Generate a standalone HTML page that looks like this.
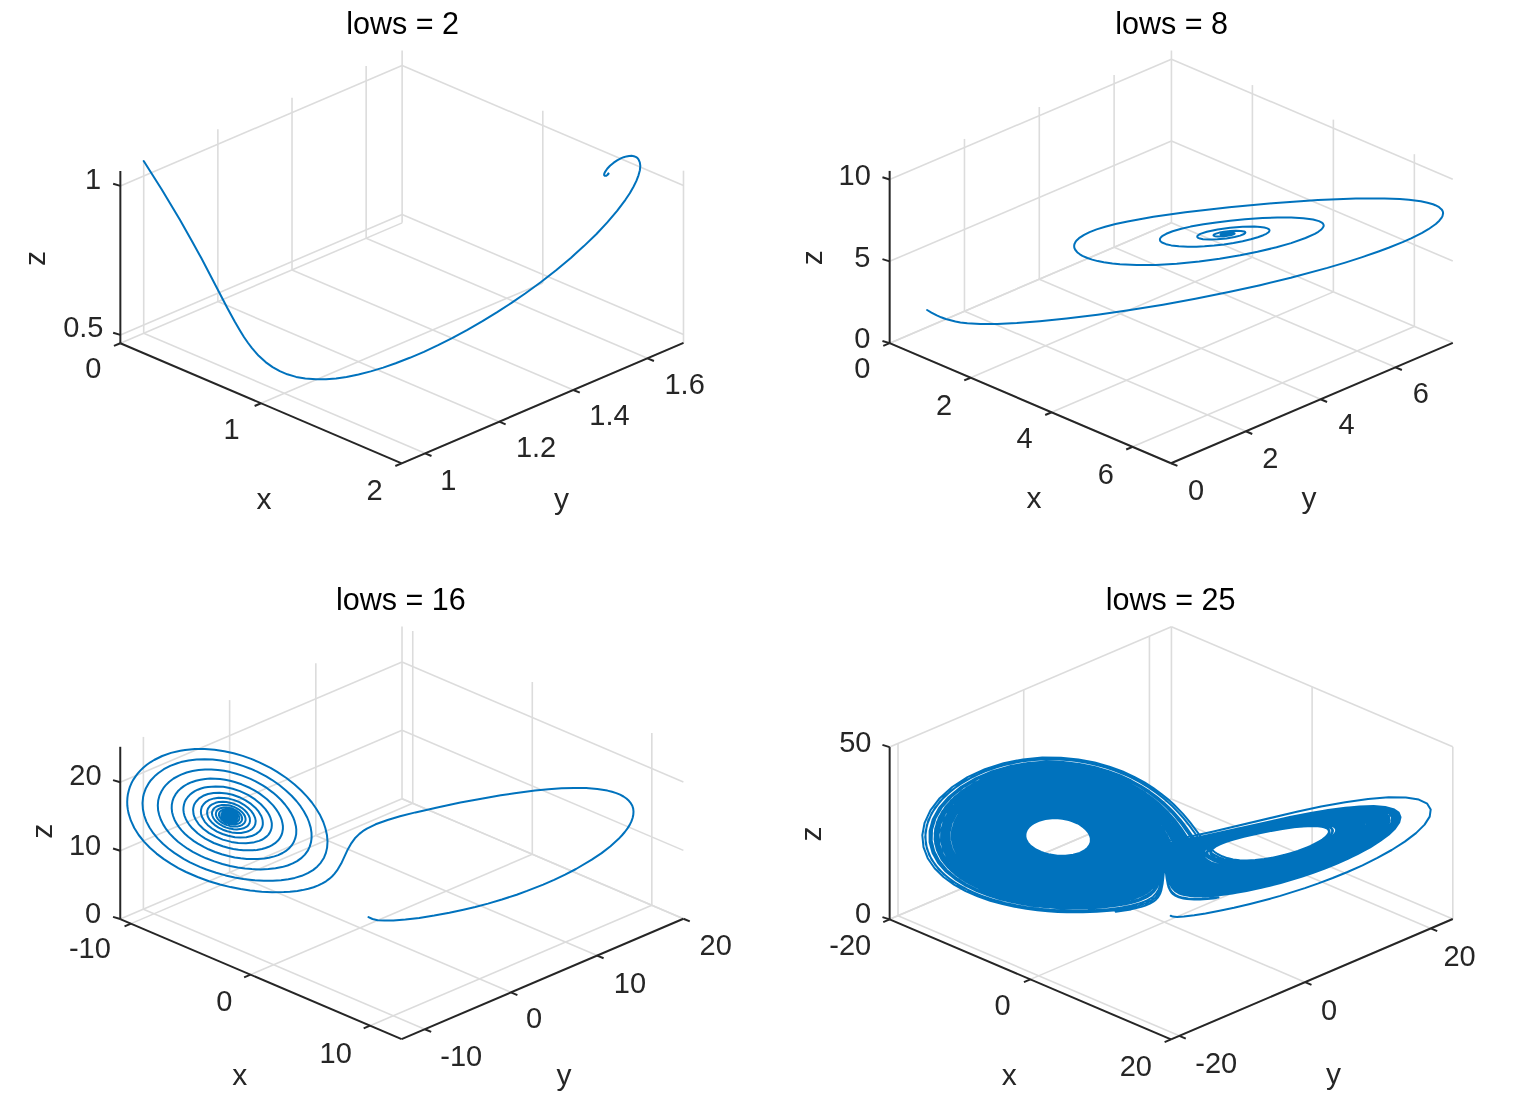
<!DOCTYPE html><html><head><meta charset="utf-8"><title>Lorenz</title><style>html,body{margin:0;padding:0;background:#fff;overflow:hidden}svg{display:block}</style></head><body><svg width="1535" height="1103" viewBox="0 0 1535 1103" font-family="'Liberation Sans', Arial, Helvetica, sans-serif"><rect width="1535" height="1103" fill="#fff"/><g><line x1="120.35" y1="343.25" x2="402.12" y2="222.87" stroke="#dcdcdc" stroke-width="1.60"/><line x1="402.12" y1="222.87" x2="402.12" y2="50.62" stroke="#dcdcdc" stroke-width="1.60"/><line x1="261.03" y1="403.28" x2="542.80" y2="282.90" stroke="#dcdcdc" stroke-width="1.60"/><line x1="542.80" y1="282.90" x2="542.80" y2="110.65" stroke="#dcdcdc" stroke-width="1.60"/><line x1="401.72" y1="463.32" x2="683.49" y2="342.94" stroke="#dcdcdc" stroke-width="1.60"/><line x1="683.49" y1="342.94" x2="683.49" y2="170.69" stroke="#dcdcdc" stroke-width="1.60"/><line x1="143.71" y1="333.27" x2="425.08" y2="453.34" stroke="#dcdcdc" stroke-width="1.60"/><line x1="143.71" y1="333.27" x2="143.71" y2="161.02" stroke="#dcdcdc" stroke-width="1.60"/><line x1="217.86" y1="301.59" x2="499.23" y2="421.66" stroke="#dcdcdc" stroke-width="1.60"/><line x1="217.86" y1="301.59" x2="217.86" y2="129.34" stroke="#dcdcdc" stroke-width="1.60"/><line x1="292.01" y1="269.91" x2="573.38" y2="389.98" stroke="#dcdcdc" stroke-width="1.60"/><line x1="292.01" y1="269.91" x2="292.01" y2="97.66" stroke="#dcdcdc" stroke-width="1.60"/><line x1="366.16" y1="238.23" x2="647.53" y2="358.30" stroke="#dcdcdc" stroke-width="1.60"/><line x1="366.16" y1="238.23" x2="366.16" y2="65.98" stroke="#dcdcdc" stroke-width="1.60"/><line x1="120.35" y1="334.91" x2="402.12" y2="214.53" stroke="#dcdcdc" stroke-width="1.60"/><line x1="402.12" y1="214.53" x2="683.49" y2="334.60" stroke="#dcdcdc" stroke-width="1.60"/><line x1="120.35" y1="185.90" x2="402.12" y2="65.52" stroke="#dcdcdc" stroke-width="1.60"/><line x1="402.12" y1="65.52" x2="683.49" y2="185.59" stroke="#dcdcdc" stroke-width="1.60"/></g><path d="M143.7 161.0l17.9 28.2 18.3 30.6 11.7 20.6 9.7 17.7 26.3 50.4 7.1 13 5.4 9.2 4 6.5 4 5.8 3.9 5.1 6.7 7.7 6.9 6.3 7 5 7.2 4.1 7.5 3.1 8.8 2.6 9.2 1.6 10.8 .8 9.9 -.1 10.1 -.8 10.4 -1.5 12 -2.4 12.2 -3.1 12.5 -3.8 12.5 -4.3 14.1 -5.5 14.1 -6 14.2 -6.6 14 -7.1 15.3 -8.2 15.1 -8.7 14.7 -9 14.3 -9.3 13.7 -9.4 15.5 -11.3 15.7 -12.2 14.4 -12.1 13.1 -11.8 12.6 -12.1 10.8 -11.6 9.8 -11.5 8.3 -11.1 4.4 -6.5 3.7 -6.5 2.9 -5.9 2.1 -5.6 1.4 -5.1 .4 -4.3 -.5 -3.6 -1.3 -2.9 -1.2 -1.5 -1.6 -1 -1.8 -.7 -2.3 -.4 -2.5 .1 -2.6 .5 -2.8 .8 -2.9 1.2 -3.7 2 -3.7 2.5 -3.4 2.9 -2.8 3 -2.4 3.6 -.6 1.5 -.1 1.1 .7 .8 1.3 0 1.9 -1.3 .6 -.9 -.2 -.2 -.3 .3" fill="none" stroke="#0072bd" stroke-width="2.00" stroke-linejoin="round" stroke-linecap="round"/><g stroke-linecap="butt"><line x1="120.35" y1="343.25" x2="401.72" y2="463.32" stroke="#262626" stroke-width="2.00"/><line x1="401.72" y1="463.32" x2="683.49" y2="342.94" stroke="#262626" stroke-width="2.00"/><line x1="120.35" y1="343.25" x2="120.35" y2="171.00" stroke="#262626" stroke-width="2.00"/><line x1="120.35" y1="343.25" x2="113.95" y2="345.95" stroke="#262626" stroke-width="2.00"/><line x1="261.03" y1="403.28" x2="254.63" y2="405.98" stroke="#262626" stroke-width="2.00"/><line x1="401.72" y1="463.32" x2="395.32" y2="466.02" stroke="#262626" stroke-width="2.00"/><line x1="425.08" y1="453.34" x2="431.48" y2="456.04" stroke="#262626" stroke-width="2.00"/><line x1="499.23" y1="421.66" x2="505.63" y2="424.36" stroke="#262626" stroke-width="2.00"/><line x1="573.38" y1="389.98" x2="579.78" y2="392.68" stroke="#262626" stroke-width="2.00"/><line x1="647.53" y1="358.30" x2="653.93" y2="361.00" stroke="#262626" stroke-width="2.00"/><line x1="120.35" y1="334.91" x2="113.15" y2="332.71" stroke="#262626" stroke-width="2.00"/><line x1="120.35" y1="185.90" x2="113.15" y2="183.70" stroke="#262626" stroke-width="2.00"/></g><g><text x="346.18" y="33.85" font-size="30.50" fill="#000">lows = 2</text><text x="84.90" y="189.27" font-size="29.00" fill="#262626">1</text><text x="63.19" y="337.42" font-size="29.00" fill="#262626">0.5</text><text x="85.32" y="378.17" font-size="29.00" fill="#262626">0</text><text x="223.45" y="438.62" font-size="29.00" fill="#262626">1</text><text x="366.55" y="500.31" font-size="29.00" fill="#262626">2</text><text x="440.25" y="489.97" font-size="29.00" fill="#262626">1</text><text x="515.93" y="457.31" font-size="29.00" fill="#262626">1.2</text><text x="589.31" y="425.47" font-size="29.00" fill="#262626">1.4</text><text x="664.47" y="394.07" font-size="29.00" fill="#262626">1.6</text><text x="256.55" y="508.56" font-size="30.00" fill="#262626">x</text><text x="554.05" y="508.55" font-size="30.00" fill="#262626">y</text><text transform="translate(45.06 266.00) rotate(-90)" font-size="30.00" fill="#262626">z</text></g><g><line x1="889.65" y1="343.15" x2="1171.42" y2="222.77" stroke="#dcdcdc" stroke-width="1.60"/><line x1="1171.42" y1="222.77" x2="1171.42" y2="50.52" stroke="#dcdcdc" stroke-width="1.60"/><line x1="970.63" y1="377.71" x2="1252.40" y2="257.33" stroke="#dcdcdc" stroke-width="1.60"/><line x1="1252.40" y1="257.33" x2="1252.40" y2="85.08" stroke="#dcdcdc" stroke-width="1.60"/><line x1="1051.61" y1="412.26" x2="1333.38" y2="291.88" stroke="#dcdcdc" stroke-width="1.60"/><line x1="1333.38" y1="291.88" x2="1333.38" y2="119.63" stroke="#dcdcdc" stroke-width="1.60"/><line x1="1132.59" y1="446.82" x2="1414.36" y2="326.44" stroke="#dcdcdc" stroke-width="1.60"/><line x1="1414.36" y1="326.44" x2="1414.36" y2="154.19" stroke="#dcdcdc" stroke-width="1.60"/><line x1="889.65" y1="343.15" x2="1171.02" y2="463.22" stroke="#dcdcdc" stroke-width="1.60"/><line x1="889.65" y1="343.15" x2="889.65" y2="170.90" stroke="#dcdcdc" stroke-width="1.60"/><line x1="964.47" y1="311.19" x2="1245.84" y2="431.26" stroke="#dcdcdc" stroke-width="1.60"/><line x1="964.47" y1="311.19" x2="964.47" y2="138.94" stroke="#dcdcdc" stroke-width="1.60"/><line x1="1039.29" y1="279.22" x2="1320.66" y2="399.29" stroke="#dcdcdc" stroke-width="1.60"/><line x1="1039.29" y1="279.22" x2="1039.29" y2="106.97" stroke="#dcdcdc" stroke-width="1.60"/><line x1="1114.11" y1="247.26" x2="1395.48" y2="367.33" stroke="#dcdcdc" stroke-width="1.60"/><line x1="1114.11" y1="247.26" x2="1114.11" y2="75.01" stroke="#dcdcdc" stroke-width="1.60"/><line x1="889.65" y1="343.15" x2="1171.42" y2="222.77" stroke="#dcdcdc" stroke-width="1.60"/><line x1="1171.42" y1="222.77" x2="1452.79" y2="342.84" stroke="#dcdcdc" stroke-width="1.60"/><line x1="889.65" y1="261.34" x2="1171.42" y2="140.96" stroke="#dcdcdc" stroke-width="1.60"/><line x1="1171.42" y1="140.96" x2="1452.79" y2="261.03" stroke="#dcdcdc" stroke-width="1.60"/><line x1="889.65" y1="179.52" x2="1171.42" y2="59.14" stroke="#dcdcdc" stroke-width="1.60"/><line x1="1171.42" y1="59.14" x2="1452.79" y2="179.21" stroke="#dcdcdc" stroke-width="1.60"/></g><path d="M927.1 310.0l4.3 2.6 5.4 2.8 4.3 1.9 4.7 1.7 9.6 2.5 5 .9 6.9 .8 13 .8 16.9 -.1 19.6 -.9 22.9 -1.8 26.8 -2.7 31.1 -3.8 30.9 -4.4 34.5 -5.6 32.4 -5.9 34.6 -7 30.1 -6.6 30.7 -7.4 36.6 -9.9 17.8 -5.3 17.1 -5.5 16.2 -5.6 10.1 -3.7 14 -5.7 8.5 -3.8 11 -5.5 6.3 -3.6 7.4 -5.2 3.5 -3.3 2.4 -3.1 .8 -1.5 .6 -2.8 -.2 -1.4 -.5 -1.3 -.8 -1.2 -2.5 -2.2 -3.8 -2 -2.3 -.9 -5.5 -1.6 -6.7 -1.4 -11.9 -1.5 -9.1 -.7 -15.3 -.6 -28.7 .1 -18.7 .6 -19.2 .9 -45.4 3.1 -43.3 4 -43.8 5 -32 4.5 -25.8 4.7 -12.1 2.6 -10.3 2.7 -8.6 2.7 -7 2.7 -5.5 2.7 -5.1 3.4 -2.7 2.6 -.9 1.3 -.9 1.9 -.3 1.3 0 1.8 .3 1.2 .9 1.7 2.4 2.8 2.1 1.5 2.5 1.5 5 2.2 4.8 1.6 5.5 1.5 6.1 1.2 8.6 1.2 7.5 .8 16.8 .8 19 -.2 21 -1.1 22.5 -2.2 20.4 -2.8 20.6 -3.5 17.3 -3.5 19 -4.5 14.6 -4.2 14.4 -5.1 9.3 -4.2 3.5 -2 2.7 -2 1.7 -1.9 .9 -1.7 .1 -1.1 -.7 -1.5 -1.6 -1.3 -2.4 -1.2 -5.9 -1.6 -9.8 -1.3 -12.1 -.6 -13.9 0 -14.8 .5 -17.6 1.2 -14.8 1.4 -13.9 1.7 -12.7 1.9 -12.9 2.3 -9.3 2.2 -8.7 2.5 -6.3 2.5 -4.2 2.4 -1.1 1 -.9 1.3 -.2 .9 .2 1.2 .6 .9 1.3 1 4.1 1.7 5.2 1.2 7.5 .9 9 .5 8.7 -.1 8 -.4 9.7 -.8 9.8 -1.1 9.5 -1.5 9.1 -1.7 8.2 -1.9 7 -2.1 5.5 -2 3 -1.4 2.3 -1.6 .9 -1.5 -.1 -.7 -.3 -.6 -1.8 -1 -3 -.9 -4.1 -.5 -5.8 -.4 -11.8 .2 -12.5 .9 -12.5 1.7 -10.8 2.3 -6.5 2.2 -2 1.2 -1 1 0 1 .9 .8 1.8 .7 3 .6 6.6 .4 7.8 -.3 9 -.9 8.2 -1.4 5.5 -1.4 4 -1.6 .9 -.7 .4 -.7 -.3 -.6 -1 -.5 -3.2 -.6 -5 -.1 -5.7 .3 -6.1 .7 -4.5 .8 -3.6 1 -2.2 1.1 -.3 .5 .1 .4 1.3 .6 2.5 .3 7.3 -.3 6.6 -1.1 2.2 -.7 1.1 -.7 -.1 -.5 -1.1 -.3 -4.5 -.1 -4.6 .5 -3.2 .9 -.5 .4 .3 .4 2.3 .2 3.2 -.2 2.7 -.6 .8 -.5 -1 -.3 -4 .3 -1.1 .4 .2 .3 2.7 -.1 1 -.3 .1 -.2 -1.6 0 -1.1 .3 .9 .1 .9 -.2 -.7 0" fill="none" stroke="#0072bd" stroke-width="2.00" stroke-linejoin="round" stroke-linecap="round"/><g stroke-linecap="butt"><line x1="889.65" y1="343.15" x2="1171.02" y2="463.22" stroke="#262626" stroke-width="2.00"/><line x1="1171.02" y1="463.22" x2="1452.79" y2="342.84" stroke="#262626" stroke-width="2.00"/><line x1="889.65" y1="343.15" x2="889.65" y2="170.90" stroke="#262626" stroke-width="2.00"/><line x1="889.65" y1="343.15" x2="883.25" y2="345.85" stroke="#262626" stroke-width="2.00"/><line x1="970.63" y1="377.71" x2="964.23" y2="380.41" stroke="#262626" stroke-width="2.00"/><line x1="1051.61" y1="412.26" x2="1045.21" y2="414.96" stroke="#262626" stroke-width="2.00"/><line x1="1132.59" y1="446.82" x2="1126.19" y2="449.52" stroke="#262626" stroke-width="2.00"/><line x1="1171.02" y1="463.22" x2="1177.42" y2="465.92" stroke="#262626" stroke-width="2.00"/><line x1="1245.84" y1="431.26" x2="1252.24" y2="433.96" stroke="#262626" stroke-width="2.00"/><line x1="1320.66" y1="399.29" x2="1327.06" y2="401.99" stroke="#262626" stroke-width="2.00"/><line x1="1395.48" y1="367.33" x2="1401.88" y2="370.03" stroke="#262626" stroke-width="2.00"/><line x1="889.65" y1="343.15" x2="882.45" y2="340.95" stroke="#262626" stroke-width="2.00"/><line x1="889.65" y1="261.34" x2="882.45" y2="259.14" stroke="#262626" stroke-width="2.00"/><line x1="889.65" y1="179.52" x2="882.45" y2="177.32" stroke="#262626" stroke-width="2.00"/></g><g><text x="1115.27" y="34.10" font-size="30.50" fill="#000">lows = 8</text><text x="838.56" y="184.97" font-size="29.00" fill="#262626">10</text><text x="854.25" y="266.82" font-size="29.00" fill="#262626">5</text><text x="854.22" y="348.47" font-size="29.00" fill="#262626">0</text><text x="854.22" y="377.97" font-size="29.00" fill="#262626">0</text><text x="935.95" y="414.81" font-size="29.00" fill="#262626">2</text><text x="1016.52" y="447.97" font-size="29.00" fill="#262626">4</text><text x="1097.84" y="483.57" font-size="29.00" fill="#262626">6</text><text x="1188.12" y="499.67" font-size="29.00" fill="#262626">0</text><text x="1262.15" y="468.11" font-size="29.00" fill="#262626">2</text><text x="1338.62" y="434.47" font-size="29.00" fill="#262626">4</text><text x="1412.64" y="402.77" font-size="29.00" fill="#262626">6</text><text x="1026.40" y="508.11" font-size="30.00" fill="#262626">x</text><text x="1301.40" y="508.20" font-size="30.00" fill="#262626">y</text><text transform="translate(821.61 265.15) rotate(-90)" font-size="30.00" fill="#262626">z</text></g><g><line x1="130.98" y1="923.63" x2="412.75" y2="803.25" stroke="#dcdcdc" stroke-width="1.60"/><line x1="412.75" y1="803.25" x2="412.75" y2="631.00" stroke="#dcdcdc" stroke-width="1.60"/><line x1="250.52" y1="974.64" x2="532.29" y2="854.26" stroke="#dcdcdc" stroke-width="1.60"/><line x1="532.29" y1="854.26" x2="532.29" y2="682.01" stroke="#dcdcdc" stroke-width="1.60"/><line x1="370.06" y1="1025.65" x2="651.83" y2="905.27" stroke="#dcdcdc" stroke-width="1.60"/><line x1="651.83" y1="905.27" x2="651.83" y2="733.02" stroke="#dcdcdc" stroke-width="1.60"/><line x1="143.41" y1="909.15" x2="424.78" y2="1029.22" stroke="#dcdcdc" stroke-width="1.60"/><line x1="143.41" y1="909.15" x2="143.41" y2="736.90" stroke="#dcdcdc" stroke-width="1.60"/><line x1="229.62" y1="872.33" x2="510.99" y2="992.40" stroke="#dcdcdc" stroke-width="1.60"/><line x1="229.62" y1="872.33" x2="229.62" y2="700.08" stroke="#dcdcdc" stroke-width="1.60"/><line x1="315.82" y1="835.50" x2="597.19" y2="955.57" stroke="#dcdcdc" stroke-width="1.60"/><line x1="315.82" y1="835.50" x2="315.82" y2="663.25" stroke="#dcdcdc" stroke-width="1.60"/><line x1="402.02" y1="798.67" x2="683.39" y2="918.74" stroke="#dcdcdc" stroke-width="1.60"/><line x1="402.02" y1="798.67" x2="402.02" y2="626.42" stroke="#dcdcdc" stroke-width="1.60"/><line x1="120.25" y1="919.05" x2="402.02" y2="798.67" stroke="#dcdcdc" stroke-width="1.60"/><line x1="402.02" y1="798.67" x2="683.39" y2="918.74" stroke="#dcdcdc" stroke-width="1.60"/><line x1="120.25" y1="850.69" x2="402.02" y2="730.31" stroke="#dcdcdc" stroke-width="1.60"/><line x1="402.02" y1="730.31" x2="683.39" y2="850.38" stroke="#dcdcdc" stroke-width="1.60"/><line x1="120.25" y1="782.32" x2="402.02" y2="661.94" stroke="#dcdcdc" stroke-width="1.60"/><line x1="402.02" y1="661.94" x2="683.39" y2="782.01" stroke="#dcdcdc" stroke-width="1.60"/></g><path d="M368.5 917.1l4 1.9 5.2 1.2 6.8 .4 8.9 -.2 12 -.9 13.8 -1.6 15 -2.3 15.2 -2.8 14 -3 11.8 -2.8 12.8 -3.4 13.9 -4.1 14.8 -4.8 10.4 -3.8 16.1 -6.3 10.9 -4.8 11 -5.2 10.9 -5.6 15.8 -9.3 9.8 -6.6 8.9 -6.9 7.9 -7.1 3.4 -3.6 3 -3.5 2.7 -3.6 2.2 -3.5 1.7 -3.5 1.2 -3.4 .7 -3.3 .2 -3.1 -.3 -3 -.9 -2.8 -1.5 -2.6 -1.9 -2.4 -2.5 -2.3 -2.9 -2 -3.4 -1.8 -3.8 -1.6 -4.3 -1.3 -4.6 -1.2 -10.1 -1.6 -11.2 -.9 -12 -.2 -12.6 .4 -13.1 .9 -13.4 1.3 -20.4 2.7 -13.8 2.1 -20.8 3.6 -19.6 3.7 -23.1 4.8 -21.9 5 -15.4 3.9 -12.4 3.7 -12 4.3 -8.7 4.3 -4.1 2.6 -3.4 2.7 -4.5 4.4 -4 5.6 -3 5.3 -6.7 14.4 -4.1 6.8 -2.7 3.5 -2.4 2.6 -2.8 2.4 -3.2 2.4 -3.6 2.1 -4.1 2 -4.7 1.8 -5.2 1.5 -6 1.4 -5 .8 -7.5 .8 -6.1 .4 -11.6 .1 -10.5 -.5 -11.6 -1.2 -9.4 -1.4 -10.1 -2 -10.6 -2.6 -11 -3.3 -11.4 -4.2 -11.6 -5 -7.7 -3.9 -7.5 -4.4 -7.3 -4.8 -7 -5.3 -6.6 -5.8 -5.9 -6.2 -5.3 -6.6 -4.4 -7 -3.4 -7.3 -2.4 -7.6 -.7 -3.7 -.5 -3.9 -.1 -3.8 .2 -3.8 .5 -3.7 .9 -3.7 1.1 -3.6 1.5 -3.6 1.8 -3.4 2.2 -3.3 2.4 -3.2 2.7 -3 3 -2.9 3.3 -2.7 3.5 -2.5 3.8 -2.3 8.1 -4 8.8 -3.1 9.3 -2.2 4.8 -.7 9.8 -.9 9.9 0 9.8 .7 9.7 1.4 9.4 2.1 9 2.6 8.5 3 8.1 3.4 11.2 5.6 6.7 4 9.2 6.1 7.9 6.3 6.9 6.2 5.8 6.1 4.9 5.9 4 5.7 4.3 7.1 3.1 6.7 2.1 6.2 1.6 7.1 .5 6.4 -.4 5.9 -1.2 5.3 -1.9 4.8 -3.3 5.1 -3.5 3.9 -4.2 3.4 -5.2 3 -6 2.7 -7 2.1 -6.5 1.4 -7.3 .9 -8.1 .6 -9 0 -9.8 -.6 -10.8 -1.3 -8.7 -1.5 -9.1 -2 -9.4 -2.6 -9.7 -3.3 -6.6 -2.6 -9.8 -4.6 -6.4 -3.5 -9.3 -5.9 -5.9 -4.4 -5.5 -4.7 -5.1 -5.2 -4.5 -5.4 -3.8 -5.7 -3.1 -5.9 -2.2 -6.1 -1.3 -6.2 -.4 -6.2 .6 -6.1 .7 -3 2.1 -5.8 3.1 -5.4 1.9 -2.6 4.6 -4.8 2.6 -2.2 5.7 -4 6.4 -3.3 7.1 -2.7 3.6 -1.1 7.7 -1.6 7.9 -1 8.1 -.3 8.1 .4 8 .9 7.8 1.4 7.7 1.9 7.3 2.3 7 2.6 6.6 2.9 9.1 4.8 5.6 3.4 7.5 5.2 6.6 5.4 5.7 5.4 4.8 5.2 4.1 5.2 3.3 5 3.4 6.3 1.8 4.5 1.7 5.6 .8 5.3 .1 4.9 -.6 4.5 -1.2 4.1 -1.8 3.9 -3.1 4.3 -4 3.8 -3.8 2.7 -4.4 2.3 -5.1 2.1 -5.7 1.6 -6.4 1.2 -7.2 .8 -7.8 .3 -8.6 -.3 -6.9 -.6 -7.3 -1 -7.6 -1.5 -7.8 -2 -8 -2.6 -8.2 -3.1 -5.4 -2.4 -7.9 -4.1 -5.2 -3.1 -4.9 -3.4 -4.7 -3.6 -4.3 -4 -4 -4.1 -3.5 -4.4 -2.9 -4.6 -2.4 -4.8 -1.7 -4.8 -1.1 -4.8 -.3 -4.9 .4 -4.8 1.2 -4.6 2 -4.4 2.6 -4.2 1.6 -1.9 3.7 -3.7 4.3 -3.2 4.9 -2.7 2.6 -1.2 5.5 -2.1 5.9 -1.5 6.1 -1 6.4 -.5 6.3 0 6.5 .4 6.3 .9 6.2 1.3 6.1 1.6 5.8 1.9 8.3 3.3 5.1 2.5 7.1 4 4.4 2.8 5.8 4.4 3.5 3 4.7 4.4 3.9 4.5 3.3 4.4 2.7 4.2 2.1 4.1 1.5 4 1.3 5 .4 3.5 -.1 4.4 -.9 4.1 -1.5 3.8 -2.1 3.4 -2.8 3.1 -3.3 2.7 -3 1.8 -4.4 2.1 -3.8 1.3 -5.5 1.4 -4.5 .7 -6.6 .6 -5.4 0 -5.6 -.2 -6 -.6 -6.1 -.9 -6.4 -1.4 -6.6 -1.8 -6.6 -2.2 -6.6 -2.7 -4.3 -2.1 -6.3 -3.5 -4 -2.6 -5.7 -4.3 -3.4 -3.1 -3.2 -3.3 -2.8 -3.5 -2.3 -3.5 -2 -3.7 -1.4 -3.7 -1 -3.8 -.4 -3.8 .1 -3.7 .7 -3.6 1.2 -3.4 1.8 -3.3 2.3 -3.1 2.8 -2.7 3.3 -2.5 3.6 -2.1 4.1 -1.8 4.3 -1.5 4.6 -1 4.8 -.7 4.9 -.4 4.9 .1 5 .3 5 .7 4.9 1 4.7 1.3 6.9 2.3 8.5 3.7 3.8 2.1 5.4 3.3 7.7 5.9 6.1 6.1 2.9 3.7 2.4 3.6 1.8 3.5 1.4 3.4 .8 3.3 .5 3.1 0 3 -.6 3.7 -.9 2.6 -1.7 3.1 -1.7 2.2 -2.9 2.6 -3.4 2.2 -2.9 1.4 -3.3 1.2 -3.5 1 -5.2 .9 -4.2 .4 -9.3 0 -4.9 -.5 -5.1 -.8 -5.3 -1.2 -5.3 -1.5 -8.9 -3.3 -8.5 -4.4 -4.7 -3.1 -3 -2.2 -5.3 -5 -3.3 -4 -1.8 -2.7 -1.5 -2.9 -1.2 -2.9 -.7 -2.8 -.4 -2.9 .1 -2.9 .5 -2.7 .8 -2.7 1.3 -2.5 1.7 -2.3 2 -2.2 2.4 -1.9 2.6 -1.8 3 -1.4 3.2 -1.2 3.4 -1 3.6 -.6 7.6 -.5 7.7 .4 3.8 .7 5.6 1.3 7.2 2.3 8.1 3.8 7.1 4.5 5.8 4.8 4.5 4.9 2.1 3 1.7 2.9 1.3 2.9 .8 2.8 .5 2.6 0 2.6 -.3 2.4 -.7 2.2 -1 2.1 -1.3 2 -1.7 1.8 -2.7 2 -2.3 1.4 -2.7 1.1 -6.1 1.7 -7 .7 -7.8 -.3 -6.9 -1.1 -8.6 -2.3 -7 -2.9 -6.6 -3.6 -5.9 -4.4 -3 -2.9 -1.8 -2 -2.8 -4.3 -1.5 -3.3 -.6 -2.2 -.4 -4.4 .3 -2.1 .5 -2.1 .9 -1.9 1.2 -1.8 3.1 -3.3 4.1 -2.6 4.8 -1.8 5.5 -1.1 5.8 -.2 7.4 .7 5.9 1.3 6.8 2.5 6.2 3.1 5.4 3.6 4.3 3.8 3.4 4 2.4 4 .9 2.3 .6 2.3 .2 2.1 0 2.1 -.4 2 -.8 1.8 -1 1.7 -1.3 1.5 -3.4 2.6 -4.3 2 -5.3 1.1 -6 .3 -5.4 -.3 -6.8 -1.4 -5.6 -1.8 -5.5 -2.4 -5 -3.1 -4.4 -3.6 -2.8 -3.1 -2.5 -4.2 -1.2 -3.4 -.2 -2.5 .1 -1.7 .8 -3.1 1.8 -2.7 2.5 -2.4 3.2 -1.9 4.9 -1.5 4.3 -.6 5.6 .1 4.6 .7 5.6 1.5 5.1 2.1 4.6 2.6 3.9 3 3.2 3.1 2.3 3.2 1.7 3.8 .6 3 -.4 3.3 -1.1 2.4 -2.2 2.5 -3.2 1.9 -3.2 1.1 -4.5 .8 -4.1 .1 -5.3 -.6 -4.5 -1.1 -4.4 -1.6 -4.2 -2.1 -3.8 -2.5 -3.2 -2.9 -2.5 -3.1 -1.3 -2.6 -.7 -3.3 .2 -2.5 .8 -2.3 1.9 -2.5 2.2 -1.6 3.4 -1.5 3.1 -.8 4.3 -.2 3.5 .2 4.4 .9 3.4 1.1 3.9 1.7 3.5 2.1 3 2.4 2.3 2.5 1.9 3.1 .9 2.4 .2 2.9 -.5 2.1 -1.4 2.2 -1.8 1.5 -2.8 1.4 -3.4 .8 -3.2 .3 -3.4 -.2 -3.5 -.6 -3.6 -1 -3.4 -1.4 -3.2 -1.8 -2.3 -1.6 -2.4 -2.3 -1.8 -2.5 -1 -2.5 -.3 -2 .2 -1.9 .9 -2.1 1.3 -1.5 2.2 -1.5 2.2 -.8 3 -.6 2.7 -.2 3.4 .3 2.7 .6 3.3 1.1 3 1.4 2.7 1.7 2.2 1.9 1.7 2 1.3 2 .7 2.4 .1 1.8 -.5 1.7 -.9 1.5 -1.8 1.5 -1.8 .9 -2.7 .7 -2.6 .2 -2.7 -.2 -2.8 -.5 -2.8 -.8 -2.7 -1.1 -2.5 -1.4 -2.1 -1.6 -1.8 -1.9 -1.2 -1.9 -.6 -1.5 -.3 -1.6 .3 -1.8 .6 -1.3 1.3 -1.4 1.4 -.9 2 -.8 2.4 -.4 2.6 0 4.8 .8 2.5 1 2.3 1.1 2 1.4 1.6 1.5 1.3 1.6 .8 1.6 .4 1.5 0 1.5 -.4 1.3 -1.1 1.4 -1.2 .9 -1.6 .7 -2.2 .4 -2 .1 -4.4 -.6 -4.3 -1.6 -3.4 -2.5 -2 -2.7 -.5 -1.5 -.1 -1.1 .2 -1.1 .6 -1.3 .9 -.8 1.3 -.8 1.7 -.6 1.8 -.3 3.7 .3 4 1.2 3.3 2.1 2.2 2.4 .6 1.2 .2 1.3 0 1.1 -.4 1 -.8 .9 -1 .7 -1.2 .6 -1.7 .3 -3.4 -.1 -3.4 -.9 -3.1 -1.7 -2 -1.9 -1 -2.1 -.1 -1.1 .2 -1.1 1.3 -1.5 2.4 -1 2.7 -.1 3.2 .6 2.9 1.4 2.1 1.8 1.1 2 0 1.8 -1 1.5 -1.8 .9 -2.5 .2 -2.7 -.4 -2.6 -1.1 -2.1 -1.5 -1.1 -1.6 -.3 -1.8 .7 -1.3 1.6 -1 2 -.4 2.5 .3 2.3 .9 1.9 1.3 1.2 1.5 .4 1.5 -.5 1.3 -1.3 .9 -1.7 .4 -2.1 -.2 -2.1 -.7 -1.8 -1 -1.1 -1.3 -.5 -1.4 .2 -1.1 1 -.9 1.4 -.5 1.9 0 1.9 .5 1.6 .9 1.2 1.2 .5 1.2 -.1 1.1 -.8 .8 -1.2 .5 -1.6 0 -1.7 -.4 -1.5 -.7 -1 -.9 -.6 -1.1 0 -1 .6 -.9 1 -.4 1.4 -.1 1.5 .3 1.4 .6 1 .9 .6 .9 0 .9 -.5 .7 -.9 .5 -1.2 .1 -1.3 -.2 -1.2 -.5 -.9 -.7 -.6 -.8 -.1 -.9 .4 -.7 .7 -.4 1 -.1 2.3 .5 1.4 1.3 .2 .8 -.3 .6 -.6 .4 -.8 .2 -2 -.4 -1.4 -1.1 -.2 -.7 .1 -.6 1.2 -.6 1.8 .3 1.3 .9 .2 .6 0 .6 -1 .6 -1.6 -.2 -1.2 -.8 -.2 -1 .7 -.6 1.4 .1 1.1 .7 .4 .8 -.6 .6 -1.2 0 -1 -.5 -.4 -.8 .4 -.6 1 0 1 .4 .4 .7 -.3 .5 -.8 .1 -.9 -.3 -.5 -.6 .2 -.5 .7 -.2 .8 .3 .5 .5 -.1 .5 -.6 .2 -.7 -.2 -.5 -.5 0 -.4 .5 -.2 1.1 .5 0 .4 -.4 .2 -1 -.4 0 -.3 .3 -.2 .9 .3 .1 .3 -.2 .2 -.9 -.2 -.1 -.3 .2 -.2 .7 .1 0 .5 -.6 -.1 -.1 -.4 .6 0 .1 .4 -.5 0 -.1 -.4 .4 0 .1 .3 -.3 .1 -.2 -.3 .3 0 .2 .2 -.2 -.1" fill="none" stroke="#0072bd" stroke-width="2.00" stroke-linejoin="round" stroke-linecap="round"/><g stroke-linecap="butt"><line x1="120.25" y1="919.05" x2="401.62" y2="1039.12" stroke="#262626" stroke-width="2.00"/><line x1="401.62" y1="1039.12" x2="683.39" y2="918.74" stroke="#262626" stroke-width="2.00"/><line x1="120.25" y1="919.05" x2="120.25" y2="746.80" stroke="#262626" stroke-width="2.00"/><line x1="130.98" y1="923.63" x2="124.58" y2="926.33" stroke="#262626" stroke-width="2.00"/><line x1="250.52" y1="974.64" x2="244.12" y2="977.34" stroke="#262626" stroke-width="2.00"/><line x1="370.06" y1="1025.65" x2="363.66" y2="1028.35" stroke="#262626" stroke-width="2.00"/><line x1="424.78" y1="1029.22" x2="431.18" y2="1031.92" stroke="#262626" stroke-width="2.00"/><line x1="510.99" y1="992.40" x2="517.39" y2="995.10" stroke="#262626" stroke-width="2.00"/><line x1="597.19" y1="955.57" x2="603.59" y2="958.27" stroke="#262626" stroke-width="2.00"/><line x1="683.39" y1="918.74" x2="689.79" y2="921.44" stroke="#262626" stroke-width="2.00"/><line x1="120.25" y1="919.05" x2="113.05" y2="916.85" stroke="#262626" stroke-width="2.00"/><line x1="120.25" y1="850.69" x2="113.05" y2="848.49" stroke="#262626" stroke-width="2.00"/><line x1="120.25" y1="782.32" x2="113.05" y2="780.12" stroke="#262626" stroke-width="2.00"/></g><g><text x="336.07" y="609.90" font-size="30.50" fill="#000">lows = 16</text><text x="85.12" y="923.37" font-size="29.00" fill="#262626">0</text><text x="68.96" y="855.17" font-size="29.00" fill="#262626">10</text><text x="69.32" y="785.37" font-size="29.00" fill="#262626">20</text><text x="68.94" y="958.47" font-size="29.00" fill="#262626">-10</text><text x="216.32" y="1010.77" font-size="29.00" fill="#262626">0</text><text x="319.56" y="1062.87" font-size="29.00" fill="#262626">10</text><text x="440.24" y="1066.27" font-size="29.00" fill="#262626">-10</text><text x="526.12" y="1027.87" font-size="29.00" fill="#262626">0</text><text x="613.86" y="992.77" font-size="29.00" fill="#262626">10</text><text x="699.52" y="954.57" font-size="29.00" fill="#262626">20</text><text x="232.30" y="1084.81" font-size="30.00" fill="#262626">x</text><text x="556.60" y="1084.80" font-size="30.00" fill="#262626">y</text><text transform="translate(52.21 838.85) rotate(-90)" font-size="30.00" fill="#262626">z</text></g><g><line x1="889.65" y1="919.35" x2="1171.42" y2="798.97" stroke="#dcdcdc" stroke-width="1.60"/><line x1="1171.42" y1="798.97" x2="1171.42" y2="626.72" stroke="#dcdcdc" stroke-width="1.60"/><line x1="1030.34" y1="979.38" x2="1312.11" y2="859.00" stroke="#dcdcdc" stroke-width="1.60"/><line x1="1312.11" y1="859.00" x2="1312.11" y2="686.75" stroke="#dcdcdc" stroke-width="1.60"/><line x1="1171.02" y1="1039.42" x2="1452.79" y2="919.04" stroke="#dcdcdc" stroke-width="1.60"/><line x1="1452.79" y1="919.04" x2="1452.79" y2="746.79" stroke="#dcdcdc" stroke-width="1.60"/><line x1="898.01" y1="915.78" x2="1179.38" y2="1035.85" stroke="#dcdcdc" stroke-width="1.60"/><line x1="898.01" y1="915.78" x2="898.01" y2="743.53" stroke="#dcdcdc" stroke-width="1.60"/><line x1="1023.72" y1="862.07" x2="1305.09" y2="982.14" stroke="#dcdcdc" stroke-width="1.60"/><line x1="1023.72" y1="862.07" x2="1023.72" y2="689.82" stroke="#dcdcdc" stroke-width="1.60"/><line x1="1149.42" y1="808.37" x2="1430.79" y2="928.44" stroke="#dcdcdc" stroke-width="1.60"/><line x1="1149.42" y1="808.37" x2="1149.42" y2="636.12" stroke="#dcdcdc" stroke-width="1.60"/><line x1="889.65" y1="919.35" x2="1171.42" y2="798.97" stroke="#dcdcdc" stroke-width="1.60"/><line x1="1171.42" y1="798.97" x2="1452.79" y2="919.04" stroke="#dcdcdc" stroke-width="1.60"/><line x1="889.65" y1="747.10" x2="1171.42" y2="626.72" stroke="#dcdcdc" stroke-width="1.60"/><line x1="1171.42" y1="626.72" x2="1452.79" y2="746.79" stroke="#dcdcdc" stroke-width="1.60"/></g><path d="M1170.7 915.8l2 .8 4.4 .4 6.8 -.5 10.3 -1.3 11.3 -1.8 15.3 -2.9 13.2 -2.7 16 -3.8 19.3 -5 11 -3.1 24.6 -7.8 13.5 -4.7 14.3 -5.4 14.8 -6 15 -6.7 14.9 -7.4 14.3 -7.9 13.1 -8.4 11.2 -8.5 8.6 -8.5 5.1 -8 1 -7.1 -3.5 -5.8 -8.4 -4.1 -13 -2.2 -17.2 -.2 -20.5 1.7 -22.9 3.3 -24.1 4.4 -24.3 5.2 -84.4 19.9 -30.4 6.5 -12.4 2.3 -19.8 3 -14.6 1.6 -18.8 1.5 -8.8 .9 -6.7 1.4 -13.8 4.1 -6.6 1.6 -7.4 1.1 -5.4 .4 -8.7 -.2 -9 -1.3 -5.9 -1.6 -2.9 -1.1 -5.3 -2.4 -4.5 -3.1 -1.8 -1.7 -1.6 -1.9 -1.2 -1.9 -.9 -2 -.5 -2.1 0 -2.1 .3 -2.1 .8 -2 1.2 -2 1.5 -1.9 2 -1.7 2.3 -1.6 2.6 -1.4 2.9 -1.2 6.3 -1.8 6.8 -.8 3.5 -.1 6.8 .6 6.4 1.3 3 1 5.4 2.2 2.3 1.3 4.1 2.9 1.7 1.5 2.8 3.1 1 1.6 1.3 3.1 .4 1.6 0 3 -.2 1.4 -1.2 2.7 -1.9 2.5 -2.6 2.2 -5.1 2.8 -6.6 1.9 -7.7 1 -8.6 -.1 -9 -1.4 -5.9 -1.7 -2.8 -1.1 -5.1 -2.7 -2.3 -1.5 -3.8 -3.5 -1.4 -2 -1 -2 -.7 -2.1 -.2 -2.1 .1 -2.1 .6 -2.1 1 -2.1 1.5 -1.9 1.8 -1.9 2.2 -1.7 2.5 -1.5 2.9 -1.3 6.3 -2 6.9 -1.1 7 0 6.9 .8 3.2 .7 6.1 1.9 5.2 2.4 2.3 1.4 4 3 1.6 1.5 2.4 3.2 .9 1.6 1.2 3.2 .2 1.6 -.2 3 -.4 1.4 -1.3 2.7 -1 1.2 -2.4 2.4 -3.2 2 -1.8 .9 -6.5 2.1 -7.6 1.2 -8.7 .1 -9.1 -1.2 -6 -1.6 -2.9 -1 -5.5 -2.6 -4.6 -3.1 -1.9 -1.8 -1.7 -1.9 -1.2 -2 -.9 -2.1 -.5 -2.2 -.1 -2.1 .4 -2.2 .9 -2.1 1.2 -2.1 1.7 -2 2 -1.8 2.5 -1.6 2.7 -1.5 6.3 -2.3 6.9 -1.3 7.2 -.3 7.1 .6 6.6 1.5 6 2.1 5.1 2.6 4.2 3 3.3 3.1 1.2 1.7 1.8 3.2 1 3.2 .1 1.6 -.4 3 -.5 1.4 -1.5 2.7 -2.3 2.4 -1.4 1.1 -3.4 2 -1.9 .9 -4.4 1.4 -7.5 1.4 -5.7 .3 -6 -.2 -6.2 -.7 -6.2 -1.4 -5.9 -2.1 -5.5 -2.7 -4.5 -3.3 -1.8 -1.9 -1.6 -2 -1.1 -2.1 -.7 -2.2 -.3 -2.2 .1 -2.2 .6 -2.2 1 -2.2 1.5 -2 1.8 -2 2.3 -1.8 2.6 -1.6 3 -1.4 3.2 -1.2 6.9 -1.6 7.3 -.6 7.3 .4 7 1.3 6.3 1.9 5.4 2.6 4.6 2.9 3.6 3.2 1.4 1.7 2.1 3.3 1.2 3.3 .2 1.6 -.1 3.1 -.4 1.4 -1.3 2.8 -1 1.3 -2.5 2.4 -3.1 2.1 -1.9 1 -4.2 1.5 -7.4 1.7 -5.6 .5 -9.1 -.2 -6.4 -.9 -6.3 -1.6 -6 -2.2 -5.4 -2.8 -4.5 -3.6 -1.7 -1.9 -1.5 -2.1 -1 -2.2 -.6 -2.2 -.2 -2.3 .3 -2.2 .8 -2.3 1.2 -2.2 1.7 -2.1 2 -1.9 2.5 -1.8 2.8 -1.5 3.1 -1.4 3.4 -1.1 7.2 -1.5 7.5 -.4 7.4 .6 7 1.4 6.3 2.2 5.4 2.7 4.4 3 3.5 3.3 1.3 1.7 2 3.4 1 3.3 .2 1.6 -.3 3.1 -.4 1.5 -1.5 2.8 -1.1 1.3 -2.6 2.4 -3.3 2.1 -2 .9 -4.3 1.5 -7.7 1.6 -5.7 .4 -6.2 0 -6.4 -.7 -6.5 -1.3 -6.3 -2 -5.8 -2.7 -4.9 -3.4 -2.1 -1.9 -1.7 -2 -1.4 -2.2 -.9 -2.2 -.5 -2.3 -.1 -2.3 .5 -2.4 .9 -2.2 1.3 -2.3 1.9 -2.1 2.2 -1.9 2.6 -1.8 3 -1.5 3.3 -1.3 7.1 -1.9 7.7 -.8 7.7 .3 7.3 1.1 6.7 2 5.8 2.6 4.9 3 3.8 3.3 1.6 1.7 2.3 3.4 1.4 3.4 .4 1.7 0 3.2 -.3 1.6 -1.2 2.9 -.9 1.4 -2.4 2.5 -3.1 2.2 -1.9 1 -6.4 2.5 -7.9 1.5 -5.9 .4 -6.4 -.1 -6.5 -.8 -6.6 -1.4 -6.4 -2.1 -5.9 -2.8 -5 -3.4 -2 -2 -1.7 -2.1 -1.3 -2.3 -.9 -2.3 -.4 -2.3 0 -2.4 .5 -2.4 1.1 -2.3 1.5 -2.3 1.9 -2.1 2.4 -2 2.8 -1.7 3.1 -1.6 3.4 -1.3 3.6 -1 3.8 -.8 7.9 -.7 7.8 .4 7.4 1.3 6.8 2.1 5.8 2.7 4.9 3.2 3.8 3.3 1.5 1.8 2.3 3.5 1.3 3.4 .3 1.7 0 3.3 -.4 1.5 -1.3 3 -.9 1.4 -2.5 2.5 -3.2 2.2 -1.9 1 -6.7 2.5 -8 1.5 -6.1 .4 -6.4 -.2 -6.7 -.8 -6.8 -1.4 -6.5 -2.2 -6 -2.9 -5.1 -3.6 -2 -2 -1.7 -2.2 -1.3 -2.3 -.9 -2.3 -.4 -2.5 .1 -2.4 .6 -2.5 1.1 -2.4 1.6 -2.3 2.1 -2.1 2.5 -2 2.9 -1.8 3.2 -1.6 3.5 -1.3 3.8 -1 3.9 -.7 8.1 -.7 8 .5 7.5 1.4 6.9 2.2 5.9 2.8 4.8 3.2 3.9 3.5 1.5 1.8 2.2 3.6 1.3 3.5 .3 1.7 -.1 3.3 -.4 1.6 -1.3 2.9 -1 1.4 -2.5 2.6 -3.3 2.3 -1.9 1 -6.8 2.5 -8.2 1.5 -6.2 .4 -6.6 -.2 -6.8 -.8 -6.9 -1.4 -6.7 -2.3 -6.2 -2.9 -2.7 -1.8 -2.5 -1.9 -2.1 -2.1 -1.8 -2.2 -1.3 -2.3 -.9 -2.5 -.4 -2.5 .1 -2.5 .6 -2.5 1.2 -2.5 1.6 -2.3 2.2 -2.3 2.6 -2 2.9 -1.8 3.4 -1.6 3.6 -1.3 3.9 -1.1 4 -.7 8.3 -.7 8.2 .5 7.7 1.5 7 2.3 6 2.9 5 3.3 3.8 3.5 1.6 1.8 2.3 3.7 1.2 3.6 .3 1.7 -.1 3.4 -.3 1.6 -1.4 3 -1 1.4 -2.6 2.6 -3.3 2.3 -1.9 1.1 -4.4 1.8 -2.5 .7 -8.3 1.6 -6.3 .4 -6.7 -.1 -7 -.8 -7.1 -1.4 -6.8 -2.3 -6.4 -2.9 -2.8 -1.8 -2.6 -2 -2.2 -2.1 -1.9 -2.3 -1.4 -2.4 -.9 -2.5 -.5 -2.5 0 -2.6 .6 -2.6 1.2 -2.5 1.6 -2.5 2.2 -2.3 2.6 -2.1 3 -1.9 3.4 -1.7 3.8 -1.3 3.9 -1.1 4.1 -.8 4.3 -.5 4.2 -.2 8.5 .5 7.9 1.5 7.2 2.3 6.2 2.9 5.1 3.4 4 3.6 1.6 1.9 2.3 3.7 1.4 3.7 .3 1.7 -.1 3.5 -.3 1.6 -1.4 3.1 -.9 1.4 -2.6 2.7 -3.3 2.4 -1.9 1.1 -4.4 1.8 -2.5 .8 -8.4 1.7 -6.3 .5 -6.8 -.1 -7.2 -.7 -7.2 -1.4 -7.1 -2.2 -6.6 -2.9 -3 -1.8 -2.7 -2 -2.4 -2.1 -2 -2.3 -1.6 -2.5 -1.1 -2.5 -.6 -2.6 0 -2.7 .5 -2.7 1 -2.6 1.6 -2.5 2.1 -2.4 2.6 -2.3 3.1 -2 3.4 -1.7 3.8 -1.5 4 -1.2 4.3 -.9 4.3 -.5 4.4 -.3 8.7 .4 8.2 1.5 7.5 2.3 6.4 3 2.8 1.7 4.7 3.5 3.6 3.8 1.4 1.9 2 3.8 1 3.7 .1 1.7 -.4 3.5 -.5 1.6 -1.7 3 -2.5 2.8 -1.5 1.3 -3.6 2.2 -2.1 1.1 -4.8 1.7 -2.6 .7 -8.9 1.5 -6.6 .3 -7.1 -.2 -7.4 -1 -7.4 -1.7 -7.2 -2.4 -6.5 -3.3 -2.9 -2 -2.6 -2.1 -2.2 -2.3 -1.8 -2.5 -1.3 -2.6 -.8 -2.7 -.2 -2.7 .3 -2.8 .8 -2.7 1.5 -2.6 2 -2.6 2.5 -2.3 3 -2.2 3.5 -1.9 3.8 -1.6 4.1 -1.3 4.3 -1 4.4 -.7 4.5 -.4 4.6 0 4.4 .3 8.6 1.3 7.7 2.3 6.8 3 2.9 1.7 5.1 3.6 3.8 3.8 1.6 2 2.2 3.9 1.1 3.7 .3 1.9 -.3 3.5 -.5 1.7 -1.5 3.1 -1.1 1.5 -2.7 2.7 -3.6 2.4 -2 1.1 -4.7 1.8 -2.6 .8 -8.8 1.7 -6.7 .5 -7.1 -.2 -7.5 -.7 -7.7 -1.5 -7.4 -2.4 -7 -3.1 -3.1 -1.9 -2.8 -2.1 -2.5 -2.3 -2.1 -2.5 -1.6 -2.6 -1.1 -2.7 -.6 -2.8 .1 -2.9 .6 -2.8 1.2 -2.8 1.8 -2.7 2.4 -2.5 2.9 -2.3 3.3 -2.1 3.8 -1.9 4.1 -1.5 4.3 -1.2 4.6 -.8 4.6 -.5 4.7 -.2 4.6 .1 4.6 .5 8.6 1.7 7.7 2.6 6.6 3.2 2.9 1.8 4.8 3.8 3.6 4 1.4 2 2 3.9 .9 3.8 .1 1.9 -.5 3.5 -.5 1.7 -1.8 3.1 -2.6 2.8 -1.6 1.3 -3.7 2.4 -2.2 1.1 -4.9 1.8 -2.7 .7 -9.2 1.6 -6.9 .4 -7.4 -.2 -7.8 -.9 -7.8 -1.7 -7.7 -2.5 -7 -3.4 -3.1 -2.1 -2.8 -2.2 -2.5 -2.4 -2 -2.6 -1.5 -2.7 -.9 -2.9 -.4 -2.9 .3 -3 .8 -2.9 1.5 -2.8 2.1 -2.8 2.6 -2.5 3.2 -2.4 3.7 -2 4 -1.8 4.3 -1.4 4.6 -1.1 4.8 -.8 4.8 -.4 4.8 0 4.8 .2 4.6 .6 4.5 .9 8.2 2.4 7.2 3.2 3.1 1.8 5.3 3.8 4.1 4 1.6 2.1 2.3 4.1 .8 2 .8 3.8 0 1.9 -.6 3.5 -.7 1.7 -1.9 3.2 -2.7 2.8 -1.7 1.3 -3.9 2.4 -2.2 1 -5.1 1.8 -2.8 .8 -6.2 1.1 -3.3 .4 -7.1 .4 -7.7 -.3 -8 -1 -8 -1.8 -7.9 -2.6 -3.7 -1.7 -3.5 -1.9 -3.2 -2.1 -2.9 -2.3 -2.4 -2.5 -2 -2.8 -1.5 -2.8 -.9 -3 -.3 -3 .4 -3.1 1 -3 1.6 -3 2.3 -2.8 2.9 -2.6 3.4 -2.3 3.8 -2.1 4.3 -1.8 4.6 -1.4 4.8 -1.1 4.9 -.7 5 -.3 5 0 4.9 .4 4.8 .6 4.5 1 8.4 2.6 7.2 3.4 3.2 1.8 5.3 4 4 4.2 1.6 2.1 2.3 4.1 .8 2.1 .7 3.9 0 1.9 -.7 3.6 -.7 1.7 -2 3.2 -2.8 2.9 -1.7 1.3 -4 2.4 -2.3 1.1 -5.2 1.8 -2.8 .8 -6.3 1.2 -3.4 .4 -7.3 .3 -7.9 -.2 -8.2 -1 -8.4 -1.8 -8.1 -2.7 -3.9 -1.7 -3.6 -1.9 -3.3 -2.2 -3 -2.4 -2.6 -2.6 -2.1 -2.8 -1.6 -3 -.9 -3 -.4 -3.2 .4 -3.2 1 -3.1 1.7 -3.1 2.3 -2.9 3 -2.8 3.5 -2.4 4 -2.2 4.5 -1.9 4.7 -1.4 5 -1.1 5.1 -.8 5.2 -.3 5.2 0 5.1 .4 4.9 .7 4.7 1 8.7 2.7 7.4 3.5 3.3 2 5.4 4.1 4.2 4.3 1.6 2.1 2.3 4.3 .8 2.1 .7 4 .1 2 -.7 3.6 -.7 1.8 -2 3.3 -2.8 2.9 -1.6 1.4 -4 2.4 -2.3 1.2 -5.2 1.9 -2.9 .8 -6.3 1.2 -3.5 .5 -7.4 .5 -8 -.2 -8.4 -.9 -8.7 -1.7 -8.5 -2.6 -4 -1.7 -3.9 -1.9 -3.6 -2.2 -3.2 -2.4 -2.8 -2.7 -2.4 -2.8 -1.8 -3 -1.2 -3.2 -.5 -3.3 .1 -3.3 .9 -3.3 1.6 -3.2 2.3 -3.1 2.9 -2.9 3.5 -2.7 4.1 -2.3 4.5 -2.1 4.9 -1.6 5.1 -1.2 5.4 -.9 5.4 -.4 5.4 -.1 5.3 .4 5.1 .6 5 1 4.7 1.3 4.4 1.4 7.8 3.6 3.4 2 5.8 4.2 4.4 4.4 1.7 2.3 2.6 4.4 .8 2.1 1 4.2 0 2 -.5 3.8 -.6 1.8 -1.8 3.3 -2.7 3.1 -1.7 1.4 -3.8 2.6 -2.3 1.2 -5.1 2.1 -2.8 .8 -6.3 1.4 -3.4 .6 -7.5 .6 -3.9 .1 -8.4 -.3 -8.8 -1 -9 -2 -8.7 -2.9 -4.1 -1.9 -4 -2.1 -3.6 -2.3 -3.2 -2.6 -2.7 -2.9 -2.2 -3 -1.7 -3.2 -.9 -3.4 -.3 -3.4 .5 -3.5 1.2 -3.5 2 -3.3 2.7 -3.1 3.4 -3 4 -2.6 4.5 -2.3 4.9 -2 5.2 -1.5 5.5 -1.1 5.7 -.6 5.6 -.3 5.6 .2 5.5 .5 5.2 .9 5 1.2 4.7 1.4 4.4 1.7 7.8 3.8 3.3 2.2 5.6 4.4 4.3 4.6 1.6 2.3 2.3 4.5 .8 2.2 .7 4.2 0 2 -.7 3.8 -.7 1.8 -2 3.4 -2.9 3.1 -1.7 1.4 -4.1 2.6 -2.3 1.2 -5.3 2.1 -2.9 .8 -6.5 1.5 -3.6 .5 -7.7 .6 -4.1 .1 -8.6 -.3 -9.2 -1.2 -9.3 -2 -9.1 -3.1 -4.3 -1.9 -4.1 -2.2 -3.7 -2.5 -3.4 -2.7 -2.8 -3 -2.3 -3.2 -1.6 -3.4 -1 -3.6 -.1 -3.6 .6 -3.6 1.4 -3.6 2.1 -3.5 3 -3.3 3.6 -3 4.3 -2.8 4.8 -2.3 5.2 -2 5.6 -1.5 5.8 -1.1 5.9 -.6 5.9 -.2 5.8 .3 5.7 .6 5.4 1 5.2 1.3 4.8 1.5 4.6 1.8 4.1 2 3.8 2.1 3.3 2.2 5.7 4.7 4.2 4.7 1.7 2.4 2.3 4.6 .7 2.3 .7 4.3 0 2 -.7 3.9 -.7 1.9 -2.1 3.5 -2.8 3.1 -1.8 1.5 -4 2.6 -2.4 1.2 -5.3 2.1 -3 1 -6.5 1.5 -3.6 .5 -7.9 .8 -4.2 .1 -8.9 -.2 -9.4 -1 -9.7 -2 -9.6 -3 -4.6 -1.9 -4.3 -2.2 -4.1 -2.5 -3.7 -2.8 -3.1 -3 -2.6 -3.3 -2 -3.5 -1.2 -3.7 -.4 -3.8 .4 -3.9 1.2 -3.8 2.1 -3.7 2.9 -3.5 3.6 -3.3 4.4 -3 4.9 -2.6 5.4 -2.2 5.8 -1.7 6.1 -1.2 6.2 -.8 6.2 -.3 6.2 .2 6 .6 5.8 1 5.4 1.3 5.2 1.6 4.7 1.8 4.4 2.1 4 2.2 3.6 2.3 6 4.8 4.6 4.9 1.7 2.5 2.6 4.8 .8 2.3 .9 4.5 .1 2.1 -.6 4 -.6 2 -1.9 3.5 -2.7 3.3 -3.5 3 -4.3 2.6 -2.5 1.2 -5.5 2.1 -3.1 .9 -6.9 1.5 -3.8 .6 -8.2 .7 -4.4 .1 -9.3 -.3 -9.9 -1.2 -10.2 -2.1 -5 -1.5 -5 -1.7 -4.8 -2.1 -4.6 -2.3 -4.2 -2.7 -3.7 -3 -3.3 -3.3 -2.6 -3.5 -1.9 -3.8 -1.1 -3.9 -.3 -4 .6 -4.1 1.5 -4 2.4 -3.9 3.3 -3.7 4.1 -3.5 4.8 -3 5.4 -2.7 5.9 -2.1 6.2 -1.7 6.5 -1.2 6.6 -.6 6.6 -.1 6.4 .3 6.3 .8 6 1.1 5.6 1.5 5.3 1.8 4.9 2 4.4 2.2 4 2.4 6.9 5 5.2 5.1 2 2.6 3.2 5 1.1 2.4 1.3 4.7 .3 4.5 -.6 4.1 -.6 1.9 -1.9 3.7 -2.7 3.3 -3.5 3 -4.4 2.7 -5.1 2.4 -6.1 2 -3.3 .9 -7.4 1.3 -4 .5 -8.8 .5 -4.7 0 -9.9 -.5 -10.5 -1.5 -10.8 -2.5 -5.3 -1.7 -5.2 -2 -4.9 -2.3 -4.7 -2.7 -4.2 -3 -3.7 -3.4 -3.1 -3.6 -2.4 -3.9 -1.5 -4.1 -.7 -4.3 .3 -4.3 1.2 -4.3 2.3 -4.3 3.2 -4.1 4 -3.7 4.9 -3.5 5.6 -2.9 6.2 -2.5 6.5 -2 6.9 -1.4 7 -.8 7 -.3 6.9 .2 6.7 .7 6.5 1.2 6 1.5 5.7 1.8 5.3 2.1 4.8 2.3 4.3 2.4 3.9 2.6 6.5 5.3 4.9 5.4 1.9 2.7 2.8 5.1 1 2.5 1 4.8 .1 4.4 -.8 4.2 -.7 1.9 -2 3.7 -2.8 3.3 -3.6 3.1 -4.5 2.7 -5.2 2.4 -6.2 2 -3.4 .9 -7.6 1.4 -4.2 .5 -9 .6 -4.9 .1 -10.3 -.5 -5.5 -.5 -11.2 -1.9 -5.7 -1.4 -5.7 -1.7 -5.6 -2.1 -5.4 -2.4 -5 -2.7 -4.7 -3.1 -4.1 -3.5 -3.5 -3.8 -2.8 -4.1 -1.8 -4.4 -1 -4.6 .1 -4.6 1.2 -4.7 2.2 -4.6 3.3 -4.5 4.3 -4.1 5.2 -3.8 5.9 -3.3 6.6 -2.7 7 -2.2 7.4 -1.6 7.6 -.9 7.5 -.3 7.4 .2 7.2 .7 6.9 1.2 6.5 1.6 6.1 2 5.6 2.2 5.1 2.5 4.6 2.6 4.1 2.7 3.7 2.8 3.2 2.8 2.8 2.9 4.4 5.6 1.7 2.7 2.4 5.3 .7 2.5 .8 4.8 -.2 4.4 -1 4.1 -1.8 3.8 -2.5 3.5 -3.3 3.2 -4.1 2.9 -4.9 2.6 -5.8 2.2 -6.8 1.9 -3.7 .9 -8.3 1.2 -4.5 .5 -9.8 .4 -5.3 -.1 -11.3 -.8 -11.9 -1.8 -6.1 -1.3 -6.1 -1.7 -6.1 -2 -5.9 -2.4 -5.6 -2.8 -5.2 -3.2 -4.8 -3.6 -4 -4 -3.3 -4.4 -2.4 -4.6 -1.3 -5 -.3 -5 1 -5.2 2.1 -5.1 3.3 -4.9 4.4 -4.6 5.5 -4.2 6.3 -3.8 7.1 -3.1 7.6 -2.5 8 -1.8 8.2 -1.2 8.3 -.4 8.1 .1 7.8 .8 7.5 1.3 7.1 1.7 6.5 2.1 6.1 2.4 5.5 2.6 5 2.8 4.4 2.9 4 3 3.5 3 3 3 4.7 6 1.9 2.8 2.7 5.6 1.5 5.2 .6 4.8 -.3 4.4 -1.1 4.1 -1.8 3.8 -2.5 3.5 -3.2 3.2 -3.9 2.9 -4.8 2.7 -5.6 2.4 -6.5 2 -7.6 1.7 -8.7 1.3 -4.8 .4 -10.4 .4 -5.7 0 -12 -.8 -12.9 -1.9 -6.6 -1.4 -6.7 -1.8 -6.7 -2.2 -6.4 -2.6 -6.2 -3 -5.8 -3.5 -5.3 -3.9 -4.5 -4.4 -3.6 -4.8 -2.6 -5.2 -1.5 -5.5 -.2 -5.6 1.2 -5.7 2.5 -5.7 3.8 -5.5 5.2 -5.1 6.2 -4.7 7.3 -4 8 -3.4 8.6 -2.7 9 -1.8 9.2 -1.1 9.1 -.3 8.9 .4 8.5 1 8.1 1.6 7.6 2 7 2.5 6.4 2.7 5.8 2.9 5.2 3.2 4.6 3.2 4.1 3.2 3.5 3.3 5.8 6.4 4.1 6.1 2.8 5.8 1.7 5.3 .7 5 0 4.5 -.3 2.2 -1 4 -1.7 3.8 -2.3 3.4 -1.4 1.6 -3.2 3.1 -3.9 2.8 -4.7 2.6 -5.6 2.3 -6.5 2.1 -7.6 1.8 -8.7 1.4 -10 1 -11.4 .3 -6.2 -.1 -13.3 -.9 -14.3 -2.2 -7.4 -1.6 -7.5 -2 -7.4 -2.4 -7.3 -3 -6.9 -3.4 -6.5 -4 -5.8 -4.6 -5 -5.1 -3.9 -5.6 -2.7 -6 -1.2 -6.3 .2 -6.5 1.9 -6.6 3.5 -6.5 5 -6.2 6.5 -5.8 7.8 -5.1 8.9 -4.4 9.6 -3.5 10.2 -2.5 10.5 -1.7 10.4 -.7 10.3 .2 9.9 .9 9.4 1.6 8.7 2.2 8.1 2.6 7.4 3 6.7 3.3 5.9 3.4 5.4 3.6 4.6 3.5 4.1 3.6 3.6 3.6 5.7 6.8 4.1 6.5 2.9 6 1.8 5.4 1 5.1 .3 6.7 -.8 6 -1.8 5.2 -2.7 4.8 -3.9 4.3 -5 3.9 -4.2 2.4 -7.7 3.3 -6.4 2 -7.5 1.8 -8.7 1.5 -10.2 1.1 -11.8 .6 -13.4 0 -7.4 -.4 -15.8 -1.6 -8.5 -1.3 -8.7 -1.7 -8.8 -2.3 -8.9 -2.8 -8.7 -3.3 -8.5 -4.1 -7.8 -4.7 -7.2 -5.4 -6 -6.2 -4.7 -6.8 -3.2 -7.4 -1.3 -7.8 .6 -8.2 2.8 -8.2 4.9 -8 6.9 -7.6 8.7 -7 10.3 -6 11.5 -5 12.3 -3.9 12.8 -2.5 12.9 -1.4 12.7 -.2 12.3 .8 11.5 1.7 10.8 2.5 9.9 3.1 9 3.5 8 3.9 7.2 4 6.4 4.2 5.6 4.2 4.8 4.1 4.3 4.1 3.7 3.9 3.1 3.8 5.1 7.2 3.8 6.5 2.7 5.8 3.7 10.1 3.7 13.3 1.9 6 2.4 5 2.3 3.2 1.9 1.9 2.2 1.7 2.6 1.6 3.2 1.4 5.9 1.6 7.6 1 10 .3 13 -.7 16.7 -2 13.5 -2.4 15.7 -3.4 17.8 -4.7 19.7 -6.1 10.4 -3.7 10.5 -4 10.6 -4.5 10.4 -4.8 9.8 -5.2 9.1 -5.4 7.8 -5.5 6.3 -5.5 4.4 -5.2 2.1 -4.8 -.6 -4.3 -3.2 -3.4 -6.1 -2.4 -8.7 -1.5 -11.1 -.3 -13.1 .6 -14.5 1.6 -15.6 2.3 -16 2.8 -15.9 3.1 -107.2 23.5 -9.7 2.4 -7.3 2.1 -5.6 2.1 -6.1 3.3 -4.7 3.5 -9.9 9 -3.4 2.6 -3.8 2.5 -4.4 2.4 -5.1 2.2 -9.2 3.1 -11.4 2.5 -9.1 1.2 -10.3 .7 -5.6 .1 -12.2 -.3 -13.3 -1.3 -7 -1.1 -7.1 -1.5 -7.3 -1.8 -7.2 -2.3 -7 -2.7 -6.9 -3.2 -6.4 -3.7 -5.8 -4.2 -5.1 -4.8 -4.1 -5.2 -2.9 -5.6 -1.7 -6 -.3 -6.3 1.2 -6.3 2.8 -6.3 4.2 -6 5.8 -5.7 7 -5.2 8.1 -4.4 8.9 -3.7 9.6 -2.9 9.9 -1.9 10.1 -1.1 10 -.2 9.7 .6 9.2 1.2 8.8 1.9 8.1 2.3 7.4 2.7 6.8 3.1 6.1 3.2 5.5 3.4 4.8 3.5 4.3 3.5 3.7 3.5 3.2 3.4 5.1 6.6 3.6 6.2 2.4 5.7 1.4 5.3 .4 2.5 .3 4.7 -.3 4.2 -1.4 5.8 -2.6 5.2 -3.6 4.6 -5 4.2 -4.1 2.5 -7.7 3.5 -6.2 2.1 -7.4 1.8 -8.6 1.5 -9.9 1.2 -11.4 .6 -13 0 -7.1 -.4 -15.2 -1.5 -8.1 -1.3 -8.2 -1.7 -8.4 -2.2 -8.4 -2.7 -8.2 -3.2 -7.9 -3.9 -7.4 -4.5 -6.7 -5.1 -5.7 -5.8 -4.4 -6.4 -3 -6.9 -1.3 -7.3 .5 -7.6 2.5 -7.6 4.4 -7.5 6.2 -7.2 8 -6.5 9.4 -5.8 10.5 -4.7 11.5 -3.8 11.9 -2.6 12 -1.4 12 -.4 11.6 .5 11 1.5 10.3 2.2 9.5 2.7 8.7 3.3 7.9 3.5 7 3.8 6.3 4 5.5 3.9 4.8 4 4.2 3.9 3.6 3.8 5.9 7.3 2.3 3.5 3.6 6.4 3.6 8.6 2.1 7.3 1.3 8.4 .5 8.5 -.5 8.4 -1.2 6.9 -1.7 5 -1.5 2.7 -1.2 1.7 -3.3 3.3 -4.8 3 -7 2.9 -10.2 2.8 -10.5 2 -14 1.7 -18.3 1.1 -15.1 .2 -17.7 -.6 -9.8 -.7 -10.5 -1.2 -11 -1.6 -11.6 -2.1 -11.9 -2.8 -12.1 -3.6 -12.1 -4.5 -11.7 -5.5 -11.1 -6.5 -9.8 -7.8 -8.2 -8.9 -6.1 -10 -3.4 -11 -.4 -11.8 3 -12.1 6.4 -12 9.7 -11.6 12.8 -10.6 15.3 -9.1 17.2 -7.4 18.3 -5.4 18.9 -3.4 18.6 -1.4 18 .4 16.9 1.9 15.6 3.2 14.1 4.1 12.7 4.9 11.2 5.2 9.8 5.5 8.6 5.5 7.4 5.5 6.5 5.3 5.5 5.1 9.1 9.4 6.8 8.3 15.4 21 5.4 5.9 3.8 3.2 2.1 1.4 4.5 2.4 5 1.9 5.7 1.3 6.5 .9 7.3 .3 8.2 -.2 9.1 -.9 9.9 -1.5 10.5 -2.3 10.9 -2.9 5.5 -1.7 10.7 -3.9 5 -2.2 8.9 -4.6 3.6 -2.3 3 -2.3 2.3 -2.3 1.3 -2.1 .5 -1.9 -.6 -1.7 -1.5 -1.5 -2.6 -1.1 -3.5 -.8 -4.5 -.5 -5.2 -.2 -5.9 .2 -13.3 1.2 -14.3 2.1 -21 3.9 -18.2 4.1 -9.9 2.6 -8.1 2.5 -6.4 2.3 -6.6 3.3 -2.6 2.1 -.9 1 -1 2 -.1 1 .5 2 1.2 1.8 2.1 1.8 4.6 2.3 6.4 1.9 8.3 1.1 6.6 .4 7.7 -.2 8.6 -.6 9.6 -1.3 10.6 -1.9 11.2 -2.6 11.6 -3.4 11.6 -4.1 10.8 -4.6 9.1 -5.1 3.7 -2.5 2.9 -2.5 2 -2.4 1.1 -2.2 0 -2 -1.1 -1.8 -2.2 -1.4 -3.4 -1 -4.3 -.7 -5.3 -.3 -6.1 0 -6.7 .4 -14.9 1.7 -15.5 2.4 -22.1 4.4 -18.6 4.3 -10 2.7 -8 2.5 -6.1 2.3 -2.5 1.2 -3.8 2.2 -1.4 1.1 -1.9 2.1 -.5 1.1 -.4 2 .2 1.1 .9 2 1.7 1.9 2.4 1.8 5 2.3 6.9 1.9 8.7 1.1 7.1 .3 12.5 -.6 9.7 -1 10.7 -1.8 11.7 -2.5 12.4 -3.3 12.5 -4.1 12.2 -4.9 5.7 -2.6 5.2 -2.8 4.6 -2.8 3.9 -2.8 3.1 -2.7 2 -2.7 1 -2.4 -.3 -2.1 -1.5 -1.9 -2.7 -1.4 -3.9 -1.1 -5.1 -.6 -6.1 -.2 -7 .2 -7.6 .6 -16.5 2.1 -17 2.8 -23.7 4.9 -19.5 4.6 -10.2 2.8 -8.1 2.5 -8.7 3.6 -2 1.1 -3.1 2.2 -1.1 1.1 -1.4 2.2 -.3 1.1 0 2.2 .7 2.1 1.5 2.1 3.4 2.9 3.2 1.7 3.9 1.5 7.3 1.8 9.3 1 7.6 .2 13.3 -.7 10.5 -1.3 11.6 -2 12.7 -2.9 13.5 -3.7 6.9 -2.2 13.7 -5.1 6.6 -2.9 6.2 -3 5.8 -3.1 5 -3.2 4.2 -3.1 3.2 -3.1 2 -2.9 .7 -2.7 -.7 -2.3 -2.1 -2 -3.5 -1.5 -4.9 -.9 -6.2 -.5 -7.3 0 -8.2 .4 -18.1 2.1 -9.5 1.5 -18.9 3.4 -25.6 5.4 -26 6.4 -13.1 4 -8.6 3.6 -2 1.1 -3.1 2.3 -1.1 1.2 -1.5 2.3 -.6 2.3 .1 2.3 .8 2.3 2.2 3.2 2.1 2.1 2.8 1.9 3.3 1.7 4.1 1.5 7.5 1.8 9.6 1 7.8 .1 14 -.8 11 -1.4 12.5 -2.2 13.8 -3.1 15 -4.1 15.7 -5.2 15.5 -6.3 7.3 -3.4 6.8 -3.6 6.2 -3.8 5.2 -3.7 4.1 -3.7 2.7 -3.5 1.2 -3.2 -.4 -2.9 -2.2 -2.3 -3.9 -1.8 -5.6 -1.2 -7.2 -.6 -8.5 0 -9.6 .7 -10.5 1.1 -10.9 1.5 -11.1 1.8 -21.9 4.2 -37.5 8.2 -25.8 6.4 -8.9 2.7 -6.6 2.4 -2.7 1.2 -4.1 2.3 -2.9 2.4 -2 2.4 -1.2 2.5 -.7 3.7 0 2.5 .8 3.6 1.4 3.5 2.1 3.3 3 3 2.4 1.8 3 1.6 3.5 1.4 4.1 1.2 5 .9 9.2 .8 11.9 -.1 15.1 -1.3 12.3 -1.8 14.1 -2.7 16.1 -3.8 17.8 -5.1 19.2 -6.5 9.7 -3.8 9.8 -4.1 9.4 -4.5 8.9 -4.7 8.1 -4.9 7 -5 5.5 -4.9 3.7 -4.7 1.6 -4.3 -.7 -3.8 -3.1 -3 -5.6 -2.2 -7.9 -1.3 -10.1 -.4 -11.8 .5 -13.1 1.3 -14.1 2 -14.5 2.4 -14.5 2.8 -27.6 5.7 -73 16.5 -13.2 3.6 -6.2 2.3 -4.6 2.2 -5 3.5 -3.7 3.8 -8.6 10.5 -4 4 -3.2 2.5 -3.7 2.4 -4.3 2.3 -5.1 2.2 -5.9 2.1 -7 1.8 -8.1 1.6 -14.7 1.8 -11.6 .6 -6.4 0 -14 -.6 -15.4 -1.7 -8.1 -1.4 -8.3 -1.8 -8.5 -2.3 -8.4 -2.8 -8.2 -3.4 -7.8 -4 -7.3 -4.7 -6.5 -5.3 -5.4 -5.9 -4.1 -6.6 -2.7 -7 -.8 -7.5 .9 -7.6 3 -7.7 4.8 -7.5 6.7 -7 8.4 -6.4 9.7 -5.5 10.9 -4.6 11.6 -3.5 12 -2.3 12.2 -1.2 11.9 -.2 11.5 .8 10.9 1.7 10.2 2.3 9.3 2.9 8.5 3.4 7.7 3.6 6.9 3.9 6 3.9 5.4 4 4.6 4 4.1 3.9 6.6 7.5 4.8 7 1.9 3.2 3 6.1 2.9 8 2 9.1 .8 7.5 .2 9.2 -.3 5.2 -.6 4.5 -1.4 6 -2 4.3 -1.7 2.4 -1.4 1.5 -3.9 2.9 -5.5 2.8 -8.2 2.7 -11.9 2.6 -12.5 1.7 -16.5 1.4 -13.7 .5 -16.2 0 -9.1 -.4 -9.8 -.7 -10.5 -1 -11.1 -1.5 -11.7 -2 -12.1 -2.6 -12.3 -3.4 -12.5 -4.3 -12.1 -5.3 -11.6 -6.5 -10.5 -7.6 -8.9 -8.8 -6.9 -10 -4.2 -11.1 -1.2 -11.9 2.3 -12.4 5.8 -12.5 9.3 -12.1 12.5 -11.2 15.3 -9.8 17.4 -8 18.7 -6 19.4 -3.8 19.2 -1.8 18.7 .1 17.5 1.7 16.3 3.1 14.7 4.2 13.2 4.8 11.6 5.3 10.3 5.6 8.9 5.7 7.7 5.6 6.7 5.4 5.8 5.2 9.4 9.6 7.1 8.4 15.9 21.3 5.6 5.9 3.9 3.2 2.1 1.3 4.6 2.3 5.1 1.8 5.8 1.3 6.5 .8 7.4 .2 8.2 -.4 8.9 -1 9.7 -1.6 10.2 -2.3 10.4 -3 5.1 -1.7 9.9 -3.8 4.5 -2.1 7.8 -4.3 3 -2.2 2.4 -2.1 1.6 -2 .8 -1.9 -.2 -1.7 -1 -1.4 -2 -1.2 -2.9 -.9 -3.7 -.6 -4.6 -.3 -5.2 0 -12 .8 -13.2 1.7 -13.5 2.3 -18.7 3.8 -15.4 3.9 -11.7 3.5 -5.7 2.3 -2.3 1 -3.5 2.1 -1.3 1.1 -1.6 2 -.5 .9 -.1 2 .3 .9 1.2 1.8 3.4 2.4 5.2 2.1 7 1.5 8.9 .8 7.1 0 8.1 -.5 9 -1 9.8 -1.7 10.5 -2.3 10.9 -3 10.9 -3.6 10.3 -4.2 4.7 -2.3 7.9 -4.7 3.1 -2.3 2.3 -2.2 1.4 -2.2 .6 -2 -.5 -1.7 -1.5 -1.5 -2.5 -1.1 -3.4 -.9 -4.4 -.5 -5.2 -.2 -12.3 .6 -13.9 1.7 -14.4 2.3 -20.4 4.1 -17 4 -9.1 2.6 -7.3 2.4 -5.6 2.2 -2.2 1.1 -3.4 2.2 -1.2 1 -1.6 2.1 -.3 1 -.1 2 .9 1.9 1.6 1.8 4 2.5 5.7 2 7.6 1.4 9.6 .7 7.6 -.1 8.6 -.6 9.5 -1.3 10.5 -1.8 11.2 -2.6 11.7 -3.4 5.8 -1.9 11.3 -4.4 5.3 -2.4 9.3 -5 3.8 -2.6 2.9 -2.5 2.2 -2.4 1.1 -2.2 .1 -2.1 -1 -1.7 -2.1 -1.5 -3.2 -1.1 -4.3 -.7 -5.2 -.3 -6 0 -13.9 1 -15.4 2.1 -22.9 4.1 -20.1 4.5 -15.8 4.1 -11.4 3.7 -7.5 3.4 -1.8 1.1 -2.5 2.1 -.9 1.1 -.9 2.1 0 1.1 .4 2 1.3 2 2 1.8 4.4 2.5 6.1 2.1 8.1 1.4 10.1 .6 8 -.2 9.1 -.7 10.2 -1.4 11.1 -2.1 12.1 -2.8 12.5 -3.7 6.3 -2.1 12.2 -4.9 5.8 -2.6 5.3 -2.7 4.7 -2.8 4 -2.9 3.2 -2.7 2.1 -2.7 1.1 -2.4 -.1 -2.2 -1.3 -1.9 -2.6 -1.5 -3.8 -1.1 -5 -.7 -6 -.2 -6.8 .2 -7.6 .5 -16.5 2 -25.3 4.4 -22.7 4.9 -18 4.4 -9.3 2.7 -7.3 2.5 -2.9 1.2 -4.6 2.3 -1.7 1.1 -2.6 2.2 -.9 1.1 -.9 2.2 -.1 1.1 .3 2.2 1 2.1 1.8 2 3.9 2.8 3.4 1.6 4.3 1.4 7.8 1.6 10 .8 8 0 14.1 -1.1 11 -1.6 12.1 -2.3 13.1 -3.3 13.7 -4.1 6.9 -2.4 13.5 -5.5 6.3 -3 5.9 -3.1 5.1 -3.2 4.4 -3.1 3.3 -3.1 2.3 -3 .9 -2.7 -.4 -2.4 -1.9 -2 -3.3 -1.6 -4.7 -1.1 -6 -.5 -7.1 -.1 -8.1 .4 -8.8 .8 -18.8 2.6 -28.1 5.2 -24.3 5.4 -13.2 3.2 -10.7 2.9 -11.7 3.8 -2.9 1.2 -4.7 2.3 -1.7 1.2 -2.6 2.3 -1.5 2.3 -.7 2.3 0 2.3 .7 2.3 2.1 3.3 2.1 2.1 2.7 1.9 3.3 1.7 3.9 1.6 4.7 1.2 8.7 1.4 11.1 .4 8.8 -.3 15.8 -1.7 12.3 -2.1 13.8 -2.9 14.8 -4.1 15.7 -5 7.8 -3 7.8 -3.2 7.4 -3.4 7.1 -3.6 6.3 -3.7 5.5 -3.8 4.4 -3.7 3.1 -3.6 1.6 -3.3 0 -3 -1.8 -2.5 -3.5 -1.9 -5.2 -1.4 -6.8 -.7 -8.3 -.1 -9.4 .5 -10.3 1 -22 3.2 -11.1 2 -21.5 4.3 -35.5 7.9 -23.7 6.2 -7.9 2.5 -6 2.4 -4.3 2.4 -3.1 2.3 -2 2.4 -1.3 2.5 -.7 2.5 -.2 3.7 .6 3.7 1.4 3.5 2 3.3 1.7 2.1 3.4 2.8 2.7 1.6 3.4 1.5 3.9 1.2 4.7 1 5.6 .7 6.6 .4 7.9 -.1 14.4 -1.1 18.3 -2.6 14.6 -2.9 16.5 -4.1 18.3 -5.4 19.4 -6.8 9.8 -4 9.7 -4.3 9.3 -4.6 8.7 -4.8 7.7 -5 6.5 -5 4.9 -4.9 2.9 -4.6 .7 -4.1 -1.7 -3.5 -4.1 -2.8 -6.6 -1.8 -8.9 -1 -10.9 .1 -12.6 .8 -13.6 1.6 -14.4 2.2 -29.2 5.5 -27.2 5.8 -58.4 13.1 -11.7 2.8 -8.9 2.4 -6.7 2.2 -2.7 1.1 -4.4 2.3 -3.4 2.3 -2.7 2.4 -10.1 11.8 -5.5 5.2 -3.4 2.5 -3.9 2.4 -4.6 2.3 -5.5 2.2 -6.3 2 -7.4 1.7 -13.5 2.1 -10.7 .9 -6 .2 -13 -.1 -7.1 -.4 -15.2 -1.6 -8 -1.4 -8.2 -1.7 -8.3 -2.2 -8.3 -2.8 -8.2 -3.3 -7.8 -3.9 -7.2 -4.5 -6.5 -5.2 -5.5 -5.8 -4.2 -6.4 -2.8 -6.9 -1.1 -7.3 .7 -7.5 2.7 -7.6 4.5 -7.4 6.4 -7 8 -6.4 9.4 -5.6 10.6 -4.6 11.4 -3.6 11.8 -2.4 11.9 -1.4 11.9 -.3 11.4 .7 10.9 1.5 10.1 2.2 9.4 2.8 8.6 3.2 7.7 3.6 6.9 3.7 6.1 3.9 5.4 4 4.8 3.9 4.1 3.9 6.7 7.5 4.9 6.9 1.9 3.3 3 6.1 2.9 8.1 1.5 7 .9 7.9 0 8.2 -.9 6.9 -1.7 5.9 -1.5 3.2 -1.2 2 -3.3 3.7 -2.1 1.8 -2.6 1.7 -4.8 2.5 -4 1.6 -4.9 1.5 -9.2 2.3 -12.1 1.9 -15.9 1.6 -13.1 .6 -15.4 0 -17.9 -.9 -9.8 -.9 -10.4 -1.3 -10.9 -1.9 -11.4 -2.4 -11.5 -3.1 -11.6 -4 -11.4 -4.8 -10.9 -5.8 -10 -6.9 -8.6 -7.9 -6.8 -9.1 -4.6 -10 -1.9 -10.8 1.1 -11.4 4.3 -11.5 7.5 -11.2 10.5 -10.6 13.1 -9.5 15.3 -8 16.8 -6.2 17.7 -4.4 17.9 -2.5 17.5 -.7 16.8 .9 15.7 2.3 14.4 3.3 13.1 4.2 11.7 4.7 10.3 5.1 9.1 5.3 7.9 5.3 6.9 5.3 6 5 5.2 4.9 8.4 9.1 3.4 4.1 5.6 7.5 11.7 16.9 3.4 4.2 3.4 3.5 3.8 3 2.1 1.3 4.4 2.3 5.1 1.8 2.9 .7 6.2 1 7.1 .6 8.1 0 9 -.6 10.1 -1.3 10.9 -2 11.7 -2.8 12 -3.6 6 -2.1 11.5 -4.6 5.3 -2.5 4.8 -2.6 4.3 -2.6 3.5 -2.7 2.7 -2.5 1.8 -2.5 .7 -2.2 -.4 -2 -1.6 -1.7 -2.8 -1.3 -3.8 -.9 -4.9 -.6 -5.9 -.1 -6.6 .2 -7.3 .6 -15.6 1.9 -23.9 4.2 -21.3 4.6 -17 4.3 -8.8 2.6 -6.8 2.4 -2.7 1.1 -4.3 2.3 -1.6 1.1 -2.3 2.2 -.8 1 -.7 2.2 0 1 .6 2.1 1.3 2 2.1 1.9 4.5 2.6 6.1 2.1 8 1.4 10.2 .7 8.1 -.2 9.1 -.7 10.3 -1.3 11.4 -2.1 12.3 -2.8 12.9 -3.8 6.5 -2.2 12.8 -4.9 6.1 -2.7 5.6 -2.9 5.1 -2.9 4.3 -2.9 3.5 -2.9 2.5 -2.8 1.4 -2.7 .1 -2.3 -1.1 -2 -2.5 -1.7 -3.7 -1.2 -5 -.8 -6.1 -.3 -7.1 .1 -7.8 .6 -17.1 2 -26.5 4.6 -23.7 5.1 -23.9 6 -12.1 3.8 -7.9 3.6 -1.9 1.1 -2.7 2.3 -.9 1.1 -1.2 2.2 -.2 2.3 .5 2.2 1.1 2.1 1.9 2.1 2.4 1.9 3.1 1.8 3.9 1.5 4.5 1.3 8.5 1.5 10.7 .5 8.5 -.2 15.2 -1.5 11.7 -2 12.9 -2.7 13.9 -3.7 14.4 -4.7 7.2 -2.7 13.9 -6 6.3 -3.2 5.7 -3.4 5 -3.4 3.9 -3.3 2.8 -3.2 1.4 -3 0 -2.6 -1.5 -2.3 -3.1 -1.8 -4.5 -1.3 -6 -.7 -7.3 -.2 -8.3 .3 -9.2 .8 -19.7 2.7 -10.1 1.7 -19.7 3.8 -33.2 7.4 -12.7 3.1 -10 2.8 -7.8 2.6 -5.8 2.4 -4.2 2.3 -2.9 2.4 -1.8 2.3 -.6 1.2 -.6 2.4 .3 3.5 1.5 3.5 2.5 3.2 3.7 3 4.9 2.6 4.2 1.5 4.8 1.1 5.8 .9 6.8 .5 7.9 .1 14.3 -1 M1075.8 868.3l-8.3 .3 -9 -.3 -9.5 -1.1 -4.9 -.8 -9.8 -2.5 -4.7 -1.6 -4.7 -1.9 -4.4 -2.2 -4.1 -2.5 -3.7 -2.8 -3.3 -3 -2.7 -3.3 -2 -3.5 -1.3 -3.7 -.5 -3.8 .3 -3.9 1.1 -3.8 2 -3.8 2.9 -3.6 3.6 -3.3 4.3 -3 4.9 -2.7 5.4 -2.2 5.8 -1.8 6.1 -1.3 6.2 -.8 6.3 -.3 6.2 .1 6 .6 5.8 .9 5.6 1.3 5.2 1.6 4.8 1.8 4.4 2.1 4.1 2.2 6.9 4.7 2.8 2.4 4.6 5 3.3 4.9 2 4.7 1 4.5 -.1 4.2 -1 3.9 -1.8 3.6 -2.6 3.3 -3.5 3 -4.3 2.7 -5.1 2.3 -5.9 2 -6.9 1.5 -7.7 1 -8.5 .4 -9.3 -.2 -4.9 -.5 -10.1 -1.5 -5.1 -1.2 -5.2 -1.4 -5 -1.7 -4.8 -2 -4.7 -2.3 -4.2 -2.7 -3.9 -2.9 -3.4 -3.3 -2.7 -3.5 -2.1 -3.7 -1.2 -4 -.4 -4 .5 -4.1 1.4 -4.1 2.3 -3.9 3.1 -3.8 4 -3.5 4.8 -3.1 5.3 -2.8 5.9 -2.2 6.2 -1.8 6.5 -1.2 6.6 -.7 6.7 -.2 6.5 .3 6.3 .7 6 1.1 5.8 1.5 5.3 1.7 5 2 4.5 2.2 4.1 2.3 3.7 2.5 3.3 2.5 2.8 2.6 4.6 5.2 3.3 5 2 4.9 .9 4.6 -.1 4.3 -1 4 -1.8 3.7 -2.7 3.3 -1.6 1.6 -3.8 2.9 -4.7 2.6 -5.5 2.2 -6.4 1.9 -7.3 1.4 -8.3 .9 -9.1 .2 -9.9 -.4 -5.2 -.6 -10.7 -1.8 -5.4 -1.4 -5.4 -1.6 -5.2 -1.9 -5 -2.3 -4.8 -2.6 -4.4 -3 -3.8 -3.3 -3.3 -3.6 -2.5 -3.8 -1.8 -4.1 -.9 -4.3 .1 -4.4 1 -4.3 2.1 -4.4 3 -4.1 3.9 -3.9 4.8 -3.5 5.5 -3.1 6 -2.6 6.6 -2.1 6.8 -1.5 7.1 -1 7 -.4 7 .1 6.8 .7 6.6 1 6.1 1.5 5.8 1.7 5.4 2.1 4.9 2.3 4.5 2.4 4 2.6 3.6 2.6 3.1 2.7 5.1 5.4 3.6 5.3 2.3 5.1 1.2 4.8 .2 4.5 -.7 4.2 -1.5 3.8 -1.1 1.9 -2.7 3.3 -3.5 3.1 -4.3 2.8 -5.1 2.5 -6.1 2.1 -7 1.7 -7.9 1.2 -8.9 .7 -9.9 .1 -10.7 -.8 -11.2 -1.7 -5.8 -1.3 -5.7 -1.6 -5.6 -2 -5.5 -2.3 -5.2 -2.6 -4.9 -3.1 -4.3 -3.3 -3.8 -3.8 -3 -4 -2.2 -4.4 -1.2 -4.5 -.2 -4.7 .8 -4.7 1.9 -4.7 3 -4.5 4 -4.3 5 -3.9 5.8 -3.5 6.4 -3 7 -2.3 7.4 -1.8 7.5 -1.1 7.6 -.6 7.6 .1 7.3 .6 7 1.1 6.7 1.5 6.2 1.9 5.8 2.2 5.3 2.4 4.8 2.5 4.3 2.8 3.8 2.8 3.3 2.8 3 2.9 4.6 5.6 3.3 5.5 2 5.2 .9 4.8 0 4.5 -.9 4.2 -1.7 3.8 -1.1 1.9 -2.7 3.3 -3.6 3.1 -2.1 1.5 -4.7 2.6 -5.6 2.4 -6.6 1.9 -7.5 1.6 -4.2 .7 -9.1 .8 -10.2 .2 -11.1 -.5 -11.9 -1.6 -6.1 -1.2 -6.2 -1.5 -6.1 -1.9 -6 -2.2 -5.9 -2.7 -5.4 -3 -5 -3.5 -4.4 -3.8 -3.7 -4.3 -2.9 -4.6 -1.8 -4.8 -.7 -5.1 .4 -5.1 1.6 -5.2 2.8 -5.1 4 -4.8 5.1 -4.5 6 -4 6.9 -3.4 7.5 -2.8 7.9 -2.1 8.2 -1.5 8.3 -.7 8.3 -.1 8 .5 7.7 1.1 7.3 1.5 6.9 2 6.3 2.3 5.8 2.5 5.2 2.8 4.7 2.9 4.2 3 3.7 3 3.2 3.1 5.2 6 3.6 5.7 2.4 5.5 1.2 5.1 .4 4.7 -.2 2.2 -.9 4.2 -1.6 3.9 -1 1.8 -2.7 3.4 -3.3 3.2 -2 1.4 -4.5 2.8 -5.3 2.4 -3.1 1.1 -6.7 2 -7.8 1.7 -4.4 .6 -9.5 .9 -10.7 .3 -11.8 -.5 -12.7 -1.5 -6.7 -1.2 -6.7 -1.5 -6.7 -2 -6.7 -2.3 -6.5 -2.7 -6.1 -3.3 -5.7 -3.7 -5 -4.1 -4.3 -4.6 -3.3 -5 -2.3 -5.3 -1 -5.6 .3 -5.8 1.6 -5.8 3.1 -5.7 4.3 -5.4 5.7 -5 6.7 -4.6 7.7 -3.8 8.4 -3.2 8.8 -2.3 9.2 -1.6 9.3 -.8 9.1 0 8.9 .6 8.5 1.3 7.9 1.8 7.5 2.2 6.8 2.6 6.2 2.8 5.6 3.1 5.1 3.1 4.4 3.3 3.9 3.3 3.4 3.3 5.5 6.4 3.9 6.1 2.6 5.7 1.5 5.3 .4 2.5 .2 4.7 -.1 2.2 -.8 4.2 -.7 1.9 -1.7 3.7 -2.3 3.4 -1.4 1.6 -3.2 3 -1.9 1.5 -6.8 3.9 -5.6 2.3 -10.1 3.1 -8.2 1.6 -9.5 1.2 -5.2 .4 -11.4 .3 -12.8 -.4 -13.9 -1.5 -7.4 -1.2 -7.5 -1.6 -7.6 -2 -7.5 -2.5 -7.4 -3 -7 -3.5 -6.6 -4 -6 -4.6 -5 -5.2 -4 -5.6 -2.8 -6.1 -1.3 -6.4 .2 -6.7 1.9 -6.7 3.5 -6.6 5.2 -6.3 6.6 -5.9 7.9 -5.2 9 -4.4 9.8 -3.5 10.4 -2.7 10.6 -1.6 10.6 -.7 10.4 .1 10.1 1 9.5 1.6 8.8 2.3 8.2 2.7 7.5 3 6.7 3.3 6 3.5 5.4 3.6 4.7 3.6 4.2 3.7 3.5 3.5 5.8 7 4.2 6.5 1.5 3 2.4 5.8 .8 2.7 1.1 5 .4 4.6 -.1 4.2 -.5 3.9 -1 3.6 -1.3 3.3 -1.8 3.1 -2.2 2.9 -2.6 2.8 -5 3.8 -4.2 2.3 -4.9 2.2 -9.1 3 -11.7 2.6 -14.7 1.8 -11.8 .7 -13.5 0 -15.3 -.9 -8.2 -.9 -8.6 -1.3 -8.8 -1.7 -9 -2.2 -9.1 -2.8 -9 -3.3 -8.7 -4.1 -8.2 -4.7 -7.4 -5.5 -6.4 -6.2 -5.1 -6.9 -3.4 -7.5 -1.6 -8.1 .5 -8.3 2.6 -8.4 4.8 -8.4 7 -7.9 8.8 -7.2 10.5 -6.3 11.7 -5.3 12.7 -4 13.2 -2.7 13.3 -1.5 13 -.3 12.6 .9 11.9 1.7 11.1 2.5 10.1 3.2 9.3 3.6 8.2 4 7.4 4.1 6.5 4.2 5.7 4.3 5 4.2 4.3 4.2 3.8 4 6 7.6 4.5 6.9 3.4 6.2 3.5 8.2 7 19.5 2.1 4.3 2.6 3.7 2.1 2.2 2.4 1.9 4.5 2.6 5.7 2 7.5 1.4 9.6 .6 12.4 -.3 15.9 -1.6 12.8 -2.1 14.7 -3 16.7 -4.1 18.4 -5.5 19.6 -7 9.9 -4 9.8 -4.4 9.4 -4.6 8.7 -5 7.7 -5 6.3 -5.1 4.8 -4.9 2.7 -4.6 .5 -4.1 -2 -3.5 -4.4 -2.6 -7 -1.8 -9.2 -.8 -11.2 .1 -12.8 1 -14 1.7 -14.6 2.3 -14.8 2.6 -28.6 5.9 -25.6 5.6 -57.3 13.1 -8.8 2.3 -9.3 3.4 -4.3 2.2 -4.8 3.5 -3.7 3.8 -8 9.3 -2.8 2.6 -3.1 2.5 -3.6 2.5 -4.2 2.4 -4.9 2.3 -5.7 2.1 -6.7 1.9 -7.9 1.6 -14.1 1.9 -11.2 .7 -6.2 .1 -13.5 -.5 -14.8 -1.5 -7.9 -1.2 -8 -1.7 -8.2 -2 -8.2 -2.6 -8 -3.1 -7.8 -3.8 -7.3 -4.3 -6.5 -4.9 -5.6 -5.6 -4.5 -6.1 -3.1 -6.7 -1.5 -7.1 .3 -7.3 2.1 -7.4 4 -7.3 5.8 -7 7.5 -6.4 8.9 -5.7 10.1 -4.8 10.9 -3.8 11.5 -2.7 11.7 -1.7 11.7 -.6 11.3 .4 10.9 1.3 10.2 2 9.4 2.5 8.7 3.1 7.8 3.4 7.1 3.7 6.2 3.8 5.6 3.9 4.8 3.9 4.3 3.8 3.7 3.8 3.1 3.7 2.8 3.5 4.3 6.7 1.7 3.2 2.5 5.8 2.4 7.8 .9 4.6 .5 4.2 .1 7.4 -.8 6.3 -1 4.2 -1 2.6 -2.5 4.8 -1.7 2.2 -2 2.1 -2.4 2 -2.9 2 -5.4 2.8 -4.5 1.7 -5.3 1.7 -10.1 2.4 -13.2 2 -10.8 1.1 -12.8 .6 -15 0 -17.1 -.9 -9.5 -.9 -9.9 -1.4 -10.3 -1.8 -10.7 -2.3 -10.9 -3.1 -10.9 -3.8 -10.7 -4.6 -10.1 -5.5 -9.2 -6.5 -8 -7.5 -6.3 -8.4 -4.3 -9.3 -1.8 -10.1 .9 -10.5 3.8 -10.6 6.6 -10.4 9.5 -9.8 11.9 -8.9 13.9 -7.6 15.3 -6 16.3 -4.3 16.5 -2.6 16.4 -1 15.8 .6 15 1.8 13.8 2.9 12.5 3.7 11.4 4.3 10 4.7 9 4.9 7.8 5 6.8 5 5.9 4.9 5.2 4.8 4.4 4.5 3.9 4.3 6.3 8 4.9 7 11.7 18.3 3 3.8 3.2 3.3 3.5 2.8 1.9 1.3 4.3 2.1 5 1.8 5.7 1.3 10.2 1.1 8.1 .1 9.2 -.5 10.4 -1.2 11.5 -1.9 12.6 -2.8 13.4 -3.7 6.8 -2.2 13.5 -5 6.5 -2.8 6.1 -2.9 5.6 -3.1 4.9 -3.1 4.1 -3.1 3.1 -3 2 -2.9 .6 -2.6 -.7 -2.3 -2.1 -1.9 -3.5 -1.4 -4.8 -1 -6.1 -.5 -7.1 .1 -8.1 .4 -17.8 2 -9.4 1.5 -18.6 3.3 -25.2 5.4 -25.6 6.3 -9.2 2.7 -7.1 2.4 -2.8 1.2 -4.5 2.4 -1.7 1.1 -2.4 2.3 -.8 1.1 -1 2.3 -.2 2.3 .5 2.3 1.2 2.2 1.7 2.1 2.3 2 2.9 1.9 3.5 1.7 4.3 1.4 7.9 1.6 10 .9 8.1 0 14.5 -1.1 11.4 -1.6 12.7 -2.4 14.1 -3.4 15 -4.4 15.4 -5.4 7.5 -3.1 7.4 -3.3 6.8 -3.5 6.3 -3.6 5.4 -3.7 4.4 -3.6 3.2 -3.5 1.7 -3.2 .2 -2.9 -1.5 -2.5 -3.2 -2 -4.9 -1.4 -6.4 -.8 -7.8 -.2 -9 .4 -9.9 .9 -21.3 3 -10.9 1.9 -21 4.1 -27.5 6 -26.6 6.6 -9.2 2.7 -7 2.5 -2.7 1.1 -4.4 2.4 -3.1 2.3 -2 2.4 -1.3 2.5 -.7 3.7 .2 2.4 .9 3.6 1.8 3.5 1.6 2.1 3.2 3 2.6 1.8 3.2 1.7 3.8 1.4 4.6 1.1 5.3 .9 10 .6 12.7 -.3 16.1 -1.7 12.8 -2.1 14.7 -3.1 16.5 -4.2 17.9 -5.5 9.4 -3.3 9.4 -3.6 9.3 -4 9 -4.2 8.6 -4.5 7.7 -4.7 6.7 -4.7 5.3 -4.6 3.6 -4.5 1.6 -4.1 -.5 -3.6 -2.8 -3 -5.1 -2.1 -7.3 -1.4 -9.3 -.5 -11.1 .4 -12.3 1.1 -13.3 1.8 -13.8 2.2 -13.8 2.5 -26.6 5.5 -65.9 14.8 -15.2 4 -9.8 3.4 -2.5 1.2 -4 2.3 -4.2 3.6 -3.1 3.8 -7.8 12 -3.3 3.8 -4.2 3.7 -5.2 3.5 -4.3 2.2 -5.1 2.1 -6 1.9 -7 1.8 -8.3 1.6 -9.7 1.3 -11.3 .8 -12.9 .3 -7.2 -.2 -15.5 -1.1 -8.4 -1 -8.7 -1.4 -9 -1.8 -9.2 -2.4 -9.1 -2.9 -9 -3.6 -8.7 -4.2 -8.1 -5 -7.2 -5.8 -6.1 -6.4 -4.7 -7.2 -3 -7.7 -1 -8.3 1.1 -8.5 3.3 -8.5 5.5 -8.3 7.6 -7.8 9.4 -7.1 11.1 -6.1 12.2 -4.9 13 -3.7 13.3 -2.4 13.4 -1.1 13.1 .1 12.5 1.1 11.8 2.1 10.9 2.7 9.9 3.4 9 3.8 8.1 4 7.1 4.2 6.3 4.3 5.5 4.3 4.8 4.2 4.2 4.2 6.7 7.8 5 7.2 3.8 6.4 3.9 8.5 7.7 20.2 3.2 5.7 2.9 3.6 3.7 3.1 4.8 2.5 6.1 2 7.9 1.3 10.2 .6 13 -.6 16.5 -1.8 13.3 -2.3 15.2 -3.3 17.1 -4.5 18.5 -5.8 9.7 -3.5 9.7 -3.8 9.6 -4.2 9.3 -4.4 8.7 -4.7 7.9 -4.9 6.7 -4.9 5.2 -4.9 3.3 -4.6 1.3 -4.2 -1 -3.6 -3.5 -2.9 -5.9 -2.1 -8.2 -1.1 -10.2 -.3 -11.9 .7 -13.2 1.4 -14 2 -14.4 2.4 -28.3 5.6 -47.6 10.5 -37.2 8.6 -9.2 2.4 -6.9 2.3 -5.2 2.2 -3.9 2.3 -3.1 2.4 -2.5 2.5 -8.3 10.5 -3.6 4 -2.8 2.5 -3.3 2.5 -6 3.6 -7.6 3.2 -9.7 3 -12.2 2.3 -9.9 1.2 M1076.3 869.4l-8.5 .4 -9.3 -.3 -9.8 -1.1 -5.1 -.9 -10.1 -2.5 -5 -1.7 -4.9 -2 -4.6 -2.3 -4.3 -2.5 -3.9 -2.9 -3.3 -3.2 -2.8 -3.5 -2.1 -3.6 -1.4 -3.9 -.5 -4 .4 -4 1.2 -4.1 2.2 -3.9 3 -3.7 3.8 -3.5 4.6 -3.2 5.2 -2.7 5.7 -2.3 6.2 -1.8 6.3 -1.3 6.6 -.8 6.5 -.3 6.5 .2 6.3 .7 6 1 5.7 1.4 5.4 1.7 4.9 1.9 4.6 2.2 4.1 2.3 3.7 2.4 3.3 2.5 2.9 2.5 4.7 5.2 3.3 5 2 4.8 1 4.6 0 4.3 -1 4 -1.8 3.7 -1.2 1.7 -3 3.3 -3.8 2.9 -4.6 2.5 -5.5 2.3 -6.3 1.8 -7.3 1.4 -8.2 .9 -9.1 .3 -9.8 -.5 -5.1 -.6 -10.6 -1.8 -5.4 -1.3 -5.3 -1.7 -5.1 -1.9 -5 -2.3 -4.7 -2.6 -4.3 -2.9 -3.8 -3.3 -3.2 -3.5 -2.5 -3.8 -1.7 -4.1 -.9 -4.2 .1 -4.3 1 -4.3 2 -4.2 3 -4.1 3.9 -3.8 4.7 -3.5 5.4 -3.1 6 -2.6 6.4 -2 6.8 -1.5 6.9 -1 7 -.4 6.9 .1 6.7 .6 6.5 1.1 6.1 1.4 5.7 1.7 5.3 2.1 4.9 2.2 4.4 2.4 4 2.5 3.5 2.6 3.2 2.7 5 5.4 3.6 5.2 2.3 5.1 1.2 4.8 .2 4.4 -.8 4.2 -1.5 3.8 -1.1 1.8 -2.7 3.4 -3.6 3 -4.3 2.8 -5.2 2.4 -6.1 2.1 -7 1.6 -8 1.2 -9 .7 -9.8 0 -10.6 -.9 -11.2 -1.8 -5.7 -1.4 -5.6 -1.6 -5.6 -2 -5.3 -2.4 -5.1 -2.7 -4.7 -3 -4.1 -3.4 -3.6 -3.8 -2.8 -4 -2 -4.3 -1 -4.6 0 -4.6 1 -4.6 2.1 -4.6 3.1 -4.4 4.2 -4.2 5 -3.8 5.8 -3.3 6.5 -2.8 6.9 -2.2 7.3 -1.7 7.5 -1 7.4 -.4 7.4 .2 7.2 .6 6.9 1.2 6.5 1.5 6.1 1.9 5.6 2.2 5.1 2.4 4.7 2.6 4.2 2.7 3.7 2.7 3.2 2.9 5.3 5.6 3.8 5.5 2.4 5.3 1.3 4.9 .3 4.6 -.5 4.3 -1.4 4 -2.1 3.6 -3 3.4 -1.7 1.5 -4.1 2.9 -2.3 1.3 -5.3 2.5 -6.3 2.1 -7.2 1.7 -8.2 1.2 -9.3 .7 -10.3 .1 -11.2 -.8 -11.8 -1.8 -6.1 -1.3 -6.1 -1.7 -6 -2 -5.8 -2.4 -5.6 -2.8 -5.1 -3.2 -4.7 -3.6 -4 -4 -3.3 -4.3 -2.3 -4.6 -1.3 -4.9 -.2 -5 .9 -5.1 2.1 -5 3.3 -4.9 4.4 -4.6 5.4 -4.2 6.3 -3.6 7 -3.2 7.6 -2.4 7.9 -1.8 8.1 -1.2 8.2 -.4 8 .2 7.8 .7 7.4 1.3 7 1.7 6.5 2 6 2.4 5.5 2.6 5 2.8 4.4 2.9 3.9 2.9 3.5 3 3 3 4.7 5.9 3.3 5.7 2.1 5.3 1 5 .1 4.6 -.3 2.2 -1.1 4.1 -1.8 3.7 -2.5 3.5 -1.6 1.6 -3.6 3.1 -2.1 1.4 -4.8 2.7 -5.7 2.3 -6.6 2 -7.7 1.7 -4.2 .6 -9.4 1 -10.5 .3 -11.5 -.4 -12.5 -1.4 -6.5 -1.2 -6.6 -1.5 -6.6 -1.8 -6.6 -2.3 -6.3 -2.6 -6.1 -3.1 -5.6 -3.6 -5 -4 -4.3 -4.4 -3.4 -4.9 -2.3 -5.2 -1.2 -5.4 .1 -5.6 1.4 -5.7 2.8 -5.5 4 -5.4 5.4 -5 6.4 -4.5 7.3 -3.9 8.1 -3.1 8.6 -2.5 8.9 -1.7 9 -.9 9 -.2 8.7 .6 8.4 1.1 7.9 1.6 7.4 2.1 6.8 2.5 6.3 2.7 5.6 3 5 3.1 4.5 3.2 4 3.2 3.4 3.2 3 3.2 4.7 6.3 3.3 5.8 2.1 5.5 1 5.1 .2 2.4 -.1 4.5 -.9 4.2 -.6 2 -1.8 3.6 -2.5 3.4 -1.4 1.6 -3.4 3.1 -2 1.4 -4.5 2.6 -2.6 1.3 -5.8 2.3 -10.5 2.9 -8.5 1.5 -9.7 1 -11 .5 -12.3 -.3 -13.4 -1.2 -7.1 -1.1 -7.3 -1.4 -7.4 -1.9 -7.3 -2.2 -7.3 -2.7 -7 -3.2 -6.6 -3.8 -6 -4.3 -5.2 -4.8 -4.3 -5.3 -3.2 -5.7 -1.8 -6.1 -.4 -6.4 1.2 -6.5 2.7 -6.4 4.4 -6.3 5.8 -5.8 7.1 -5.3 8.3 -4.7 9.2 -3.8 9.8 -2.9 10.2 -2 10.3 -1.1 10.2 -.3 9.9 .6 9.5 1.3 8.9 1.9 8.3 2.4 7.6 2.8 6.9 3.1 6.3 3.3 5.5 3.5 4.9 3.5 4.3 3.6 3.8 3.5 6 6.9 4.4 6.5 1.7 3.1 2.5 5.8 .9 2.7 1.1 5.1 .4 6.8 -.8 6.1 -1.2 3.6 -1.5 3.4 -2.1 3.2 -2.5 2.9 -4.8 4.1 -6.3 3.7 -8.1 3.3 -10.4 2.8 -13.1 2.3 -10.6 1 -12.1 .4 -13.7 -.3 -15.3 -1.3 -8.2 -1.1 -8.4 -1.6 -8.6 -2 -8.7 -2.5 -8.6 -3.1 -8.4 -3.7 -7.9 -4.3 -7.3 -5.1 -6.3 -5.7 -5.2 -6.4 -3.7 -7 -2.1 -7.4 -.2 -7.8 1.8 -8 3.9 -7.9 5.8 -7.6 7.7 -7.1 9.3 -6.3 10.7 -5.3 11.6 -4.3 12.3 -3.1 12.6 -1.9 12.5 -.7 12.1 .3 11.7 1.3 10.9 2.1 10.1 2.7 9.2 3.2 8.3 3.6 7.5 3.9 6.6 4 5.9 4.1 5.1 4.1 4.5 4.1 3.9 3.9 3.3 3.8 2.9 3.7 4.6 6.9 3.4 6.3 3.4 8.3 2.7 9.3 4.2 20.8 2 5.5 2.3 3.8 1.4 1.7 1.8 1.5 2.1 1.4 2.5 1.2 3 1 3.6 .9 6.8 .9 5.7 .2 6.8 -.1 12.9 -.9 16.8 -2.3 21.6 -4.2 17.4 -4.2 19.8 -5.6 21.7 -7.3 11.4 -4.4 11.6 -4.8 11.3 -5.2 11 -5.7 10.2 -5.9 9 -6.1 7.3 -6.1 5.3 -5.9 2.7 -5.5 -.1 -4.8 -3.2 -3.9 -6.4 -2.8 -9.5 -1.7 -12.2 -.4 -14.4 .8 -16.2 1.9 -17.2 2.6 -17.7 3.3 -17.5 3.5 -73.1 16.2 -56 11.8 -6.6 1.9 -7.3 2.9 -5.6 3.2 -10.2 7.2 -5.9 3.6 -7.1 3.3 -5.6 2.1 -9.9 2.7 -7.8 1.3 -8.8 .9 -4.8 .3 -10.3 0 -11.3 -.7 -11.9 -1.8 -6.1 -1.3 -6.2 -1.6 -6.1 -2 -5.9 -2.4 -5.7 -2.8 -5.3 -3.1 -4.8 -3.6 -4.2 -3.9 -3.4 -4.4 -2.5 -4.6 -1.5 -4.9 -.4 -5.1 .8 -5.1 2 -5.1 3.2 -5 4.3 -4.7 5.3 -4.3 6.3 -3.8 7 -3.2 7.6 -2.6 8 -1.9 8.2 -1.3 8.3 -.5 8.1 .1 7.9 .7 7.6 1.2 7.1 1.7 6.6 2 6.2 2.4 5.6 2.6 5 2.8 4.5 2.9 4.1 3 3.5 3 3.1 3 4.9 6 3.4 5.7 2.1 5.4 1.1 5 .2 4.7 -.6 4.3 -1.4 3.9 -2.1 3.7 -2.8 3.4 -3.5 3.1 -4.3 2.8 -5 2.5 -6 2.3 -7 1.9 -8.1 1.5 -9.1 1.1 -5.1 .3 -10.9 .1 -5.8 -.2 -12.5 -1.2 -13.1 -2.4 -6.7 -1.7 -6.7 -2.1 -6.5 -2.5 -6.3 -3 -5.9 -3.4 -5.4 -3.9 -4.7 -4.3 -3.8 -4.8 -2.8 -5.1 -1.7 -5.4 -.4 -5.6 .9 -5.8 2.2 -5.7 3.6 -5.5 5 -5.3 6 -4.7 7.2 -4.2 7.9 -3.6 8.6 -2.8 8.9 -2 9.2 -1.2 9.1 -.4 9 .2 8.6 1 8.3 1.5 7.7 1.9 7.1 2.4 6.5 2.7 5.9 2.9 5.3 3.1 4.8 3.2 4.2 3.3 3.6 3.2 3.2 3.3 2.7 3.2 4.3 6.2 2.9 5.8 1.8 5.4 .8 5 .1 4.6 -.7 4.2 -1.3 3.9 -.8 1.9 -2.3 3.4 -2.8 3.2 -3.5 3 -4.2 2.7 -4.9 2.5 -5.9 2.3 -6.9 2 -8 1.6 -9.2 1.3 -10.5 .7 -11.9 .1 -6.4 -.2 -13.7 -1.4 -7.3 -1.1 -7.4 -1.5 -7.4 -1.9 -7.5 -2.3 -7.4 -2.8 -7.1 -3.3 -6.7 -3.9 -6 -4.4 -5.3 -4.9 -4.2 -5.5 -3.1 -5.9 -1.7 -6.3 -.2 -6.5 1.4 -6.6 3 -6.6 4.6 -6.4 6.2 -5.9 7.4 -5.3 8.7 -4.6 9.4 -3.8 10.2 -2.9 10.4 -1.9 10.5 -.9 10.4 -.1 10.1 .7 9.5 1.4 9 2 8.3 2.6 7.7 2.9 6.8 3.2 6.2 3.4 5.6 3.5 4.8 3.6 4.3 3.6 3.7 3.6 6 6.9 4.3 6.6 3.1 6 1.9 5.6 1.2 5.1 .5 6.8 -.7 6 -1.7 5.4 -2.6 4.8 -3.5 4.3 -4.8 3.9 -4 2.5 -7.4 3.3 -6 2.1 -11.2 2.6 -9 1.5 -10.5 1 -12.2 .5 -13.8 -.2 -7.6 -.4 -16.2 -1.9 -8.6 -1.5 -8.8 -1.9 -9 -2.5 -8.9 -3 -8.7 -3.7 -8.3 -4.3 -7.6 -5 -6.8 -5.8 -5.6 -6.5 -4.2 -7.1 -2.5 -7.6 -.5 -8.1 1.5 -8.2 3.6 -8.2 5.8 -8 7.7 -7.5 9.5 -6.6 10.9 -5.7 12 -4.6 12.7 -3.3 13 -2.1 12.9 -.9 12.7 .2 12 1.3 11.4 2 10.4 2.8 9.6 3.3 8.7 3.8 7.7 3.9 6.9 4.2 6 4.2 5.3 4.2 4.6 4.1 4.1 4 3.4 3.9 5.6 7.4 4.1 6.7 3.1 6.1 2.3 5.4 1.7 4.9 4.1 13.7 2.1 6 2.7 5.1 2.5 3.3 2.1 1.9 2.4 1.7 4.5 2.3 5.9 1.7 7.7 1.1 9.9 .4 12.9 -.6 16.5 -2 13.4 -2.3 15.5 -3.3 17.5 -4.5 19.4 -6 10.2 -3.6 10.3 -4 10.4 -4.3 10.2 -4.7 9.6 -5.1 8.9 -5.2 7.7 -5.4 6.2 -5.3 4.3 -5.1 2.1 -4.8 -.4 -4.1 -3.1 -3.4 -5.7 -2.4 -8.3 -1.5 -10.7 -.4 -12.7 .5 -14.1 1.5 -15.1 2.1 -15.6 2.7 -15.5 3 -29.6 6.3 -70.6 15.7 -15.7 3.7 -7.4 2.2 -7.8 3.2 -5.4 3.4 -2.9 2.4 -10.8 10.4 -3.3 2.6 -3.7 2.5 -4.4 2.4 -5 2.3 -9.2 3 -11.4 2.6 -9 1.2 -5 .5 -11.1 .5 -6 0 -13 -.7 -14.1 -1.8 -7.4 -1.3 -7.4 -1.8 -7.6 -2.2 -7.4 -2.7 -7.2 -3.2 -6.8 -3.7 -6.3 -4.2 -5.5 -4.8 -4.5 -5.4 -3.5 -5.8 -2.1 -6.2 -.6 -6.4 .9 -6.7 2.6 -6.6 4.2 -6.4 5.7 -6.1 7.1 -5.5 8.4 -4.9 9.3 -4 9.9 -3.1 10.4 -2.2 10.6 -1.2 10.4 -.4 10.2 .5 9.8 1.3 9.1 1.9 8.5 2.4 7.9 2.8 7.1 3.1 6.4 3.4 5.7 3.5 5 3.6 4.5 3.6 3.8 3.6 6.3 7 4.5 6.6 3.2 6.1 1.2 2.9 1.7 5.4 1 7.2 -.2 6.4 -1.2 5.6 -2.1 5 -3.2 4.5 -4.2 4.1 -5.5 3.8 -4.5 2.3 -8.5 3.1 -6.9 1.9 -8.1 1.6 -9.5 1.3 -11 .9 -12.7 .4 -14.4 -.5 -7.8 -.6 -8.1 -1 -8.5 -1.3 -8.8 -1.8 -8.9 -2.2 -9 -2.8 -8.8 -3.4 -8.5 -4.1 -8 -4.8 -7.2 -5.5 -6.1 -6.2 -4.8 -6.9 -3.2 -7.4 -1.3 -8 .7 -8.2 2.8 -8.3 5 -8.1 7 -7.7 8.9 -7 10.4 -6.1 11.6 -5.1 12.5 -3.8 13 -2.6 13 -1.3 12.9 -.2 12.3 .8 11.7 1.8 10.8 2.6 10 3.1 9 3.6 8.1 3.9 7.2 4.1 6.4 4.2 5.5 4.2 4.9 4.2 4.3 4 3.7 4 5.9 7.5 4.4 6.8 4.5 9.1 3 7.7 4.8 15.6 1.7 4.5 2.6 5.1 2.6 3.3 2.1 2 2.4 1.7 4.6 2.3 6 1.7 7.7 1.1 10.1 .4 13 -.6 16.6 -2 13.4 -2.3 15.6 -3.4 17.5 -4.6 19.4 -6 10.1 -3.6 10.3 -4 10.3 -4.4 10 -4.7 9.6 -5 8.6 -5.2 7.5 -5.4 6 -5.2 4 -5.1 1.9 -4.6 -.7 -4 -3.3 -3.3 -6 -2.3 -8.5 -1.4 -10.8 -.3 -12.7 .6 -14.1 1.5 -15.1 2.2 -15.4 2.7 -15.5 3 -29.1 6.2 -69.6 15.5 -15.5 3.7 -7.2 2.2 -7.6 3.2 -5.4 3.5 -2.8 2.4 -10.6 10.4 -3.2 2.6 -3.7 2.5 -4.2 2.4 -4.9 2.3 -9 3.1 -11.2 2.6 -13.8 1.8 -10.9 .6 -6 .1 -12.9 -.5 -14.1 -1.6 -7.4 -1.3 -7.6 -1.6 -7.6 -2.1 -7.5 -2.6 -7.4 -3 -7.1 -3.6 -6.5 -4.1 -5.9 -4.7 -5 -5.2 -3.8 -5.8 -2.6 -6.2 -1.2 -6.5 .5 -6.7 2.1 -6.7 3.8 -6.7 5.3 -6.3 6.9 -5.8 8.1 -5.1 9.2 -4.3 10 -3.5 10.4 -2.5 10.7 -1.5 10.7 -.6 10.5 .3 10 1.1 9.4 1.7 8.8 2.3 8.2 2.8 7.4 3.1 6.6 3.4 6 3.5 5.3 3.6 4.6 3.7 4.1 3.6 3.5 3.6 5.6 6.9 4.1 6.5 2.8 5.9 1.1 2.8 1.4 5.3 .8 7 -.3 6.2 -1.2 5.4 -2.1 4.9 -3.1 4.4 -4 4.1 -5.4 3.7 -4.4 2.2 -8.1 3.2 -6.7 1.9 -7.9 1.6 -9.2 1.4 -10.8 1 -12.5 .5 -14.2 -.3 -7.7 -.5 -8.2 -.8 -8.5 -1.2 -8.8 -1.6 -9.1 -2 -9.2 -2.6 -9.1 -3.2 -8.9 -3.8 -8.5 -4.5 -7.7 -5.3 -6.9 -6.1 -5.5 -6.7 -4.1 -7.4 -2.2 -8 -.2 -8.4 2 -8.5 4.2 -8.5 6.4 -8.1 8.4 -7.6 10.1 -6.7 11.6 -5.6 12.5 -4.5 13.2 -3.1 13.5 -1.9 13.3 -.6 12.9 .5 12.2 1.5 11.4 2.4 10.6 3 9.5 3.5 8.6 3.9 7.7 4.2 6.8 4.2 5.9 4.3 5.3 4.3 4.5 4.2 7.4 8 5.4 7.4 2.2 3.4 3.6 6.4 3.7 8.3 5.5 14.8 2.1 5 2.3 4.2 2.9 3.7 2.2 2.2 2.7 1.9 5 2.5 6.3 1.9 8.2 1.2 10.6 .4 13.6 -.7 17.1 -2.1 13.7 -2.5 15.7 -3.6 17.4 -4.8 18.8 -6.1 9.7 -3.6 9.7 -4 9.4 -4.3 9.1 -4.6 8.4 -4.8 7.3 -4.9 6 -4.9 4.4 -4.8 2.4 -4.4 .2 -3.9 -2.2 -3.3 -4.6 -2.5 -6.9 -1.7 -9.2 -.7 -11 .2 -12.6 1 -13.6 1.6 -14.2 2.3 -14.4 2.6 -27.9 5.7 -54.6 12.1 -26.2 6.2 -8.6 2.4 -6.4 2.2 -4.9 2.2 -3.7 2.4 -2.9 2.4 -2.4 2.5 -7.1 9.2 -4.8 5.3 -2.9 2.5 -3.4 2.5 -6.1 3.5 -7.9 3.2 -10 2.9 -12.6 2.3 -10.1 1.1 M1074.9 870.9l-9 .2 -9.8 -.5 -10.3 -1.3 -5.2 -1 -10.6 -2.9 -5.1 -1.9 -5 -2.2 -4.7 -2.5 -4.3 -2.9 -3.8 -3.1 -3.3 -3.5 -2.6 -3.7 -1.8 -4 -1 -4.1 0 -4.2 .8 -4.3 1.8 -4.2 2.8 -4 3.7 -3.9 4.5 -3.5 5.2 -3 5.8 -2.7 6.2 -2.1 6.7 -1.6 6.8 -1 6.9 -.5 6.8 0 6.6 .5 6.5 .9 6.1 1.4 5.7 1.6 5.3 2 4.9 2.1 4.5 2.4 4 2.5 3.6 2.5 3.2 2.7 2.7 2.6 4.4 5.3 3.1 5.1 1.8 5 .7 4.6 -.2 4.3 -1.1 4 -2 3.7 -2.7 3.3 -1.6 1.6 -3.9 2.9 -4.8 2.6 -5.6 2.2 -6.5 1.9 -7.4 1.4 -8.4 1 -9.4 .3 -10.1 -.5 -5.4 -.5 -11 -1.8 -5.6 -1.4 -5.6 -1.6 -5.4 -2 -5.3 -2.3 -5 -2.7 -4.5 -3 -4.1 -3.4 -3.5 -3.7 -2.7 -4 -1.9 -4.3 -1 -4.4 0 -4.6 1 -4.5 2.1 -4.5 3.1 -4.4 4 -4.1 5 -3.7 5.7 -3.2 6.4 -2.8 6.8 -2.2 7.1 -1.6 7.4 -1 7.4 -.4 7.2 .2 7.1 .6 6.8 1.1 6.4 1.6 6 1.8 5.5 2.2 5.1 2.3 4.6 2.6 4.1 2.6 3.7 2.8 6 5.5 4.5 5.6 3 5.3 1.9 5.1 .7 4.7 -.1 4.4 -1.1 4.1 -1.8 3.8 -2.5 3.5 -1.6 1.6 -3.8 3 -4.5 2.7 -5.4 2.4 -6.4 2 -7.3 1.7 -8.3 1.2 -9.3 .6 -10.3 -.1 -11.1 -.9 -11.8 -1.9 -6 -1.5 -5.9 -1.7 -5.9 -2.1 -5.6 -2.5 -5.4 -2.9 -5 -3.2 -4.3 -3.7 -3.8 -4 -2.9 -4.3 -2 -4.6 -1 -4.9 .1 -4.9 1.3 -5 2.4 -4.9 3.5 -4.7 4.6 -4.4 5.5 -4 6.4 -3.4 7 -2.9 7.5 -2.3 7.9 -1.6 8 -.9 7.9 -.3 7.9 .3 7.5 .9 7.2 1.3 6.8 1.8 6.3 2.1 5.8 2.4 5.2 2.6 4.8 2.7 4.2 2.9 3.8 2.9 3.3 3 2.8 3 4.5 5.8 3.1 5.5 1.9 5.3 .5 2.4 .4 4.8 -.5 4.3 -.5 2.1 -1.6 3.8 -1.1 1.9 -2.8 3.4 -3.4 3.1 -4.2 2.8 -2.5 1.3 -5.5 2.4 -6.4 2.1 -7.4 1.7 -8.5 1.3 -9.6 .8 -10.8 0 -11.7 -.7 -12.5 -1.8 -6.5 -1.4 -6.5 -1.7 -6.4 -2.1 -6.3 -2.5 -6 -2.9 -5.6 -3.4 -5.1 -3.7 -4.4 -4.3 -3.6 -4.6 -2.6 -5 -1.5 -5.2 -.3 -5.4 1 -5.6 2.2 -5.4 3.6 -5.3 4.8 -5 5.9 -4.6 6.9 -3.9 7.6 -3.4 8.2 -2.6 8.7 -1.9 8.8 -1.2 8.8 -.4 8.6 .3 8.3 .8 7.9 1.5 7.5 1.9 6.9 2.3 6.3 2.5 5.7 2.9 5.2 3 4.6 3.1 4.1 3.1 3.5 3.2 5.8 6.3 4.2 6 2.8 5.7 1.6 5.3 .7 4.9 .1 2.4 -.5 4.3 -.5 2.1 -1.5 3.8 -1 1.9 -2.5 3.4 -3.1 3.1 -1.9 1.5 -4.2 2.8 -5 2.5 -2.8 1.2 -6.5 2.1 -7.4 1.8 -4.1 .8 -9.2 1.2 -10.5 .6 -11.7 0 -12.9 -.9 -13.8 -2.1 -7.1 -1.6 -7.2 -1.9 -7.1 -2.4 -7 -2.9 -6.6 -3.3 -6.2 -3.9 -5.6 -4.3 -4.7 -4.9 -3.7 -5.3 -2.5 -5.8 -1.3 -6 .2 -6.2 1.7 -6.3 3.3 -6.2 4.7 -5.9 6.1 -5.5 7.3 -4.9 8.3 -4.2 9.2 -3.4 9.6 -2.5 9.9 -1.6 10 -.8 9.8 0 9.5 .8 9.1 1.4 8.5 2 7.8 2.5 7.2 2.8 6.5 3.1 5.9 3.3 5.2 3.4 4.7 3.4 4 3.5 3.5 3.4 3.1 3.4 4.8 6.5 3.4 6.2 1.2 2.8 1.7 5.5 .6 2.5 .5 4.8 0 2.2 -.5 4.3 -1.6 5.7 -1.7 3.4 -2.2 3.2 -4.4 4.4 -5.8 4 -7.5 3.6 -9.5 3 -12.1 2.5 -9.7 1.2 -5.4 .5 -11.9 .4 -13.5 -.4 -14.9 -1.3 -7.9 -1.2 -8.2 -1.6 -8.2 -2 -8.3 -2.6 -8.2 -3 -8 -3.7 -7.5 -4.3 -6.7 -4.9 -5.9 -5.5 -4.8 -6.2 -3.3 -6.7 -1.8 -7.1 0 -7.5 1.9 -7.5 3.8 -7.5 5.7 -7.1 7.3 -6.7 8.9 -5.9 10.2 -5 11 -4 11.7 -2.9 11.9 -1.8 11.8 -.7 11.6 .3 11.1 1.2 10.4 1.9 9.7 2.6 8.9 3.1 8 3.4 7.2 3.7 6.4 3.9 5.7 3.9 5 3.9 4.4 3.9 3.7 3.9 3.3 3.7 5.2 7 3.8 6.5 2.7 5.9 1.8 5.4 1.3 4.9 .8 4.4 .6 5.9 .1 5.2 -.3 4.7 -.8 5.4 -1 3.7 -1.3 3.4 -1.8 3.2 -2.3 2.9 -3 2.8 -2.5 1.7 -4.7 2.6 -4 1.6 -7.5 2.4 -6.3 1.5 -7.5 1.4 -9.1 1.2 -16.9 1.4 -13.9 .5 -7.8 -.1 -17.5 -.8 -9.6 -.8 -10.2 -1.2 -10.7 -1.7 -11.1 -2.3 -11.4 -2.9 -11.5 -3.7 -11.4 -4.6 -10.9 -5.5 -10.1 -6.6 -8.9 -7.6 -7.2 -8.7 -5.1 -9.7 -2.5 -10.5 .3 -11.1 3.5 -11.4 6.6 -11.2 9.6 -10.6 12.4 -9.7 14.6 -8.3 16.2 -6.6 17.3 -4.9 17.6 -2.9 17.5 -1.2 16.8 .5 15.9 1.9 14.6 3 13.3 4 12 4.5 10.6 5 9.3 5.2 8.2 5.2 7.1 5.3 6.2 5 5.4 5 4.6 4.7 4 4.4 6.6 8.1 5.1 7.1 9.4 13.9 3.3 4.3 3.4 3.6 3.6 3.1 2 1.4 4.3 2.4 4.9 1.9 5.6 1.4 6.4 1 3.6 .2 7.8 .2 8.8 -.4 9.9 -1.1 10.8 -1.8 11.7 -2.6 12.2 -3.4 6.1 -2 12 -4.5 5.7 -2.5 5.3 -2.6 4.8 -2.7 4.2 -2.7 3.4 -2.7 2.5 -2.6 1.4 -2.4 .4 -2.3 -.9 -1.9 -2 -1.6 -3.2 -1.2 -4.4 -.9 -5.4 -.4 -6.3 0 -7 .4 -15.7 1.7 -16.5 2.6 -23.6 4.6 -19.9 4.6 -10.6 2.8 -8.5 2.6 -6.6 2.4 -2.6 1.1 -4.1 2.3 -1.5 1.1 -2.2 2.2 -.7 1.1 -.6 2.1 .1 1.1 .6 2.1 1.4 2 2.1 2 2.8 1.7 3.5 1.6 6.7 2 8.6 1.3 7 .3 12.5 -.3 9.7 -1 11 -1.6 12 -2.5 12.8 -3.2 13.4 -4.2 13.2 -5 6.3 -2.8 6 -2.9 5.3 -3 4.7 -3.1 3.9 -3 2.9 -2.9 1.7 -2.8 .4 -2.5 -.9 -2.2 -2.2 -1.8 -3.6 -1.3 -4.9 -.9 -6.1 -.4 -7.2 0 -7.9 .5 -17.6 2.1 -9.2 1.4 -18.1 3.3 -24.7 5.2 -24.9 6.2 -12.6 3.9 -8.3 3.6 -2 1.1 -2.9 2.3 -1 1.1 -1.3 2.3 -.3 1.1 -.1 2.3 .7 2.2 1.2 2.2 1.9 2.1 2.5 1.9 3.1 1.8 3.8 1.6 7.2 1.9 9.1 1.2 7.3 .3 13.3 -.6 10.5 -1.1 11.8 -1.9 13.1 -2.7 14.2 -3.7 14.9 -4.8 15 -5.7 7.1 -3.2 6.8 -3.4 6.1 -3.5 5.4 -3.5 4.4 -3.5 3.2 -3.4 1.9 -3.2 .3 -2.9 -1.2 -2.5 -2.9 -1.9 -4.5 -1.5 -6 -.8 -7.4 -.3 -8.5 .2 -9.5 .8 -10.1 1.2 -10.4 1.6 -21 3.7 -28.9 6 -29.4 7 -10.5 2.8 -8.1 2.6 -3.3 1.3 -5.2 2.3 -2 1.2 -3.1 2.3 -2 2.4 -1.2 2.4 -.5 2.4 0 2.5 .5 2.4 1.6 3.5 2.5 3.2 2.2 2.1 2.7 1.8 3.2 1.7 3.8 1.5 4.6 1.2 8.5 1.3 6.9 .3 12.7 -.2 10.3 -1 11.9 -1.6 13.6 -2.5 15.2 -3.6 16.8 -4.7 17.7 -6.1 9 -3.5 8.8 -3.8 8.6 -4 7.9 -4.3 7.2 -4.4 6.1 -4.5 4.8 -4.3 3.1 -4.2 1.3 -3.8 -.8 -3.3 -2.9 -2.7 -5 -2 -7.1 -1.2 -9 -.4 -10.5 .4 -11.8 1 -12.5 1.6 -26.1 4.5 -25.3 5.1 -41.4 9.2 -27.2 6.5 -12.8 3.8 -3.2 1.2 -5 2.3 -2 1.1 -3.3 2.4 -3.4 3.7 -3 5.2 -3.9 9.2 -2 3.8 -2.3 3.7 -3 3.4 -3.7 3.4 -4.9 3.1 -6.3 2.9 -8.3 2.8 -10.6 2.5 -13.7 2 -11.2 1 -13.1 .4 -15.1 -.2 -8.3 -.5 -8.8 -.8 -9.3 -1.2 -9.7 -1.6 -10 -2.1 -10.2 -2.7 -10.2 -3.4 -10 -4.1 -9.6 -5 -8.9 -5.8 -7.9 -6.7 -6.4 -7.6 -4.7 -8.3 -2.5 -9.1 -.2 -9.6 2.4 -9.7 5.1 -9.8 7.6 -9.3 9.9 -8.6 12 -7.5 13.5 -6.3 14.7 -4.8 15.2 -3.2 15.3 -1.7 15 -.3 14.3 1 13.5 2.1 12.5 3 11.3 3.7 10.2 4.2 9.1 4.5 8 4.7 7.1 4.7 6.1 4.7 5.4 4.6 4.6 4.5 4.1 4.3 3.5 4.1 5.6 7.6 6.2 9.8 9.5 16.9 3.8 5.3 2.9 3 4.9 3.8 4 2 7.2 2.4 5.8 1.2 10.5 .9 8.5 -.1 15 -1.2 11.8 -1.8 13.1 -2.6 14.3 -3.6 15.3 -4.6 7.7 -2.8 15.2 -6.1 7.2 -3.5 6.6 -3.5 5.9 -3.7 5 -3.6 3.8 -3.6 2.5 -3.4 1 -3.2 -.6 -2.7 -2.4 -2.2 -4 -1.8 -5.7 -1.1 -7.1 -.5 -8.5 .1 -9.5 .7 -10.3 1.1 -10.7 1.5 -11 1.8 -21.4 4.1 -28.6 6.1 -28.1 6.8 -9.9 2.8 -7.5 2.5 -3 1.3 -4.8 2.3 -3.3 2.4 -2.3 2.3 -1.5 2.5 -.7 2.4 -.3 2.5 .5 3.7 1.3 3.5 1.2 2.3 2.7 3.2 2.2 1.9 4.2 2.6 3.5 1.5 4.2 1.3 5 .9 9.2 .9 11.8 0 15.1 -1.3 12.1 -1.7 13.9 -2.6 15.7 -3.7 17.4 -5 9.2 -2.9 18.9 -7 9.4 -4 9.1 -4.4 8.5 -4.5 7.8 -4.7 6.6 -4.8 5.2 -4.7 3.5 -4.5 1.5 -4.1 -.7 -3.6 -3 -2.9 -5.4 -2.1 -7.6 -1.3 -9.5 -.4 -11.3 .5 -12.6 1.2 -13.5 1.8 -13.9 2.3 -27.6 5.3 -36.7 8 -42 9.6 -15 3.9 -9.8 3.5 -2.5 1.1 -3.9 2.3 -4.3 3.6 -3.1 3.9 -5.3 7.9 -2.9 4 -3.6 3.8 -2.9 2.5 -5.2 3.5 -4.3 2.3 -5 2.1 -5.9 2 -7 1.8 -8.2 1.6 -9.6 1.3 -11.1 .8 -12.8 .3 -7 -.1 -15.3 -1 -8.3 -1 -8.5 -1.4 -8.9 -1.8 -9 -2.3 -9 -2.8 -8.9 -3.5 -8.5 -4.1 -8 -4.9 -7.2 -5.6 -6.1 -6.3 -4.7 -6.9 -3.1 -7.6 -1.2 -8 .9 -8.3 3 -8.4 5.2 -8.2 7.2 -7.7 9.1 -7 10.6 -6.1 11.9 -5 12.6 -3.7 13.1 -2.5 13.2 -1.3 12.9 -.1 12.3 1 11.7 1.9 10.9 2.6 9.9 3.2 9 3.7 8 3.9 7.2 4.1 6.3 4.3 5.6 4.2 4.8 4.2 4.2 4.1 3.7 4 5.9 7.5 4.3 6.8 3.2 6.1 3.4 8.1 6.6 19.5 2.7 5.5 2.5 3.6 2 2.1 2.4 1.9 4.4 2.4 5.7 2 7.3 1.3 9.6 .6 12.3 -.3 15.8 -1.7 12.8 -2 14.8 -3 16.8 -4.2 18.6 -5.5 9.8 -3.3 10.1 -3.7 10.1 -4 10 -4.5 9.6 -4.7 9 -5 8.1 -5.2 6.7 -5.2 5 -5 3.1 -4.8 .7 -4.3 -1.7 -3.6 -4.3 -2.9 -6.9 -1.9 -9.3 -.9 -11.3 .1 -13.1 .9 -14.2 1.8 -14.9 2.3 -30.1 5.7 -27.9 6 -65.7 14.7 -14.5 3.7 -6.8 2.2 -5.1 2.2 -5.6 3.4 -4.1 3.7 -9.9 10.5 -3 2.6 -3.5 2.5 -4 2.4 -4.6 2.4 -5.4 2.2 -6.3 2 -11.5 2.5 -14.2 1.8 -11.3 .5 -6.1 .1 -13.4 -.6 -14.6 -1.7 -7.6 -1.4 -7.9 -1.7 -7.9 -2.2 -7.8 -2.7 -7.7 -3.2 -7.2 -3.8 -6.8 -4.3 -6 -5 -5 -5.5 -3.9 -6.1 -2.5 -6.5 -.9 -6.8 .8 -7.1 2.5 -7 4.3 -6.9 5.9 -6.6 7.5 -5.9 8.8 -5.2 9.9 -4.4 10.6 -3.4 11 -2.3 11.2 -1.4 11.1 -.3 10.8 .5 10.3 1.3 9.6 2 9 2.6 8.2 3 7.4 3.3 6.7 3.6 6 3.7 5.2 3.7 4.6 3.8 4 3.7 6.5 7.3 4.8 6.7 3.4 6.3 1.2 2.9 1.9 5.5 1.5 7.3 .4 6.4 -.2 3.8 -.6 3.6 -.9 3.2 -1.1 3.1 -2.3 4.2 -3.2 3.9 -4 3.6 -5.4 3.3 -6.9 3.1 -9 2.8 -7.3 1.7 -13.7 2 -11.1 1 -12.9 .5 -14.8 -.3 -16.8 -1.3 -9.1 -1.2 -9.4 -1.6 -9.7 -2.1 -9.8 -2.7 -9.9 -3.4 -9.6 -4 -9.3 -4.8 -8.5 -5.7 -7.4 -6.5 -6.1 -7.3 -4.4 -8.1 -2.4 -8.8 -.1 -9.1 2.4 -9.4 4.8 -9.3 7.2 -8.9 9.5 -8.2 11.4 -7.3 13 -6 13.9 -4.6 14.6 -3.2 14.7 -1.7 14.4 -.4 13.9 .9 13 2 12.1 2.8 11.1 3.4 9.9 4 8.9 4.3 7.9 4.5 7 4.6 6 4.6 5.3 4.5 4.6 4.4 4 4.2 6.5 7.9 4.8 7.2 5.3 9.2 8.3 16.1 3.3 5.1 3.9 4.3 4.7 3.5 3.8 2 7 2.3 5.6 1.1 10.3 .9 8.3 0 15 -1.2 11.8 -1.7 13.4 -2.5 14.8 -3.6 15.9 -4.7 8.3 -2.8 16.4 -6.4 8 -3.6 7.5 -3.8 6.9 -3.9 5.9 -4 4.9 -4 3.5 -3.8 2 -3.6 .2 -3.2 -1.7 -2.7 -3.5 -2.2 -5.4 -1.5 -7.2 -.8 -8.7 -.1 -9.9 .5 -10.9 1.1 -11.6 1.6 -11.8 1.9 -23.4 4.4 -40.3 8.8 -21.9 5.2 -10.8 2.9 -8.3 2.5 -6.2 2.4 -4.5 2.4 -3.2 2.3 -2.3 2.5 -1.6 2.5 -1.4 3.8 -.5 3.8 -.1 3.8 .6 4.8 1.1 4.5 1.2 3.1 2.3 3.7 2.4 2.4 3.1 2.2 2.6 1.2 5 1.5 4.1 .8 4.9 .5 5.9 .2 11.2 -.3 14.6 -1.5 12 -1.8 14.2 -2.7 16.5 -3.7 18.9 -5.1 10.2 -3.2 10.8 -3.5 11.1 -4.1 11.3 -4.4 11.3 -4.9 11.1 -5.3 10.5 -5.7 9.6 -5.9 8.2 -6 6.4 -5.9 4.3 -5.7 1.6 -5.1 -1.4 -4.4 -4.3 -3.5 -7.5 -2.3 -10.3 -1.2 -12.9 .1 -14.9 1.1 -16.4 2.1 -17.1 2.9 -34.4 6.8 -69.9 15.5 -39.4 8.3 -13.4 3.1 -6.2 1.9 -7 3 -5.4 3.3 -11.7 8.5 -6.2 3.6 -7.5 3.3 -9.3 2.9 -11.3 2.3 -8.8 1 -9.9 .5 -5.3 -.1 -11.4 -.6 -12.2 -1.6 -6.3 -1.3 -6.3 -1.6 -6.3 -1.9 -6.2 -2.3 -5.9 -2.8 -5.7 -3.1 -5.1 -3.6 -4.5 -4 -3.7 -4.4 -2.9 -4.7 -1.8 -5 -.7 -5.2 .5 -5.4 1.8 -5.3 3 -5.2 4.3 -5 5.3 -4.5 6.4 -4.1 7.1 -3.5 7.8 -2.8 8.3 -2.1 8.4 -1.4 8.6 -.7 8.5 0 8.2 .6 7.9 1.2 7.4 1.7 6.9 2.1 6.4 2.4 5.9 2.6 5.3 2.9 4.7 3 4.2 3 3.7 3.1 6 6.2 2.3 3.1 3.7 5.8 2.3 5.5 1.3 5.1 .4 4.8 -.5 4.4 -1.2 4 -1.8 3.8 -2.5 3.4 -3.3 3.2 -3.9 2.9 -4.7 2.6 -5.6 2.4 -6.5 2.1 -7.6 1.7 -8.7 1.3 -10 .9 -5.4 .1 -11.7 -.2 -6.3 -.4 -13.2 -1.8 -6.9 -1.3 -6.9 -1.7 -7 -2.1 -6.8 -2.6 -6.6 -3 -6.2 -3.4 -5.7 -4 -5 -4.5 -4.1 -4.9 -3.1 -5.3 -1.9 -5.6 -.6 -5.9 .8 -6.1 2.3 -6 3.7 -5.8 5.1 -5.5 6.4 -5.1 7.4 -4.4 8.3 -3.7 9 -3 9.4 -2.1 9.6 -1.3 9.6 -.4 9.3 .3 9.1 .9 8.5 1.6 8 2.1 7.4 2.5 6.8 2.8 6.1 3.1 5.5 3.2 4.9 3.3 4.3 3.4 3.7 3.4 3.3 3.3 5.2 6.5 3.7 6.1 2.4 5.7 1.5 5.3 .6 4.9 -.2 4.5 -.7 4.1 -.6 1.9 -1.6 3.7 -2.1 3.3 -1.3 1.6 -3 3.1 -5.8 4.1 -4.7 2.5 -5.7 2.3 -6.6 2 -7.7 1.8 -8.9 1.4 -10.3 .9 -11.7 .4 -13.2 -.4 -7 -.6 -7.4 -.9 -7.6 -1.2 -7.9 -1.6 -7.9 -2.1 -7.9 -2.5 -7.7 -3 -7.5 -3.6 -7 -4.2 -6.3 -4.8 -5.4 -5.4 -4.3 -5.9 -2.9 -6.4 -1.5 -6.8 .2 -7 2 -7.1 3.7 -7 5.5 -6.7 7 -6.2 8.5 -5.5 9.5 -4.6 10.5 -3.8 11 -2.6 11.2 -1.7 11.2 -.7 10.9 .3 10.5 1.1 10 1.8 9.2 2.4 8.5 2.9 7.7 3.2 6.9 3.5 6.2 3.7 5.5 3.7 4.8 3.8 4.2 3.8 3.6 3.7 5.9 7.1 4.3 6.6 1.6 3.1 2.5 5.9 2.2 7.7 .8 6.8 0 5.9 -.5 3.6 -.8 3.3 -1 3.1 -1.4 2.9 -2.6 4 -3.5 3.7 -4.5 3.5 -5.9 3.2 -7.6 2.9 -9.9 2.7 -12.8 2.2 -10.4 1.1 -12.2 .7 -14.1 .1 -7.8 -.3 -17 -1.4 -9.1 -1.3 -9.6 -1.7 -9.8 -2.2 -9.9 -2.8 -10 -3.4 -9.6 -4.3 -9.2 -5 -8.5 -5.8 -7.3 -6.7 -5.9 -7.5 -4.1 -8.3 -2.1 -8.9 .3 -9.3 2.8 -9.5 5.3 -9.3 7.7 -8.9 10 -8.2 11.8 -7.1 13.3 -5.8 14.3 -4.5 14.7 -2.9 14.8 -1.5 14.5 -.1 13.9 1.1 13 2.2 12 2.9 10.9 3.7 9.8 4.1 8.8 4.4 7.7 4.5 6.8 4.7 6 4.6 5.2 4.5 4.5 4.4 3.9 4.2 6.3 7.8 4.8 7.1 3.7 6.3 9.9 18.7 3.5 5.1 2.7 2.8 4.6 3.7 5.9 2.9 7.4 2.2 6 1 10.9 .6 8.8 -.2 15.7 -1.5 12.3 -2 13.8 -2.9 15.1 -3.9 16 -5.1 8.2 -2.9 8.1 -3.3 7.8 -3.5 7.5 -3.6 6.9 -3.9 6 -3.9 5 -3.9 3.8 -3.8 2.2 -3.6 .6 -3.2 -1.3 -2.8 -3 -2.2 -5 -1.6 -6.6 -1 -8.2 -.2 -9.5 .3 -10.5 1 -11.2 1.4 -11.6 1.8 -11.6 2 -22.5 4.5 -37.4 8.3 -25.1 6.3 -8.4 2.6 -6.4 2.4 -4.6 2.4 -3.3 2.3 -2.3 2.4 -1.6 2.5 -1 2.5 -.6 3.8 0 3.8 .8 4.9 1.2 3.4 1.6 3.1 2.2 2.9 2.9 2.6 3.8 2.2 3.1 1.3 3.7 1.1 4.5 .8 5.4 .6 6.4 .2 11.9 -.4 15.5 -1.6 12.6 -2 14.7 -2.9 17 -4.1 19 -5.5 10.2 -3.3 10.5 -3.7 10.7 -4.2 10.7 -4.5 10.5 -4.9 10 -5.3 9.1 -5.5 8 -5.6 6.3 -5.5 4.3 -5.3 2 -4.9 -.7 -4.3 -3.5 -3.4 -6.3 -2.5 -9 -1.3 -11.4 -.3 -13.4 .7 -15 1.7 -15.8 2.4 -16.2 2.9 -31.8 6.5 -92 20.3 -9.7 2.3 -7.2 2.1 -5.6 2 -6.1 3.3 -4.8 3.5 -10.3 8.9 -3.6 2.6 -4 2.4 -4.6 2.4 -5.4 2.2 -9.7 2.9 -11.9 2.3 -9.4 1 -10.6 .5 -5.8 0 -12.4 -.7 -13.4 -1.7 -7 -1.4 -7 -1.7 -7.1 -2.1 -6.9 -2.6 -6.7 -3 -6.3 -3.5 -5.8 -4 -5.1 -4.6 -4.2 -4.9 -3.2 -5.4 -1.9 -5.8 -.6 -6 .8 -6.1 2.3 -6.1 3.8 -5.9 5.2 -5.7 6.4 -5.1 7.6 -4.5 8.5 -3.8 9.1 -3 9.6 -2.1 9.7 -1.3 9.8 -.5 9.5 .4 9.1 1 8.7 1.6 8.1 2.1 7.5 2.6 6.8 2.8 6.2 3.2 5.5 3.2 4.9 3.4 4.3 3.4 3.8 3.4 6.2 6.7 4.4 6.4 3.1 6 1.9 5.5 1.1 5.1 .2 4.6 -.3 4.3 -.4 2.1 -1.3 3.8 -2.8 5.2 -2.5 3.1 -5 4.3 -4.1 2.6 -7.7 3.6 -6.3 2.1 -7.4 1.9 -8.6 1.5 -9.9 1.1 -11.3 .6 -12.8 -.1 -7 -.4 -14.8 -1.7 -7.9 -1.3 -8 -1.8 -8 -2.2 -8.1 -2.7 -7.8 -3.3 -7.5 -3.8 -7 -4.5 -6.2 -5 -5.2 -5.7 -4 -6.2 -2.6 -6.7 -.9 -7 .8 -7.3 2.6 -7.3 4.4 -7.1 6.2 -6.7 7.7 -6.1 9.1 -5.4 10.2 -4.4 10.9 -3.5 11.4 -2.4 11.5 -1.3 11.4 -.3 11.1 .6 10.5 1.4 9.9 2.1 9.1 2.7 8.3 3.1 7.6 3.4 6.7 3.7 6 3.8 5.4 3.8 4.6 3.8 4.1 3.8 6.5 7.4 4.8 6.8 1.9 3.3 2.9 6 2.6 8 1.3 7 .3 4.2 0 3.8 -.8 6.8 -1.7 5.8 -1.2 2.7 -1.5 2.5 -1.8 2.4 -2.2 2.3 -4.1 3.2 -5.3 3 -6.9 2.9 -9 2.6 -7.4 1.6 -13.9 1.9 -11.3 1 -13.3 .4 -15.4 -.2 -17.5 -1.4 -9.4 -1.2 -9.9 -1.6 -10.3 -2.2 -10.4 -2.8 -10.4 -3.4 -10.3 -4.3 -9.8 -5.1 -9.1 -6 -8 -6.9 -6.5 -7.8 -4.7 -8.6 -2.4 -9.4 0 -9.8 2.7 -10.1 5.4 -10 8.1 -9.6 10.5 -8.7 12.5 -7.7 14.1 -6.2 15.1 -4.8 15.7 -3.1 15.7 -1.6 15.4 -.1 14.6 1.3 13.7 2.3 12.5 3.2 11.5 3.9 10.2 4.3 9.1 4.7 8 4.7 7.1 4.9 6.1 4.8 5.3 4.6 4.6 4.6 4 4.3 6.6 8 4.9 7.2 11.2 18.9 2.7 4 2.7 3.5 3 3.1 5.2 3.9 4.1 2.1 4.8 1.7 2.7 .7 6 1.1 10.8 .8 8.6 -.1 15.2 -1.4 11.8 -1.9 13 -2.7 14.1 -3.7 14.7 -4.7 7.4 -2.8 14.3 -6.1 6.5 -3.3 6 -3.4 5.1 -3.5 4.2 -3.4 2.9 -3.3 1.7 -3.1 .1 -2.8 -1.4 -2.3 -3 -1.9 -4.6 -1.4 -6 -.7 -7.4 -.3 -8.5 .3 -9.3 .8 -20.2 2.8 -10.4 1.7 -20.1 3.9 -26.5 5.8 -26 6.4 -9 2.7 -6.9 2.5 -2.8 1.2 -4.3 2.3 -2.9 2.4 -1.9 2.3 -1.1 2.4 -.4 2.4 .2 2.4 .6 2.4 1.9 3.4 1.8 2.2 2.2 2 2.8 1.9 3.3 1.7 4 1.4 7.4 1.7 9.4 1 7.7 .1 9.1 -.4 10.4 -1 12.1 -1.7 13.6 -2.7 15.3 -3.7 8.2 -2.2 17.1 -5.5 8.7 -3.2 8.7 -3.5 8.5 -3.8 8 -4 7.5 -4.2 6.5 -4.3 5.4 -4.3 4 -4.1 2.3 -3.9 .5 -3.5 -1.5 -3 -3.6 -2.4 -5.6 -1.6 -7.6 -.9 -9.2 -.1 -10.6 .5 -11.6 1.2 -12.4 1.7 -12.6 2.1 -24.9 4.8 -22.9 4.9 -28.2 6.4 -20.3 4.9 -9.8 2.7 -7.4 2.4 -5.5 2.3 -4.1 2.4 -1.6 1.2 -2.5 2.4 -1.9 2.5 -1.9 3.9 -1.4 3.9 -3.2 11.4 -2.4 5.7 -1.9 3.2 -1.6 2.1 -4.2 3.8 -2.7 1.9 -3.3 1.8 -3.9 1.7 -4.7 1.7 -5.6 1.6 -6.7 1.5 -12.5 2 -10.5 1.1 -12.3 .8 -14.6 .2 -8.1 -.2 -18 -1.2 -9.8 -1.1 -10.4 -1.5 -10.7 -2.1 -11.1 -2.7 -11.2 -3.4 -11.1 -4.2 -10.7 -5.2 -10.1 -6.1 -8.9 -7.1 -7.5 -8.2 -5.6 -9.1 -3.3 -10 -.5 -10.5 2.3 -11 5.4 -10.9 8.4 -10.5 11.1 -9.7 13.4 -8.5 15.2 -7 16.4 -5.3 17 -3.5 17 -1.8 16.6 -.1 15.8 1.3 14.7 2.5 13.5 3.5 12.1 4.2 10.9 4.7 9.6 5 8.5 5.1 7.3 5.1 6.5 5.1 5.5 4.9 4.9 4.7 4.1 4.4 3.7 4.3 5.9 7.7 13.4 20.2 3.1 4.1 3.3 3.6 3.5 3.1 1.9 1.3 4.2 2.4 4.8 1.9 5.5 1.5 6.3 1 3.5 .3 7.8 .2 8.8 -.3 9.9 -1 11 -1.7 12 -2.5 12.7 -3.4 6.5 -2 12.9 -4.6 6.2 -2.6 11.3 -5.6 4.8 -2.9 4.1 -2.9 3.2 -2.9 2.2 -2.7 1 -2.5 -.3 -2.3 -1.5 -1.9 -2.8 -1.5 -4.2 -1.1 -5.3 -.6 -6.3 -.2 -7.3 .3 -16.4 1.5 -8.7 1.3 -17.6 3 -24.5 5 -20 4.7 -10.4 2.9 -8.2 2.6 -8.8 3.5 -2.1 1.2 -3.2 2.2 -1.1 1.2 -1.4 2.2 -.4 1.1 -.1 2.2 .2 1.1 1 2.2 1.6 2.1 2.3 1.9 2.9 1.8 3.6 1.7 6.8 2 8.8 1.2 7.1 .4 12.8 -.3 10 -1 11.3 -1.7 12.6 -2.5 13.6 -3.5 14.2 -4.4 14.4 -5.3 6.8 -3 6.6 -3.1 6 -3.3 5.3 -3.4 4.4 -3.3 3.4 -3.2 2.1 -3.1 .7 -2.8 -.7 -2.5 -2.2 -2 -3.8 -1.5 -5.2 -1.1 -6.6 -.4 -7.7 0 -8.7 .6 -19.2 2.3 -10 1.6 -19.7 3.6 -26.6 5.7 -26.6 6.5 -9.5 2.7 -7.2 2.5 -2.9 1.2 -4.6 2.4 -1.7 1.1 -2.6 2.4 -.9 1.1 -1.1 2.4 -.4 2.4 .2 2.3 .8 2.3 2.1 3.4 2 2.1 2.5 2 3.1 1.8 3.8 1.5 6.9 2 9 1.2 11.3 .3 14.2 -.9 11.3 -1.4 12.9 -2.3 14.3 -3.2 15.7 -4.3 16.6 -5.5 16.5 -6.6 7.9 -3.7 7.5 -3.9 6.7 -4 5.8 -4 4.6 -4 3.1 -3.9 1.6 -3.5 -.3 -3.2 -2.2 -2.6 -4.1 -2 -5.9 -1.3 -7.7 -.6 -9.2 .1 -10.3 .7 -11.3 1.3 -11.8 1.6 -12 2.1 -23.5 4.5 -39.8 8.7 -21.3 5.2 -10.5 2.8 -8 2.5 -6 2.4 -4.3 2.3 -3.1 2.4 -2.3 2.4 -2 3.8 -1.1 3.9 -.5 3.8 0 5 .7 5.8 1 4.2 1.6 3.8 1.6 2.5 2.1 2.3 2.8 2 3.7 1.7 4.8 1.2 4.1 .7 4.9 .4 5.9 .1 7.1 -.3 8.5 -.6 16 -2.1 20.8 -3.8 16.8 -3.9 9.4 -2.5 20.5 -6.1 11.1 -3.7 11.5 -4.1 11.7 -4.7 11.8 -5.1 11.6 -5.5 11 -5.9 10 -6.2 8.7 -6.3 6.8 -6.3 4.4 -5.9 1.7 -5.4 -1.4 -4.7 -4.7 -3.6 -7.9 -2.4 -11 -1.1 -13.7 .2 -15.7 1.3 -17.3 2.3 -18 3.1 -18.2 3.6 -17.7 3.7 -72 16.1 -45 9.1 -8.3 1.8 -6.3 1.8 -7.2 2.9 -3.8 2.1 -10.5 6.8 -6 3.5 -7.2 3.3 -5.7 2 -10 2.6 -7.8 1.2 -8.7 .8 -9.7 .2 -10.5 -.5 -5.6 -.6 -11.5 -1.9 -5.8 -1.4 -5.9 -1.7 -5.7 -2.1 -5.5 -2.4 -5.3 -2.8 -4.8 -3.1 -4.3 -3.6 -3.6 -3.9 -2.9 -4.2 -2 -4.4 -1 -4.7 0 -4.8 1.1 -4.9 2.3 -4.7 3.3 -4.6 4.4 -4.3 5.3 -3.9 6.1 -3.4 6.8 -2.8 7.2 -2.3 7.6 -1.6 7.7 -1 7.8 -.3 7.6 .2 7.4 .8 7.1 1.2 6.6 1.7 6.2 2 5.7 2.3 5.3 2.5 4.7 2.7 4.2 2.7 3.7 2.9 3.3 2.9 2.9 2.9 4.5 5.7 1.7 2.8 2.4 5.3 .8 2.6 .8 4.8 -.1 4.5 -.9 4.2 -1.7 3.8 -2.4 3.6 -3.2 3.2 -3.9 2.9 -4.8 2.7 -5.6 2.3 -6.6 2 -7.6 1.6 -8.6 1.2 -4.7 .4 -10.3 .2 -5.5 -.1 -11.7 -1 -12.3 -2.1 -6.3 -1.5 -6.3 -1.9 -6.2 -2.2 -5.9 -2.6 -5.7 -3.1 -5.2 -3.5 -4.6 -3.9 -3.8 -4.3 -3 -4.6 -2 -5 -.9 -5.1 .3 -5.3 1.5 -5.3 2.8 -5.2 4 -5 5.1 -4.6 6.2 -4.2 6.9 -3.5 7.7 -3 8.1 -2.2 8.4 -1.5 8.5 -.8 8.5 -.1 8.2 .5 7.9 1 7.5 1.6 7 2 6.5 2.3 5.9 2.6 5.4 2.9 4.8 2.9 4.2 3 3.8 3.1 3.3 3.1 5.3 6.1 3.7 5.9 2.5 5.5 1.3 5.2 .5 4.8 -.4 4.4 -1.2 4 -1.8 3.8 -2.5 3.4 -1.5 1.7 -3.5 3 -4.3 2.8 -5.1 2.5 -6.1 2.3 -7 1.9 -8.1 1.5 -9.2 1.1 -5.1 .4 -11.1 .2 -5.9 -.2 -12.8 -1.2 -13.5 -2.3 -6.9 -1.7 -6.9 -2.1 -6.8 -2.5 -6.5 -3 -6.2 -3.4 -5.7 -4 -4.9 -4.4 -4.2 -4.8 -3.1 -5.3 -1.9 -5.6 -.6 -5.8 .8 -6 2.2 -6 3.6 -5.8 5 -5.5 6.3 -5 7.3 -4.4 8.2 -3.8 8.9 -2.9 9.3 -2.1 9.5 -1.4 9.5 -.4 9.4 .2 8.9 .9 8.6 1.6 7.9 2 7.4 2.5 6.8 2.8 6.1 3 5.5 3.2 4.8 3.3 4.4 3.3 3.7 3.4 6.1 6.6 4.5 6.3 3 5.9 1.9 5.5 1 5.1 .2 4.7 -.1 2.1 -.8 4.2 -1.4 3.8 -.9 1.7 -2.1 3.4 -2.8 3.2 -1.6 1.4 -3.8 2.8 -7 3.9 -5.7 2.2 -6.7 2 -7.9 1.7 -9 1.4 -10.5 .9 -11.8 .3 -6.5 -.2 -13.9 -1 -7.4 -1 -7.6 -1.3 -7.8 -1.7 -7.8 -2.2 -7.8 -2.6 -7.6 -3.2 -7.3 -3.7 -6.8 -4.3 -6 -4.9 -5 -5.5 -4 -6 -2.5 -6.4 -1 -6.8 .6 -7 2.4 -7 4.2 -6.9 5.8 -6.5 7.3 -5.9 8.7 -5.3 9.7 -4.4 10.5 -3.4 10.9 -2.4 11.1 -1.4 11.1 -.4 10.7 .4 10.3 1.3 9.6 1.9 9 2.5 8.2 3 7.5 3.3 6.7 3.5 5.9 3.6 5.3 3.8 4.7 3.7 4 3.7 6.5 7.3 4.8 6.7 3.4 6.3 2.4 5.8 2 7.6 .6 6.7 -.2 5.9 -.6 3.5 -1 3.3 -1.2 3.1 -1.6 2.9 -3 4 -4 3.7 -5.2 3.4 -6.7 3.1 -8.7 2.9 -11.3 2.5 -9.2 1.4 -10.7 1 -12.6 .6 -14.5 -.2 -7.9 -.4 -8.4 -.7 -8.9 -1.1 -9.2 -1.4 -9.5 -2 -9.7 -2.5 -9.7 -3.1 -9.7 -3.8 -9.2 -4.5 -8.6 -5.4 -7.7 -6.2 -6.5 -6.9 -4.8 -7.8 -3 -8.4 -.9 -8.9 1.6 -9.2 3.9 -9.3 6.4 -8.9 8.7 -8.3 10.6 -7.5 12.3 -6.3 13.5 -5.1 14.2 -3.6 14.5 -2.1 14.3 -.8 13.9 .4 13.2 1.6 12.3 2.5 11.2 3.2 10.3 3.8 9.1 4.1 8.2 4.4 7.2 4.5 6.3 4.6 5.5 4.5 4.8 4.4 4.2 4.2 6.7 8 2.7 3.7 4.4 6.8 4.8 8.9 6.6 13.7 3.2 5.3 3.5 4.4 4.3 3.7 3.4 2.1 4 1.8 4.7 1.4 5.5 1.2 6.4 .7 7.6 .2 13.7 -.5 M1069.6 862.0l-11 -.2 -7.7 -1 -3.9 -.7 -7.7 -2 -3.7 -1.3 -7.1 -3.3 -3.1 -2 -2.9 -2.1 -2.5 -2.4 -2.1 -2.5 -1.6 -2.6 -1 -2.8 -.5 -2.9 0 -2.9 .7 -2.8 1.3 -2.9 1.9 -2.7 2.5 -2.5 2.9 -2.4 3.5 -2.1 3.8 -1.8 4.2 -1.5 4.4 -1.2 4.7 -.8 4.7 -.5 4.7 -.1 4.7 .2 9 1.2 8.3 2.3 3.7 1.4 6.6 3.3 2.9 1.8 4.8 3.9 1.9 2 3 4 1.1 2 1.4 4 .4 3.7 -.5 3.5 -.6 1.7 -1.8 3.2 -2.6 2.8 -3.4 2.6 -4.2 2.2 -4.9 1.8 -5.7 1.4 -3.1 .5 -6.7 .7 -3.6 .1 -7.5 -.2 -3.8 -.4 -8 -1.3 -3.9 -.9 -7.8 -2.6 -3.6 -1.6 -3.5 -1.8 -3.2 -2.1 -2.8 -2.2 -2.5 -2.5 -2 -2.6 -1.5 -2.8 -1 -2.9 -.3 -3 .2 -3 .9 -2.9 1.5 -2.9 2.2 -2.8 2.7 -2.6 3.2 -2.4 3.7 -2 4.1 -1.8 4.4 -1.5 4.7 -1.1 4.8 -.7 4.9 -.4 4.9 0 4.8 .2 4.7 .7 4.6 .8 8.3 2.5 3.7 1.6 6.6 3.5 2.9 1.9 4.7 4 3.5 4.1 2.3 4.1 .8 2 .8 3.9 -.2 3.7 -1.1 3.5 -1.9 3.2 -2.8 2.8 -3.5 2.6 -2.1 1.1 -4.7 2.1 -5.4 1.6 -6.2 1.2 -3.4 .4 -7.2 .3 -3.8 0 -7.9 -.6 -4.1 -.6 -8.1 -1.8 -4.1 -1.2 -7.7 -3.1 -3.6 -1.9 -3.2 -2.1 -3 -2.4 -2.5 -2.5 -2.1 -2.7 -1.5 -2.9 -.9 -3 -.4 -3.1 .3 -3.1 1 -3.1 1.7 -3 2.2 -2.9 2.9 -2.7 3.4 -2.4 3.9 -2.1 4.3 -1.8 4.7 -1.5 4.8 -1.1 5.1 -.7 5 -.4 5.1 0 5 .4 4.8 .7 4.7 .9 4.4 1.2 4.1 1.5 7.3 3.4 3.2 1.8 5.4 4.1 2.2 2.1 3.5 4.2 1.4 2.1 1.7 4.2 .8 4 -.2 3.7 -1.1 3.5 -2 3.3 -2.8 2.9 -3.6 2.6 -4.3 2.3 -5.2 1.8 -5.9 1.5 -3.3 .6 -7 .7 -7.6 .1 -8.1 -.6 -4.2 -.5 -8.5 -1.8 -4.2 -1.2 -8 -3.1 -3.7 -1.9 -3.5 -2.2 -3.1 -2.4 -2.7 -2.6 -2.2 -2.8 -1.7 -3 -1.1 -3.1 -.4 -3.2 .2 -3.2 .9 -3.2 1.7 -3.2 2.2 -3 3 -2.8 3.5 -2.6 4 -2.2 4.4 -2 4.8 -1.5 5.1 -1.2 5.2 -.8 5.3 -.4 5.2 0 5.2 .4 5 .6 4.9 1 4.5 1.3 4.3 1.4 7.6 3.5 3.3 2 5.7 4.1 2.3 2.2 3.6 4.4 1.4 2.1 1.9 4.3 .8 4.1 -.1 3.9 -1 3.6 -2 3.3 -2.7 3 -3.5 2.7 -4.4 2.4 -5.1 1.9 -5.9 1.6 -3.2 .6 -7.1 .8 -7.7 .3 -8.3 -.4 -4.3 -.5 -8.8 -1.6 -4.3 -1.1 -8.5 -3.1 -4 -1.8 -3.7 -2.2 -3.4 -2.4 -3 -2.6 -2.6 -2.8 -2 -3.1 -1.3 -3.2 -.8 -3.3 0 -3.3 .7 -3.4 1.4 -3.3 2.1 -3.2 2.8 -3 3.5 -2.8 4 -2.5 4.5 -2.1 4.9 -1.8 5.2 -1.4 5.4 -.9 5.5 -.6 5.5 -.1 5.4 .2 5.3 .6 5.1 .9 4.8 1.3 4.5 1.4 8.1 3.5 3.6 2 6 4.3 2.5 2.2 3.9 4.5 2.8 4.5 1.6 4.3 .5 4.1 -.4 3.9 -1.3 3.6 -2.1 3.3 -3 3 -3.8 2.7 -4.5 2.3 -5.4 1.9 -6.2 1.6 -3.4 .5 -7.4 .8 -8.1 .2 -8.6 -.5 -4.5 -.6 -9.1 -1.8 -4.5 -1.2 -8.7 -3.3 -4.1 -2 -3.8 -2.3 -3.5 -2.6 -3 -2.8 -2.5 -3 -1.9 -3.2 -1.2 -3.4 -.6 -3.5 .2 -3.5 1 -3.5 1.7 -3.5 2.5 -3.3 3.1 -3.1 3.9 -2.8 4.4 -2.5 4.8 -2.1 5.3 -1.7 5.5 -1.3 5.7 -.8 5.7 -.4 5.8 0 5.6 .4 5.4 .8 5.2 1.1 4.9 1.3 4.6 1.7 4.3 1.8 3.9 2 3.5 2.1 5.9 4.5 2.4 2.3 3.9 4.6 2.6 4.6 1.5 4.4 .4 4.2 -.5 4 -1.4 3.6 -2.3 3.3 -3.1 3 -3.8 2.7 -4.7 2.4 -5.6 2 -6.3 1.5 -3.5 .6 -7.6 .8 -8.3 .2 -8.9 -.5 -4.7 -.5 -9.4 -1.8 -4.7 -1.3 -4.7 -1.5 -4.5 -1.8 -4.3 -2.1 -4 -2.4 -3.7 -2.6 -3.2 -2.9 -2.6 -3.2 -2.1 -3.4 -1.3 -3.5 -.7 -3.6 .2 -3.8 1 -3.7 1.8 -3.6 2.5 -3.5 3.4 -3.2 4 -3 4.6 -2.6 5.2 -2.3 5.5 -1.8 5.8 -1.3 6 -.9 6 -.4 6 0 5.9 .5 5.7 .8 5.4 1.2 5.1 1.4 4.8 1.7 4.4 2 4 2.1 3.6 2.2 6.2 4.6 2.5 2.4 3.9 4.9 2.7 4.7 1.6 4.5 .4 4.3 -.4 4.1 -1.4 3.7 -2.2 3.4 -3 3.1 -3.8 2.8 -4.7 2.5 -5.5 2.1 -6.3 1.7 -7.2 1.2 -8 .6 -8.8 .1 -9.4 -.7 -4.9 -.7 -9.9 -2.1 -4.9 -1.5 -4.9 -1.7 -4.6 -2 -4.4 -2.3 -4 -2.7 -3.7 -2.9 -3.1 -3.2 -2.5 -3.4 -1.8 -3.6 -1 -3.8 -.3 -3.9 .6 -4 1.5 -3.8 2.4 -3.8 3.2 -3.6 3.9 -3.3 4.6 -2.9 5.3 -2.6 5.6 -2.1 6.1 -1.6 6.2 -1.1 6.4 -.6 6.3 -.2 6.3 .3 6.1 .8 5.8 1.1 5.5 1.4 5.1 1.7 4.7 2 4.4 2.1 3.9 2.3 6.7 4.8 5.1 5 3.7 5 2.5 4.8 1.3 4.6 .2 4.4 -.6 4 -1.6 3.8 -2.3 3.4 -3.2 3.1 -4 2.9 -4.8 2.4 -5.7 2.1 -6.5 1.7 -7.4 1.3 -8.3 .7 -9.2 0 -9.8 -.7 -5.1 -.7 -10.4 -2.2 -5.1 -1.4 -5.1 -1.8 -4.9 -2.1 -4.7 -2.4 -4.3 -2.8 -3.9 -3 -3.3 -3.4 -2.7 -3.6 -2 -3.8 -1.1 -4.1 -.3 -4.1 .7 -4.2 1.6 -4.1 2.5 -4.1 3.4 -3.8 4.2 -3.5 5 -3.1 5.5 -2.7 6.1 -2.2 6.4 -1.7 6.7 -1.1 6.8 -.7 6.7 -.1 6.6 .4 6.4 .8 6.1 1.3 5.7 1.5 5.4 1.9 4.9 2 4.6 2.3 4 2.4 3.7 2.5 3.2 2.6 5.3 5.3 3.8 5.1 2.5 5.1 1.3 4.7 .4 4.5 -.6 4.1 -1.5 3.9 -1 1.8 -2.7 3.4 -3.4 3 -4.3 2.8 -5.1 2.4 -6 2.1 -6.9 1.6 -7.9 1.2 -8.7 .6 -9.7 0 -10.4 -.9 -5.4 -.8 -10.9 -2.3 -5.5 -1.7 -5.4 -1.9 -5.1 -2.3 -4.9 -2.7 -4.5 -2.9 -4 -3.4 -3.4 -3.6 -2.7 -3.9 -1.8 -4.2 -1 -4.4 0 -4.4 1 -4.5 2 -4.4 3.1 -4.3 3.9 -4 4.9 -3.6 5.6 -3.2 6.2 -2.7 6.6 -2.2 7.1 -1.5 7.1 -1 7.3 -.5 7.1 .2 7 .6 6.6 1.1 6.4 1.4 5.9 1.8 5.5 2.1 5 2.3 4.5 2.5 4.1 2.6 3.6 2.7 6 5.5 4.4 5.5 3.1 5.3 1.8 5 .7 4.7 -.2 4.4 -1 4 -1.9 3.8 -2.6 3.4 -1.6 1.6 -3.9 3 -4.6 2.7 -5.5 2.3 -6.4 2 -7.3 1.6 -8.4 1.1 -9.3 .5 -10.3 -.2 -11.1 -1 -11.6 -2.1 -5.9 -1.5 -5.8 -1.9 -5.7 -2.1 -5.5 -2.6 -5.1 -2.9 -4.7 -3.4 -4.1 -3.6 -3.4 -4.1 -2.6 -4.3 -1.6 -4.6 -.7 -4.7 .4 -4.9 1.6 -4.8 2.6 -4.8 3.8 -4.5 4.7 -4.2 5.7 -3.7 6.4 -3.3 7 -2.6 7.4 -2 7.8 -1.4 7.8 -.8 7.7 -.1 7.6 .4 7.4 1 6.9 1.4 6.5 1.8 6.1 2.2 5.5 2.3 5.1 2.6 4.5 2.8 4.1 2.8 3.6 2.9 3.1 2.9 5 5.8 3.5 5.6 2.3 5.3 1.2 4.9 .1 4.7 -.2 2.1 -1 4.2 -1.8 3.7 -2.6 3.5 -1.5 1.7 -3.7 3 -2.2 1.4 -4.8 2.6 -5.8 2.3 -6.7 2 -7.7 1.5 -4.3 .7 -9.3 .8 -10.5 .2 -11.4 -.7 -12.2 -1.6 -6.3 -1.3 -6.3 -1.6 -6.3 -2 -6.2 -2.3 -5.9 -2.8 -5.6 -3.1 -5.1 -3.6 -4.5 -4.1 -3.7 -4.4 -2.7 -4.7 -1.8 -5.1 -.6 -5.2 .6 -5.4 1.9 -5.3 3.1 -5.2 4.3 -4.9 5.5 -4.6 6.4 -4 7.2 -3.5 7.8 -2.7 8.3 -2.1 8.5 -1.3 8.6 -.7 8.5 .1 8.2 .6 7.9 1.3 7.4 1.7 6.9 2.1 6.3 2.4 5.8 2.7 5.3 2.9 4.7 3 4.1 3 3.7 3.1 5.9 6.2 4.3 6 3 5.7 1.7 5.3 .5 2.5 .3 4.8 -.4 4.3 -.5 2.1 -1.6 3.9 -1 1.8 -2.5 3.4 -3.3 3.2 -1.8 1.5 -4.4 2.7 -2.4 1.3 -5.7 2.4 -6.5 2.1 -3.7 .9 -8.1 1.5 -9.4 1.1 -5.1 .3 -11.2 .2 -12.3 -.7 -13.3 -1.7 -6.8 -1.4 -7 -1.7 -7 -2.1 -6.8 -2.6 -6.6 -3 -6.2 -3.5 -5.7 -4 -5 -4.5 -4 -4.9 -3.1 -5.3 -1.9 -5.7 -.5 -5.9 .9 -6.1 2.3 -6 3.8 -5.8 5.1 -5.5 6.4 -5.1 7.5 -4.4 8.4 -3.7 9 -2.9 9.4 -2.1 9.7 -1.3 9.5 -.4 9.4 .3 9 1 8.6 1.6 8 2.1 7.4 2.5 6.7 2.9 6.1 3 5.5 3.3 4.8 3.3 4.3 3.4 3.8 3.4 3.2 3.3 5.2 6.5 3.7 6.1 1.3 3 1.9 5.4 .6 2.6 .6 4.9 0 2.3 -.4 4.2 -.5 2.1 -1.3 3.7 -.8 1.8 -2.2 3.4 -4.3 4.6 -5.7 4.2 -7.5 3.6 -9.5 3.2 -12 2.5 -9.5 1.2 -5.3 .4 -11.7 .4 -13.2 -.4 -14.4 -1.4 -7.7 -1.3 -7.8 -1.6 -7.9 -2 -7.9 -2.5 -7.8 -3 -7.5 -3.6 -7.1 -4.2 -6.3 -4.7 -5.5 -5.4 -4.3 -5.9 -3 -6.4 -1.5 -6.8 .1 -7 1.9 -7.1 3.7 -7.1 5.4 -6.7 7 -6.2 8.4 -5.6 9.6 -4.7 10.4 -3.7 11 -2.8 11.3 -1.7 11.2 -.7 11 .2 10.6 1.1 9.9 1.8 9.3 2.4 8.5 2.9 7.7 3.2 7 3.5 6.2 3.7 5.5 3.8 4.9 3.8 4.2 3.7 3.7 3.7 3.2 3.7 2.7 3.5 4.3 6.6 1.7 3.1 2.5 5.9 1.6 5.3 1 4.8 .5 4.4 0 4.1 -.2 3.7 -1 5.1 -1.6 4.5 -1.5 2.8 -2.8 3.9 -2.3 2.5 -2.8 2.3 -3.3 2.2 -4 2.1 -4.7 2 -5.6 1.9 -6.7 1.7 -12.4 2.3 -15.8 1.7 -12.8 .5 -7.1 0 -15.8 -.6 -8.6 -.8 -9 -1.1 -9.5 -1.5 -9.7 -2 -10 -2.6 -10 -3.2 -9.9 -3.9 -9.4 -4.8 -8.8 -5.5 -7.9 -6.4 -6.5 -7.3 -4.8 -8 -2.9 -8.8 -.6 -9.2 1.9 -9.5 4.4 -9.5 6.9 -9.2 9.2 -8.5 11.3 -7.6 12.9 -6.3 14 -5 14.7 -3.5 15 -2 14.7 -.6 14.2 .7 13.4 1.8 12.4 2.7 11.4 3.5 10.3 3.9 9.1 4.4 8.2 4.5 7.1 4.6 6.3 4.7 5.5 4.6 4.7 4.4 4.2 4.3 6.6 8 5.1 7.2 3.8 6.5 10.3 19.1 3.6 5.1 2.6 2.9 4.7 3.8 5.9 2.9 7.4 2.2 6 1 10.9 .7 8.7 -.2 15.7 -1.5 12.3 -2 13.7 -2.9 15 -3.9 15.9 -5 8 -2.9 8 -3.2 7.8 -3.5 7.4 -3.6 6.8 -3.8 5.9 -3.9 4.9 -3.8 3.7 -3.8 2.2 -3.5 .5 -3.2 -1.3 -2.7 -3 -2.2 -4.9 -1.6 -6.6 -.9 -8.1 -.3 -9.3 .4 -10.4 .9 -11.1 1.4 -11.4 1.8 -11.5 2 -22.2 4.4 -37.1 8.2 -24.9 6.3 -8.4 2.6 -6.3 2.4 -4.6 2.3 -3.3 2.4 -2.3 2.4 -1.5 2.5 -.9 2.5 -.5 3.7 .2 3.8 1.1 4.8 1.5 3.4 2 3.1 2.8 2.8 2.2 1.7 4.3 2.2 3.5 1.2 4.3 1 5 .7 9.4 .6 12.2 -.4 15.7 -1.7 12.8 -2 14.8 -3 17 -4.2 18.9 -5.5 10 -3.3 10.3 -3.8 10.4 -4.1 10.4 -4.5 10 -4.9 9.5 -5.1 8.5 -5.4 7.2 -5.4 5.6 -5.3 3.6 -5 1.2 -4.6 -1.4 -3.9 -4.1 -3 -6.8 -2.1 -9.3 -1.1 -11.5 0 -13.3 .9 -14.6 1.7 -15.5 2.4 -15.7 2.9 -30.4 6.2 -82.1 18.2 -15 3.7 -6.9 2.1 -5.3 2.1 -5.9 3.4 -4.4 3.6 -9.5 9 -3.2 2.6 -3.7 2.6 -4.2 2.4 -4.9 2.3 -8.8 3.1 -11.1 2.7 -13.7 1.8 -10.7 .6 -5.8 .1 -12.7 -.5 -13.9 -1.6 -7.2 -1.2 -7.4 -1.6 -7.5 -2 -7.4 -2.5 -7.2 -3 -6.9 -3.5 -6.5 -4 -5.8 -4.5 -4.9 -5.1 -3.8 -5.6 -2.6 -6 -1.2 -6.3 .3 -6.6 1.9 -6.6 3.5 -6.4 5.1 -6.2 6.6 -5.7 7.8 -5.1 8.8 -4.3 9.7 -3.4 10.1 -2.6 10.4 -1.6 10.5 -.7 10.2 .2 9.8 .9 9.4 1.7 8.7 2.1 8 2.7 7.4 3 6.6 3.2 6 3.5 5.2 3.5 4.7 3.6 4.1 3.6 3.5 3.5 5.7 6.9 4.1 6.4 2.8 6 1 2.8 1.4 5.2 .6 4.8 -.1 6.4 -1.2 5.7 -2.2 5.1 -3.1 4.6 -4.3 4.2 -5.6 3.7 -4.7 2.4 -8.6 3.1 -7 1.9 -8.2 1.6 -9.6 1.3 -11.2 .8 -12.7 .3 -14.5 -.6 -7.8 -.7 -8.1 -1.1 -8.5 -1.4 -8.7 -1.8 -8.8 -2.4 -8.9 -2.9 -8.6 -3.5 -8.3 -4.2 -7.7 -4.9 -6.8 -5.6 -5.8 -6.2 -4.3 -6.9 -2.8 -7.5 -.8 -7.9 1.1 -8.1 3.2 -8.2 5.3 -7.9 7.3 -7.4 9.1 -6.8 10.5 -5.8 11.7 -4.7 12.4 -3.5 12.8 -2.3 12.8 -1.1 12.5 0 12.1 1 11.3 1.9 10.6 2.7 9.6 3.1 8.7 3.6 7.9 3.9 7 4.1 6.1 4.1 5.4 4.2 4.8 4.1 4.1 4 3.5 3.9 3.1 3.8 4.9 7.1 3.6 6.4 3.7 8.5 2.4 7.2 3.9 14.8 1.4 4.3 2.2 5 2.1 3.2 1.7 2 2.1 1.7 2.4 1.6 2.9 1.4 5.4 1.7 7.1 1.2 5.9 .4 7 0 13.1 -.8 16.8 -2.1 13.8 -2.5 15.9 -3.5 18.1 -4.8 20 -6.2 10.5 -3.8 10.7 -4.2 10.7 -4.5 10.5 -5 10 -5.3 9.1 -5.5 7.8 -5.6 6.2 -5.5 4.3 -5.3 1.8 -4.9 -.8 -4.2 -3.6 -3.4 -6.5 -2.4 -9.2 -1.3 -11.5 -.2 -13.6 .8 -15 1.7 -15.9 2.4 -16.2 3 -31.7 6.5 -91.6 20.2 -9.6 2.3 -7.2 2 -5.5 2.1 -6.1 3.2 -4.8 3.6 -10.3 8.9 -3.6 2.5 -4 2.5 -7.3 3.5 -9.1 3 -11.2 2.5 -8.8 1.3 -10.1 .7 -5.5 .1 -11.9 -.2 -12.9 -1.3 -6.9 -1 -6.9 -1.4 -7.1 -1.8 -7 -2.1 -6.9 -2.6 -6.6 -3.1 -6.3 -3.5 -5.7 -4.1 -5 -4.5 -4.1 -5.1 -3.1 -5.4 -1.8 -5.7 -.5 -6 1 -6.2 2.4 -6 3.9 -6 5.3 -5.5 6.6 -5.1 7.6 -4.4 8.6 -3.7 9.1 -3 9.6 -2 9.7 -1.2 9.7 -.4 9.5 .4 9.1 1.1 8.6 1.6 8 2.2 7.4 2.6 6.8 2.9 6.1 3.1 5.5 3.3 4.8 3.3 4.3 3.4 3.8 3.4 3.2 3.4 5.2 6.5 3.6 6.2 2.4 5.7 1.5 5.3 .6 4.9 -.1 4.4 -.7 4.1 -.6 2 -1.5 3.6 -3.3 5 -2.9 3 -5.5 4.2 -4.6 2.5 -5.4 2.3 -6.4 2.1 -7.5 1.8 -8.6 1.5 -10 1.1 -11.5 .5 -12.9 -.2 -7 -.4 -15 -1.8 -7.8 -1.4 -8 -1.9 -8.1 -2.2 -8 -2.8 -7.8 -3.4 -7.4 -3.9 -6.8 -4.6 -6 -5.1 -5 -5.8 -3.8 -6.3 -2.3 -6.7 -.6 -7.1 1.1 -7.2 2.9 -7.3 4.7 -7 6.4 -6.6 8 -6 9.3 -5.2 10.3 -4.3 11 -3.2 11.4 -2.2 11.5 -1.2 11.3 -.2 10.9 .8 10.4 1.5 9.8 2.2 8.9 2.8 8.2 3.1 7.4 3.5 6.6 3.7 5.9 3.7 5.2 3.9 4.6 3.8 3.9 3.8 6.4 7.3 4.6 6.8 1.9 3.2 2.7 6 2.6 8 1.2 6.9 .3 4.1 -.1 3.8 -.9 6.7 -1.9 5.9 -1.3 2.6 -1.5 2.5 -3.1 3.6 -2.5 2.2 -3 2.1 -5.6 3 -7.3 2.9 -9.5 2.5 -12.3 2.2 -10.2 1.2 -11.9 .8 -13.9 .3 -15.9 -.6 -8.8 -.7 -9.3 -1 -9.7 -1.5 -10 -2 -10.3 -2.5 -10.4 -3.2 -10.3 -3.9 -10 -4.8 -9.3 -5.6 -8.4 -6.5 -7 -7.5 -5.4 -8.3 -3.2 -9 -1 -9.7 1.7 -9.9 4.4 -10 7 -9.7 9.6 -9 11.7 -8 13.4 -6.8 14.7 -5.3 15.4 -3.7 15.7 -2.2 15.4 -.6 14.8 .7 14 1.9 12.9 2.9 11.8 3.6 10.7 4.2 9.5 4.5 8.3 4.7 7.4 4.8 6.5 4.8 5.6 4.7 4.8 4.6 7.9 8.5 6 7.8 4.5 6.9 11.9 20.2 4.1 5.3 3 2.9 5.3 3.8 4.2 2 7.6 2.3 6.1 1 11 .7 8.8 -.2 10.1 -.9 11.4 -1.6 12.7 -2.4 13.9 -3.4 14.7 -4.4 7.5 -2.6 14.7 -5.8 7 -3.3 6.5 -3.4 5.8 -3.5 5 -3.5 3.9 -3.4 2.7 -3.3 1.3 -3.1 -.2 -2.7 -1.9 -2.3 -3.5 -1.8 -5 -1.2 -6.5 -.6 -7.9 -.1 -8.8 .5 -9.7 .9 -10.2 1.3 -10.5 1.7 -20.8 3.8 -28.1 5.9 -28.2 6.8 -10 2.8 -7.7 2.6 -3.1 1.2 -4.9 2.4 -3.4 2.3 -2.3 2.3 -1.4 2.4 -.7 2.5 -.1 2.4 .4 2.4 1.5 3.5 1.4 2.2 3.1 3.2 2.6 1.9 3.1 1.7 3.8 1.5 4.5 1.2 5.3 1 9.7 .8 12.5 -.1 15.6 -1.5 12.5 -2 14.1 -2.8 15.8 -4 17.1 -5.2 8.8 -3.1 9 -3.3 8.8 -3.7 8.5 -4 8.1 -4.2 7.4 -4.3 6.3 -4.4 5.1 -4.4 3.5 -4.2 1.7 -3.9 -.2 -3.4 -2.3 -2.8 -4.5 -2.2 -6.5 -1.4 -8.4 -.6 -10.1 .2 -11.3 .9 -12.3 1.4 -12.8 2 -25.8 4.7 -35.2 7.5 -35 8 -17.3 4.4 -8.2 2.5 -6.1 2.3 -2.4 1.1 -3.9 2.4 -1.5 1.2 -2.5 2.4 -2.6 3.8 -1.9 4 -4.7 11.6 -2 3.7 -2.5 3.4 -3.2 3.4 -4.1 3.1 -5.4 3 -4.4 1.9 -8.2 2.6 -6.9 1.7 -12.8 2.1 -10.4 1.1 -12.4 .7 -14.3 .2 -16.5 -.8 -9 -.9 -9.4 -1.2 -9.9 -1.6 -10.3 -2.2 -10.4 -2.8 -10.4 -3.5 -10.3 -4.3 -9.8 -5.1 -9 -6 -7.9 -6.9 -6.5 -7.9 -4.6 -8.6 -2.4 -9.4 .1 -9.8 2.8 -10.1 5.5 -10 8.1 -9.5 10.6 -8.7 12.5 -7.6 14.2 -6.2 15.1 -4.7 15.7 -3.1 15.7 -1.5 15.3 -.1 14.6 1.3 13.6 2.3 12.5 3.2 11.4 3.9 10.2 4.4 9.1 4.6 8 4.8 7 4.8 6.1 4.8 5.3 4.7 4.6 4.5 7.4 8.4 5.7 7.6 4.3 6.7 10.5 17.8 4 5.4 3 3.1 5.2 3.8 4.1 2.1 4.8 1.7 2.7 .7 5.9 1.2 10.8 .8 8.6 -.2 15.2 -1.4 11.8 -1.8 13.1 -2.7 14.1 -3.7 14.7 -4.7 7.4 -2.8 14.3 -6.1 6.6 -3.3 5.9 -3.4 5.2 -3.5 4.2 -3.4 3 -3.3 1.7 -3.1 .2 -2.8 -1.4 -2.4 -3 -1.9 -4.5 -1.4 -6.1 -.8 -7.3 -.2 -8.5 .3 -9.4 .8 -20.2 2.7 -10.4 1.8 -20.2 3.9 -26.6 5.8 -26 6.4 -9.1 2.7 -6.9 2.5 -2.8 1.2 -4.3 2.3 -3 2.4 -1.9 2.3 -1.1 2.4 -.4 2.4 .2 2.4 .6 2.4 1.9 3.4 1.7 2.2 2.2 2 2.8 1.9 3.3 1.7 3.9 1.5 4.6 1.2 5.5 .9 10.2 .7 8.2 0 15 -1.3 12 -1.7 13.5 -2.5 15.2 -3.6 16.6 -4.8 8.6 -2.9 17.5 -6.6 8.6 -3.8 8.1 -4 7.6 -4.2 6.7 -4.3 5.6 -4.3 4.3 -4.2 2.6 -3.9 .7 -3.6 -1.2 -3.1 -3.3 -2.4 -5.4 -1.8 -7.3 -1 -9 -.2 -10.5 .4 -11.5 1.2 -12.3 1.6 -25.4 4.4 -35.5 7.3 -36.4 8.3 -18.3 4.6 -8.7 2.5 -9.2 3.6 -2.2 1.1 -3.6 2.4 -3.6 3.7 -2.3 3.8 -1.6 3.9 -4.3 13.9 -2.2 4.6 -2.1 3.2 -2.7 3.1 -3.6 2.9 -4.6 2.8 -6.1 2.6 -8 2.5 -10.4 2.3 -13.6 1.9 -11.3 1 -13.2 .5 -15.5 -.1 -17.7 -1.1 -9.7 -1.1 -10.2 -1.5 -10.6 -2 -11 -2.6 -11 -3.4 -11 -4.1 -10.7 -5 -10 -5.9 -9 -7 -7.6 -7.9 -5.7 -8.9 -3.4 -9.8 -.9 -10.4 2 -10.8 5 -10.8 7.9 -10.4 10.6 -9.7 13 -8.5 14.8 -7.1 16.1 -5.5 16.7 -3.7 16.8 -1.9 16.5 -.4 15.7 1.1 14.7 2.4 13.5 3.3 12.2 4.1 11 4.5 9.7 4.9 8.5 5.1 7.5 5.1 6.5 5 5.6 4.9 4.9 4.7 7.9 8.7 6.1 7.8 4.6 6.8 8.7 13.6 3.1 4.2 3.1 3.6 3.4 3.2 3.8 2.6 2.1 1.2 4.6 2 5.3 1.6 6.1 1.1 10.9 .8 8.5 -.2 9.7 -.8 10.9 -1.6 11.8 -2.3 12.8 -3.2 13.2 -4 6.6 -2.4 12.8 -5.2 5.8 -2.9 5.4 -2.9 4.7 -3 3.9 -3 2.9 -2.9 1.8 -2.8 .5 -2.4 -.7 -2.2 -2.1 -1.8 -3.5 -1.4 -4.7 -.9 -5.9 -.5 -7 0 -7.7 .5 -17.3 1.9 -9 1.4 -18 3.2 -24.5 5.2 -25 6.1 -12.7 4 -8.3 3.5 -2 1.2 -2.9 2.2 -1.1 1.2 -1.3 2.2 -.4 2.3 .3 2.2 1 2.2 1.6 2.1 2.3 2 2.8 1.8 3.6 1.7 4.2 1.4 8 1.7 10 .8 8.1 -.1 14.4 -1.1 11.3 -1.6 12.6 -2.4 13.7 -3.3 14.5 -4.3 7.5 -2.6 14.6 -5.8 6.9 -3.2 6.4 -3.3 5.9 -3.5 4.9 -3.4 4 -3.5 2.7 -3.2 1.4 -3.1 -.2 -2.7 -1.7 -2.3 -3.4 -1.7 -4.8 -1.3 -6.4 -.7 -7.6 -.1 -8.7 .4 -9.5 .9 -20.4 2.9 -30.4 5.7 -26.2 5.8 -25.4 6.3 -8.8 2.7 -6.7 2.5 -2.7 1.1 -4.1 2.4 -2.9 2.3 -1.8 2.4 -1 2.4 -.4 2.4 .2 2.4 .7 2.4 1.9 3.4 1.9 2.1 2.2 2 2.8 1.9 3.4 1.7 4 1.4 7.4 1.7 9.5 .9 7.8 .1 14.1 -.8 11.4 -1.4 12.9 -2.2 14.6 -3.2 16.1 -4.3 17.1 -5.6 17.5 -6.8 8.5 -3.8 8 -4 7.4 -4.3 6.5 -4.3 5.3 -4.2 3.9 -4.2 2.2 -3.9 .3 -3.5 -1.7 -2.9 -3.8 -2.3 -5.8 -1.6 -7.7 -.8 -9.4 -.1 -10.7 .7 -11.8 1.2 -12.4 1.8 -25.3 4.4 -35.1 7.4 -35.6 8.1 -17.8 4.5 -8.5 2.5 -8.8 3.5 -2.2 1.2 -3.4 2.4 -3.5 3.6 -2.2 3.9 -1.6 3.9 -4.3 13.9 -2.2 4.6 -2.1 3.2 -2.8 3 -3.6 2.9 -4.7 2.8 -6.2 2.6 -8.1 2.5 -10.6 2.2 -13.8 1.9 -11.4 1 -13.4 .5 -15.7 -.2 -17.9 -1.3 -9.8 -1.1 -10.3 -1.6 -10.7 -2.1 -11 -2.7 -11 -3.5 -11 -4.2 -10.6 -5.2 -9.9 -6.1 -8.7 -7.1 -7.3 -8.1 -5.4 -9.1 -3 -9.9 -.4 -10.5 2.5 -10.8 5.5 -10.8 8.4 -10.3 11 -9.5 13.4 -8.4 15 -6.8 16.3 -5.2 16.8 -3.4 16.8 -1.6 16.4 -.1 15.5 1.3 14.5 2.6 13.3 3.4 12 4.2 10.8 4.6 9.5 4.9 8.3 5.1 7.3 5.1 6.4 5 5.5 4.9 4.8 4.6 4.1 4.5 6.7 8.2 5.2 7.2 12.3 18.8 3.1 3.9 3.2 3.3 3.7 2.9 1.9 1.2 4.4 2.2 5 1.7 5.8 1.4 10.3 1 8.1 .1 9.2 -.6 10.4 -1.2 11.5 -2 12.4 -2.8 13.1 -3.7 6.6 -2.2 13 -4.9 6.2 -2.8 5.8 -2.9 5.2 -2.9 4.6 -3 3.7 -3 2.6 -2.9 1.6 -2.7 .3 -2.4 -1 -2.1 -2.4 -1.7 -3.7 -1.3 -5 -.8 -6.1 -.4 -7.1 .1 -7.9 .5 -17.4 2.1 -9 1.4 -17.9 3.2 -24.2 5.2 -24.5 6.1 -12.4 3.9 -8 3.5 -1.9 1.2 -2.9 2.2 -1 1.2 -1.2 2.2 -.3 2.3 .4 2.2 1 2.2 1.7 2.1 2.3 2 3 1.8 3.6 1.6 4.4 1.4 8 1.6 10.3 .7 8.2 -.1 14.7 -1.2 11.4 -1.7 12.7 -2.5 13.8 -3.4 14.6 -4.5 7.4 -2.6 14.5 -5.9 6.8 -3.2 6.3 -3.4 5.7 -3.4 4.7 -3.5 3.6 -3.4 2.4 -3.2 1 -2.9 -.5 -2.6 -2.1 -2.2 -3.7 -1.7 -5.3 -1.1 -6.6 -.5 -7.9 0 -8.9 .5 -9.6 1 -10.2 1.4 -10.3 1.6 -20.5 3.8 -27.4 5.9 -27.5 6.6 -9.7 2.8 -7.5 2.5 -3 1.2 -4.7 2.4 -3.3 2.3 -2.2 2.4 -1.3 2.4 -.6 2.4 .1 2.4 .5 2.3 1.7 3.5 1.7 2.2 2.1 2.1 2.6 1.9 3.2 1.7 3.7 1.5 4.5 1.3 5.4 1 9.8 .9 12.4 -.2 15.7 -1.5 12.4 -1.9 14 -2.9 15.6 -3.9 16.9 -5.2 8.7 -3 8.7 -3.4 8.6 -3.6 8.3 -3.9 7.8 -4.1 7.1 -4.2 6.1 -4.3 4.8 -4.3 3.2 -4 1.6 -3.8 -.4 -3.2 -2.5 -2.8 -4.5 -2 -6.5 -1.3 -8.3 -.5 -9.9 .1 -11.1 .9 -12 1.4 -12.5 1.9 -25.2 4.6 -34.3 7.3 -34.2 7.9 -17 4.4 -8 2.4 -3.2 1.2 -5.2 2.4 -2 1.1 -3.2 2.4 -3.3 3.7 -2.1 3.8 -1.4 4 -4.1 13.8 -2 4.5 -2 3.2 -3.7 4 -3.7 2.8 -4.8 2.7 -6.4 2.5 -8.3 2.4 -10.9 2.2 -14.3 1.9 -11.7 .8 -13.9 .4 -16.1 -.3 -18.5 -1.4 -10 -1.3 -10.5 -1.8 -10.9 -2.3 -11.2 -3 -11.2 -3.7 -11 -4.6 -10.5 -5.5 -9.7 -6.5 -8.4 -7.6 -6.8 -8.5 -4.7 -9.5 -2.2 -10.2 .6 -10.8 3.6 -11 6.6 -10.8 9.5 -10.3 12.1 -9.2 14.2 -8 15.8 -6.3 16.7 -4.6 17.1 -2.8 16.9 -1.1 16.3 .5 15.4 1.9 14.2 2.9 13 3.8 11.6 4.4 10.4 4.9 9.1 5 8 5.1 7 5.1 6.1 5 5.2 4.9 4.6 4.6 7.4 8.5 5.6 7.6 13 19.6 3.1 4 3.3 3.4 3.6 3 2 1.3 4.3 2.3 4.9 1.8 5.7 1.4 6.5 .9 3.6 .2 8 .2 9 -.5 10.2 -1.1 11.2 -1.9 12.1 -2.7 12.8 -3.6 6.5 -2.1 12.8 -4.7 6.1 -2.7 5.7 -2.8 5.2 -2.9 4.5 -2.9 3.7 -2.9 2.8 -2.8 1.7 -2.6 .5 -2.4 -.8 -2.1 -2.1 -1.8 -3.4 -1.3 -4.6 -.9 -5.8 -.4 -6.7 0 -7.6 .4 -16.8 1.9 -8.8 1.3 -17.5 3.1 -23.9 5 -19.2 4.7 -10 2.7 -7.8 2.6 -8.2 3.5 -1.9 1.2 -2.9 2.2 -1 1.1 -1.3 2.3 -.2 1.1 0 2.2 .8 2.2 1.4 2.1 3.4 2.9 3.1 1.8 3.8 1.6 7.1 1.9 9.1 1.1 7.3 .3 13.2 -.6 10.3 -1.1 11.6 -1.9 12.8 -2.7 13.8 -3.6 7.1 -2.2 14.4 -5.1 7 -2.9 6.7 -3 6.3 -3.2 5.7 -3.3 4.9 -3.4 4 -3.3 2.8 -3.2 1.5 -2.9 .1 -2.7 -1.4 -2.2 -3 -1.8 -4.4 -1.3 -5.8 -.8 -7.1 -.2 -8.2 .3 -9 .7 -9.6 1.1 -9.9 1.5 -19.9 3.5 -27.4 5.7 -28 6.7 -10.1 2.8 -7.8 2.6 -3.2 1.2 -5 2.3 -1.9 1.2 -2.9 2.3 -1.8 2.4 -.9 2.3 -.3 2.4 .4 2.3 1.5 3.5 1.7 2.2 2.1 2 2.7 2 3.3 1.7 3.9 1.5 7.2 1.8 9.3 1.1 7.6 .2 13.7 -.7 11 -1.2 12.5 -2.1 14 -2.9 15.3 -4.1 16.4 -5.2 16.6 -6.3 8.1 -3.6 7.7 -3.8 7 -3.9 6.3 -4 5.1 -4.1 3.9 -3.9 2.3 -3.7 .6 -3.3 -1.3 -2.9 -3.2 -2.3 -5.1 -1.6 -6.8 -.9 -8.5 -.3 -9.8 .4 -10.9 1 -11.5 1.5 -11.9 1.9 -23.7 4.4 -41.1 8.9 -22.5 5.3 -11.1 3 -8.6 2.5 -6.3 2.4 -4.7 2.4 -3.4 2.3 -2.4 2.5 -1.7 2.4 -1.5 3.9 -.7 3.8 -.2 5.1 .4 4.8 .9 4.4 1.4 4.1 2 3.5 2.1 2.4 2.7 2.1 3.6 1.8 4.7 1.3 3.9 .7 4.8 .5 5.7 .2 10.8 -.4 14.3 -1.4 18.5 -2.9 15.1 -3.1 17.6 -4.3 20 -5.8 22.1 -7.5 11.6 -4.4 11.7 -4.9 11.5 -5.4 11.1 -5.7 10.3 -6 9.1 -6.3 7.3 -6.2 5.2 -6 2.6 -5.5 -.3 -4.9 -3.5 -3.9 -6.8 -2.8 -9.8 -1.5 -12.7 -.3 -14.9 .9 -16.6 2 -17.6 2.8 -18 3.3 -17.7 3.7 -73.5 16.4 -47 9.6 -12.2 2.8 -5.8 1.9 -6.6 2.9 -3.7 2.2 -12.3 8.2 -6.5 3.5 -7.9 3.1 -6.2 1.9 -10.9 2.2 -8.5 1 -9.5 .5 -10.4 -.2 -11.2 -1.1 -11.8 -2.1 -6 -1.5 -5.9 -1.8 -5.8 -2.2 -5.6 -2.6 -5.3 -2.9 -4.8 -3.4 -4.2 -3.7 -3.6 -4.1 -2.7 -4.4 -1.8 -4.6 -.7 -4.9 .3 -4.9 1.5 -4.9 2.7 -4.9 3.7 -4.6 4.8 -4.3 5.7 -3.9 6.5 -3.3 7.1 -2.7 7.6 -2.1 7.9 -1.5 7.9 -.8 7.9 -.1 7.8 .4 7.4 1 7.1 1.4 6.7 1.8 6.1 2.2 5.7 2.4 5.1 2.7 4.7 2.7 4.1 2.9 3.6 2.9 3.2 3 5.1 5.8 2 2.9 2.9 5.5 1.8 5.2 .7 4.8 -.2 4.5 -.9 4.2 -1.8 3.8 -2.4 3.5 -3.2 3.2 -3.9 3 -4.8 2.6 -5.6 2.4 -6.6 2 -7.6 1.7 -8.6 1.2 -4.7 .4 -10.4 .3 -5.5 -.1 -11.9 -.9 -12.5 -2 -6.5 -1.4 -6.4 -1.8 -6.4 -2.2 -6.2 -2.7 -5.9 -3 -5.4 -3.5 -4.9 -3.9 -4.1 -4.3 -3.3 -4.7 -2.3 -5.1 -1.1 -5.3 0 -5.4 1.4 -5.5 2.7 -5.4 3.9 -5.2 5.1 -4.8 6.2 -4.4 7 -3.8 7.9 -3.1 8.3 -2.4 8.6 -1.7 8.8 -.9 8.7 -.2 8.5 .4 8.2 1.1 7.8 1.5 7.2 2.1 6.7 2.3 6.1 2.7 5.6 2.8 5 3.1 4.4 3.1 3.9 3.1 3.4 3.2 5.5 6.2 3.9 6 2.6 5.6 1.5 5.3 .6 4.8 -.2 4.5 -1 4.1 -1.6 3.8 -2.3 3.6 -1.4 1.6 -3.3 3.1 -4 2.9 -4.7 2.6 -5.7 2.3 -6.6 2.1 -7.7 1.7 -8.8 1.4 -10.1 .8 -11.3 .2 -6.1 -.3 -13.1 -1.1 -6.8 -1 -7.1 -1.4 -7.1 -1.7 -7.1 -2.2 -7.1 -2.5 -6.7 -3.1 -6.5 -3.6 -5.8 -4 -5.2 -4.6 -4.3 -5 -3.2 -5.5 -1.9 -5.9 -.6 -6 .8 -6.3 2.4 -6.2 3.9 -6 5.3 -5.7 6.6 -5.2 7.7 -4.6 8.7 -3.8 9.3 -3 9.7 -2.2 9.9 -1.2 9.9 -.5 9.6 .4 9.3 1.1 8.7 1.7 8.2 2.1 7.6 2.6 6.8 3 6.2 3.1 5.6 3.4 4.9 3.4 4.4 3.4 3.8 3.5 3.3 3.4 5.3 6.6 3.7 6.2 2.5 5.8 1.5 5.3 .7 4.9 .1 2.3 -.3 4.3 -.9 3.9 -2.3 5.4 -3.4 4.9 -3 2.9 -5.6 4 -4.7 2.5 -8.6 3.3 -7 1.9 -8.2 1.6 -9.5 1.3 -11 .8 -6 .2 -13.2 -.3 -7.2 -.5 -15.3 -1.8 -8 -1.5 -8.2 -1.9 -8.2 -2.4 -8.2 -2.9 -7.9 -3.5 -7.5 -4.1 -6.9 -4.8 -6.1 -5.3 -5 -6 -3.6 -6.5 -2.2 -7 -.4 -7.3 1.4 -7.4 3.3 -7.4 5.2 -7.2 6.9 -6.7 8.4 -6.1 9.8 -5.2 10.7 -4.2 11.4 -3.1 11.8 -2.1 11.7 -.9 11.6 0 11.1 .9 10.5 1.8 9.8 2.4 9 2.9 8.2 3.3 7.4 3.6 6.6 3.8 5.8 3.9 5.1 3.9 4.5 3.9 3.9 3.8 3.4 3.7 5.4 7.1 2.1 3.4 3.3 6.2 3.2 8.4 1.7 7.2 .9 8.2 -.2 6.9 -1.2 7.3 -1.7 5 -2.5 4.6 -1.7 2.1 -1.9 2 -2.4 2 -2.8 1.9 -5.4 2.6 -4.4 1.8 -5.4 1.6 -10 2.3 -13.1 2 -10.8 1 -12.8 .7 -15 0 -17.3 -.8 -9.5 -.9 -10.1 -1.3 -10.5 -1.8 -10.8 -2.4 -11.1 -3 -11.1 -3.7 -10.9 -4.6 -10.4 -5.6 -9.5 -6.5 -8.3 -7.6 -6.6 -8.5 -4.5 -9.5 -2 -10.2 .7 -10.7 3.7 -10.9 6.7 -10.7 9.6 -10.1 12.1 -9.1 14.1 -7.8 15.7 -6.2 16.6 -4.5 17 -2.7 16.7 -1 16.2 .5 15.2 1.9 14.1 2.9 12.8 3.8 11.5 4.4 10.3 4.8 9 5.1 7.9 5.1 7 5 6 5 5.2 4.8 4.5 4.6 7.3 8.5 7.9 10.9 10.6 16.2 4.6 5.8 3.4 3.2 3.7 2.8 2.1 1.2 4.5 2 5.2 1.7 6 1.2 10.7 .8 8.4 -.1 9.5 -.7 10.7 -1.4 11.7 -2.2 12.5 -3.1 13.1 -3.9 6.6 -2.3 12.7 -5.1 5.9 -2.8 5.5 -2.9 4.8 -3 4 -2.9 3.1 -2.9 2 -2.8 .9 -2.5 -.5 -2.2 -1.7 -1.9 -3.1 -1.5 -4.4 -1 -5.6 -.5 -6.6 -.1 -7.6 .3 -16.8 1.7 -8.9 1.3 -17.9 3.2 -24.6 5.1 -19.9 4.7 -10.3 2.8 -8.1 2.6 -8.6 3.6 -2.1 1.1 -3.1 2.3 -1.1 1.1 -1.4 2.3 -.3 1.1 -.1 2.2 .6 2.3 1.3 2.1 1.9 2 2.5 2 3.2 1.7 3.9 1.6 7.3 1.8 9.4 1.1 7.5 .2 13.5 -.7 10.6 -1.2 11.9 -2 13.1 -2.9 14.1 -3.8 7.3 -2.3 14.6 -5.3 7.1 -3 6.8 -3.2 6.3 -3.3 5.7 -3.4 4.8 -3.4 3.8 -3.4 2.6 -3.2 1.2 -3 -.3 -2.6 -1.8 -2.2 -3.5 -1.7 -4.9 -1.2 -6.3 -.6 -7.6 -.1 -8.6 .4 -9.4 .9 -10 1.3 -10.2 1.6 -20.2 3.6 -27.5 5.9 -27.8 6.6 -9.9 2.8 -7.6 2.6 -3 1.2 -4.8 2.3 -1.9 1.2 -2.8 2.3 -1.7 2.4 -1 2.4 -.2 2.4 .3 2.4 1.4 3.4 1.5 2.3 2 2.1 2.5 1.9 3 1.8 3.6 1.6 4.3 1.4 5.1 1.1 9.4 1 7.7 .2 14 -.8 11.1 -1.3 12.7 -2.2 14.3 -3.1 15.8 -4.1 8.3 -2.6 17.1 -6 8.6 -3.4 8.3 -3.7 7.9 -4 7.3 -4.1 6.4 -4.2 5.4 -4.1 3.9 -4.1 2.3 -3.8 .5 -3.5 -1.5 -2.9 -3.4 -2.3 -5.5 -1.6 -7.3 -.9 -9 -.2 -10.3 .5 -11.3 1.1 -12.1 1.7 -12.4 2 -24.5 4.6 -41.9 9.2 -28.7 6.8 -13.8 4 -6.3 2.4 -2.6 1.1 -4 2.4 -1.6 1.2 -2.5 2.4 -2.4 3.8 -1.5 3.8 -1.3 5.2 -2.4 14.3 -1.1 4.2 -1.5 3.7 -2.3 3.5 -3.1 3.3 -3.3 2.3 -4.4 2.3 -8.1 2.8 -11.8 2.8 -12.2 1.8 -16.2 1.5 -13.4 .5 -15.8 0 -18.4 -.9 -10.2 -1 -10.8 -1.4 -11.3 -1.8 -11.8 -2.6 -12.1 -3.2 -12.1 -4.1 -11.9 -5 -11.4 -6.2 -10.4 -7.2 -9 -8.4 -7 -9.6 -4.6 -10.6 -1.7 -11.5 1.6 -11.9 4.9 -12.2 8.4 -11.8 11.5 -11.1 14.3 -9.8 16.5 -8.1 17.9 -6.3 18.7 -4.2 18.8 -2.2 18.3 -.4 17.4 1.4 16.2 2.7 14.7 3.7 13.3 4.6 11.8 5.1 10.4 5.4 9.1 5.5 7.9 5.5 6.8 5.4 6 5.2 5.1 4.9 8.3 9.1 6.3 8 13 17.8 5.4 6.2 3.8 3.3 2 1.5 4.3 2.5 4.9 1.9 5.6 1.5 6.3 1 7.1 .4 8 -.1 8.9 -.7 9.7 -1.4 10.5 -2.1 10.9 -2.8 5.5 -1.6 10.7 -3.8 10 -4.4 8.4 -4.6 3.3 -2.3 2.5 -2.3 1.8 -2.2 .9 -2 -.2 -1.8 -1.1 -1.6 -2.1 -1.3 -3.1 -.9 -4.1 -.7 -4.9 -.2 -11.9 .3 -13.7 1.5 -14.4 2.2 -20.6 4.1 -17.5 4.1 -9.5 2.5 -7.6 2.4 -5.8 2.3 -2.4 1.1 -3.6 2.2 -1.3 1 -1.7 2.1 -.5 1 -.2 2 .2 1 1.1 1.9 1.9 1.7 1.3 .9 4.9 2.2 6.7 1.8 8.7 1 6.9 .2 8 -.3 8.9 -.8 9.9 -1.4 10.7 -2.1 11.4 -2.9 11.7 -3.5 11.4 -4.3 5.4 -2.3 9.6 -5 4 -2.6 3.3 -2.5 2.4 -2.5 1.5 -2.3 .5 -2.1 -.6 -1.9 -1.8 -1.5 -2.8 -1.2 -3.9 -.9 -4.9 -.5 -5.7 -.1 -6.5 .3 -14.5 1.4 -15.5 2.3 -22.5 4.3 -19.3 4.4 -10.4 2.7 -8.4 2.6 -6.6 2.3 -2.6 1.2 -4.1 2.2 -1.5 1.1 -2.2 2.1 -.7 1.1 -.5 2.1 0 1 .8 2 1.5 2 2.2 1.8 3 1.7 3.8 1.4 7.1 1.8 9.2 .9 7.3 .2 8.3 -.4 9.5 -.9 10.5 -1.6 11.5 -2.3 12.2 -3.1 12.6 -4 12.4 -4.7 5.8 -2.6 5.5 -2.7 4.9 -2.8 4.3 -2.8 3.4 -2.8 2.6 -2.7 1.5 -2.5 .3 -2.3 -.9 -2 -2.2 -1.6 -3.4 -1.3 -4.5 -.8 -5.7 -.4 -6.6 .1 -7.3 .4 -16.2 1.8 -8.6 1.3 -16.9 3 -23.1 4.8 -18.6 4.5 -9.6 2.8 -7.6 2.5 -8 3.5 -1.9 1.1 -2.7 2.2 -1 1.1 -1.1 2.2 -.2 1.1 .2 2.2 .9 2.1 1.7 2 3.7 2.9 3.3 1.6 4.1 1.5 7.6 1.7 9.8 .9 7.7 0 13.9 -.9 10.7 -1.5 11.9 -2.2 13 -3.1 13.6 -4 7 -2.3 13.6 -5.3 6.4 -2.9 6 -3.1 5.4 -3.2 4.7 -3.2 3.7 -3.1 2.6 -3 1.4 -2.8 .1 -2.5 -1.4 -2.2 -2.9 -1.7 -4.2 -1.2 -5.6 -.8 -6.7 -.2 -7.8 .2 -8.6 .7 -18.5 2.4 -28.3 5.1 -24.9 5.4 -24.7 6.2 -12.3 3.9 -3.1 1.2 -4.9 2.3 -1.8 1.2 -2.8 2.3 -1 1.2 -1.2 2.3 -.5 2.3 .3 2.3 .9 2.2 2.4 3.3 2.3 2 2.8 1.9 3.5 1.7 4.2 1.4 7.8 1.7 10 .8 8 .1 14.5 -1.1 11.3 -1.5 12.8 -2.4 14.2 -3.3 15.1 -4.4 15.8 -5.4 7.8 -3.1 7.5 -3.4 7.2 -3.5 6.6 -3.7 5.8 -3.8 4.7 -3.7 3.6 -3.6 2.1 -3.4 .5 -3.1 -1.2 -2.7 -2.9 -2.1 -4.7 -1.6 -6.3 -.9 -7.8 -.3 -9 .3 -10 .9 -10.7 1.3 -11.1 1.6 -11.2 2 -21.7 4.2 -36.4 8.1 -24.6 6.2 -8.4 2.6 -6.2 2.4 -2.5 1.2 -3.8 2.3 -2.7 2.4 -1.8 2.4 -1.1 2.5 -.6 3.7 .3 3.8 1.1 3.6 1.7 3.4 1.5 2.1 3 3 2.4 1.7 3 1.6 3.6 1.4 4.2 1.2 5 .9 9.3 .7 12 -.2 15.4 -1.4 12.4 -1.9 14.3 -2.7 16.2 -3.9 18 -5.2 9.5 -3.1 9.8 -3.5 9.8 -3.9 9.8 -4.2 9.4 -4.5 8.9 -4.8 8 -5 6.8 -5 5.3 -4.9 3.5 -4.7 1.3 -4.3 -1 -3.6 -3.5 -3 -5.9 -2.1 -8.3 -1.2 -10.4 -.2 -12.1 .6 -13.4 1.5 -14.2 2 -29.2 5.3 -27.6 5.8 -59.9 13.4 -17.2 4.2 -11.2 3.4 -2.8 1.1 -4.6 2.3 -5 3.5 -3.7 3.7 -8.8 10.6 -4.2 3.9 -3.3 2.5 -3.8 2.4 -4.5 2.3 -5.3 2.2 -6.2 2 -7.2 1.8 -8.4 1.6 -9.8 1.1 -5.4 .5 -12 .3 -6.6 0 -14.3 -.9 -7.7 -.9 -7.9 -1.2 -8.2 -1.6 -8.3 -2 -8.3 -2.6 -8.3 -3.1 -7.9 -3.7 -7.5 -4.3 -6.8 -5 -5.9 -5.6 -4.7 -6.2 -3.3 -6.7 -1.7 -7.2 .1 -7.5 2 -7.6 3.9 -7.5 5.7 -7.2 7.5 -6.6 9.1 -5.9 10.2 -5 11.2 -4 11.7 -2.8 12 -1.8 11.9 -.6 11.6 .3 11.1 1.3 10.4 2 9.7 2.6 8.8 3.1 8.1 3.5 7.2 3.7 6.4 3.8 5.6 4 5 4 4.3 3.9 3.8 3.8 6 7.3 2.4 3.5 3.8 6.5 3.7 8.6 1.5 5.1 1 4.6 1 8.1 .2 6.8 -.6 7.2 -1.3 6.1 -2.2 5.3 -2.6 3.8 -3.7 3.6 -2.5 1.7 -3 1.6 -5.6 2.4 -4.7 1.5 -5.6 1.5 -10.7 2.1 -14.1 1.7 -11.7 .9 -13.8 .4 -16.3 -.2 -18.7 -1.3 -10.3 -1.1 -10.8 -1.7 -11.2 -2.2 -11.6 -2.8 -11.7 -3.7 -11.7 -4.5 -11.2 -5.4 -10.5 -6.6 -9.2 -7.6 -7.7 -8.7 -5.5 -9.8 -3 -10.7 0 -11.3 3.1 -11.6 6.4 -11.5 9.6 -11 12.4 -10.1 14.8 -8.6 16.5 -7 17.6 -5.1 18.1 -3.2 17.9 -1.3 17.3 .4 16.2 1.9 15.1 3 13.6 4 12.3 4.6 10.8 5 9.6 5.3 8.4 5.4 7.3 5.3 6.3 5.2 5.4 5 4.8 4.7 7.7 8.8 5.8 7.6 12.2 17.4 3.4 4.2 3.5 3.6 3.8 3.1 2 1.3 4.5 2.3 5 1.8 5.8 1.3 6.7 .9 3.6 .2 8 0 8.9 -.6 9.9 -1.2 10.8 -2 11.5 -2.7 11.8 -3.5 5.9 -2 11.2 -4.6 5.2 -2.4 4.8 -2.6 4.1 -2.5 3.5 -2.6 2.6 -2.5 1.7 -2.4 .7 -2.1 -.4 -2 -1.5 -1.6 -2.7 -1.3 -3.7 -1 -4.8 -.5 -5.7 -.2 -13.5 .8 -15.2 1.8 -15.8 2.6 -22 4.5 -18.3 4.3 -9.6 2.7 -7.7 2.5 -5.9 2.3 -2.3 1.1 -3.6 2.2 -1.3 1.1 -1.7 2.2 -.4 1 -.2 2.1 .2 1.1 1 2 1.8 1.9 2.5 1.8 5.1 2.3 7 1.8 8.9 1.1 7.1 .3 8.2 -.3 9.3 -.8 10.4 -1.5 11.4 -2.1 12.2 -3 12.7 -3.9 12.7 -4.6 6 -2.5 11 -5.6 4.6 -2.8 3.9 -2.9 3 -2.7 1.9 -2.7 .8 -2.4 -.4 -2.2 -1.6 -1.8 -3 -1.4 -4.1 -1 -5.3 -.6 -6.4 -.1 -7.1 .2 -16.2 1.7 -8.5 1.2 -17.3 2.9 -23.9 4.9 -19.4 4.7 -10.2 2.8 -8.1 2.5 -8.5 3.6 -2 1.1 -3.1 2.3 -1 1.1 -1.4 2.2 -.3 1.1 0 2.2 .7 2.1 1.5 2.1 3.4 2.9 3.1 1.8 3.8 1.5 7.2 1.9 9.2 1.1 7.4 .2 13.3 -.6 10.3 -1.2 11.6 -2 12.7 -2.7 13.6 -3.7 7 -2.2 14.1 -5.1 6.7 -2.8 6.5 -3.1 6 -3.1 5.4 -3.2 4.5 -3.3 3.6 -3.2 2.4 -3 1.1 -2.8 -.2 -2.5 -1.8 -2.1 -3.2 -1.6 -4.6 -1.2 -6 -.6 -7.2 -.1 -8.1 .3 -8.9 .8 -9.4 1.2 -9.7 1.5 -19.4 3.4 -26.4 5.5 -27 6.6 -9.7 2.7 -7.4 2.6 -3 1.2 -4.8 2.3 -1.8 1.2 -2.7 2.3 -.9 1.1 -1.2 2.4 -.4 2.3 .3 2.3 .8 2.3 2.3 3.3 2.2 2 2.8 1.9 3.3 1.8 4 1.5 7.6 1.7 9.6 1 7.7 .1 14 -.8 11.2 -1.3 12.5 -2.2 14 -3.1 15.3 -4.2 16 -5.3 15.9 -6.3 7.6 -3.6 7.2 -3.7 6.4 -3.8 5.5 -3.9 4.4 -3.8 3 -3.7 1.4 -3.4 -.2 -2.9 -2.1 -2.5 -3.9 -2 -5.6 -1.3 -7.3 -.6 -8.7 0 -9.8 .7 -10.7 1.1 -11.3 1.6 -11.4 1.8 -22.6 4.3 -30.1 6.5 -23.3 5.5 -11.7 3 -9.1 2.7 -6.8 2.4 -5.1 2.4 -3.6 2.3 -2.5 2.4 -1.7 2.5 -1.1 2.5 -.7 3.7 .1 3.8 .7 3.7 1.2 3.4 1.8 3.3 2.4 2.9 3.2 2.7 4.1 2.2 3.4 1.3 4.1 1.1 4.9 .8 5.8 .5 6.9 .1 12.9 -.6 16.5 -2 13.5 -2.3 15.4 -3.3 17.6 -4.6 19.4 -6 10.2 -3.6 10.4 -3.9 10.3 -4.4 10.2 -4.8 9.7 -5 8.8 -5.2 7.8 -5.4 6.1 -5.4 4.4 -5.1 2 -4.7 -.4 -4.2 -3 -3.3 -5.8 -2.5 -8.4 -1.5 -10.7 -.4 -12.7 .6 -14.2 1.5 -15.1 2.1 -15.6 2.7 -15.6 3 -29.5 6.3 -70.7 15.7 -15.7 3.8 -7.3 2.1 -7.8 3.2 -5.5 3.4 -2.9 2.4 -10.9 10.4 -3.3 2.6 -3.7 2.5 -4.4 2.4 -5.1 2.2 -9.2 3.1 -11.4 2.5 -9.2 1.3 -5 .4 -11.1 .5 -6 -.1 -13 -.7 -14.2 -1.8 -7.3 -1.4 -7.5 -1.8 -7.5 -2.3 -7.4 -2.7 -7.1 -3.2 -6.8 -3.8 -6.2 -4.3 -5.4 -4.8 -4.4 -5.4 -3.3 -5.8 -2 -6.2 -.5 -6.5 1.1 -6.6 2.7 -6.6 4.3 -6.4 5.9 -6 7.2 -5.4 8.4 -4.8 9.3 -3.9 10 -3 10.4 -2.1 10.5 -1.2 10.4 -.2 10.2 .5 9.6 1.3 9.1 2 8.4 2.4 7.8 2.9 7 3.1 6.3 3.4 5.7 3.5 4.9 3.6 4.4 3.6 3.9 3.6 6.1 6.9 4.5 6.6 3.1 6.1 1.1 2.8 1.7 5.4 1 7.2 -.3 6.3 -1.3 5.6 -2.2 5 -3.2 4.5 -4.4 4.1 -5.6 3.7 -4.7 2.3 -8.7 3.2 -7.1 1.8 -8.3 1.6 -9.7 1.3 -11.2 .8 -12.9 .2 -14.6 -.6 -7.9 -.8 -8.3 -1 -8.5 -1.5 -8.8 -1.9 -8.9 -2.4 -8.9 -3 -8.7 -3.6 -8.3 -4.3 -7.7 -4.9 -6.9 -5.7 -5.7 -6.4 -4.2 -7.1 -2.6 -7.6 -.7 -7.9 1.3 -8.3 3.5 -8.2 5.6 -8 7.5 -7.4 9.4 -6.7 10.7 -5.8 11.9 -4.6 12.6 -3.5 13 -2.2 12.9 -.9 12.6 .1 12.1 1.2 11.4 2 10.5 2.7 9.6 3.3 8.7 3.6 7.8 4 7 4.1 6.1 4.2 5.3 4.2 4.7 4.1 4 4.1 3.6 3.9 5.6 7.3 4.1 6.8 4.4 8.8 2.8 7.6 4.5 15.4 1.5 4.5 2.5 5.1 2.4 3.3 2 1.9 2.3 1.8 4.3 2.3 5.5 1.8 7.3 1.2 9.4 .5 12.2 -.4 15.7 -1.6 12.8 -2.1 14.9 -3 17 -4.1 18.9 -5.6 10.1 -3.3 10.3 -3.8 10.5 -4.1 10.4 -4.6 10.1 -4.9 9.4 -5.1 8.6 -5.4 7.2 -5.4 5.6 -5.3 3.6 -5.1 1.2 -4.5 -1.4 -3.9 -4.1 -3.1 -6.8 -2.1 -9.3 -1.1 -11.6 0 -13.4 .9 -14.7 1.8 -15.5 2.4 -15.8 2.8 -30.5 6.3 -82.3 18.3 -15 3.6 -6.9 2.1 -5.3 2.1 -5.9 3.4 -4.4 3.6 -9.6 9 -3.3 2.6 -3.7 2.5 -4.2 2.4 -5 2.3 -9 3.2 -11.2 2.5 -13.8 1.8 -10.8 .5 -5.9 .1 -12.8 -.6 -13.8 -1.7 -7.3 -1.3 -7.4 -1.7 -7.4 -2.1 -7.3 -2.5 -7.2 -3.1 -6.7 -3.5 -6.3 -4.2 -5.6 -4.6 -4.7 -5.2 -3.5 -5.6 -2.4 -6 -.9 -6.3 .6 -6.5 2.3 -6.6 3.8 -6.3 5.3 -6.1 6.7 -5.5 8 -4.9 9 -4.2 9.6 -3.2 10.2 -2.3 10.3 -1.5 10.4 -.5 10.1 .3 9.7 1.1 9.1 1.7 8.6 2.3 7.8 2.6 7.2 3.1 6.5 3.3 5.8 3.4 5.1 3.5 4.5 3.6 4 3.5 3.4 3.6 5.5 6.7 4 6.4 2.6 5.9 1 2.8 1.3 5.1 .5 4.8 -.2 6.4 -1.4 5.6 -2.3 5.1 -3.4 4.5 -2.9 2.8 -5.4 3.9 -4.6 2.4 -8.3 3.2 -6.8 1.9 -8 1.7 -9.3 1.3 -10.9 1 -12.4 .3 -14.1 -.4 -7.6 -.6 -8 -.9 -8.3 -1.3 -8.6 -1.7 -8.7 -2.2 -8.7 -2.7 -8.6 -3.3 -8.3 -3.9 -7.9 -4.6 -7 -5.3 -6.1 -6 -4.7 -6.6 -3.3 -7.3 -1.5 -7.6 .5 -8 2.5 -8 4.6 -7.9 6.5 -7.6 8.4 -6.9 9.9 -6 11.1 -5.1 12 -3.9 12.6 -2.7 12.7 -1.5 12.5 -.3 12.1 .7 11.5 1.5 10.7 2.4 9.8 2.9 9 3.4 8.1 3.8 7.2 4 6.4 4 5.6 4.2 5 4.1 4.2 4 3.8 3.9 3.2 3.8 5.1 7.2 3.8 6.5 3.8 8.6 3 9.6 4.8 20 1.8 4.7 2.4 4.1 1.6 1.8 1.9 1.6 2.2 1.5 2.7 1.3 3.2 1.1 3.8 .9 7.2 1 6 .2 7.1 -.1 13.5 -1 17.4 -2.4 14.3 -2.7 16.5 -3.8 18.8 -5.1 20.9 -6.8 10.9 -4 11.2 -4.4 11.1 -4.9 10.8 -5.2 10.2 -5.6 9.3 -5.8 7.8 -5.9 6.1 -5.8 3.8 -5.5 1.2 -4.9 -1.6 -4.2 -4.7 -3.3 -7.6 -2.2 -10.4 -1 -12.8 .2 -14.8 1.2 -16.1 2.1 -16.9 2.8 -17 3.2 -32.6 7 -52.3 11.7 -38.6 8.1 -9.3 2.2 -7.1 1.9 -5.4 2 -6.1 3.2 -3.4 2.3 -11.3 8.6 -5.9 3.7 -7.3 3.4 -8.9 3 -11.1 2.5 -8.6 1.1 -9.7 .7 -5.3 .1 -11.4 -.4 -12.3 -1.3 -12.9 -2.5 -6.5 -1.7 -6.5 -2.1 -6.4 -2.6 -6 -3 -5.7 -3.4 -5.1 -3.8 -4.4 -4.3 -3.6 -4.7 -2.6 -5 -1.5 -5.3 -.2 -5.5 1 -5.6 2.4 -5.5 3.7 -5.4 4.9 -5 6 -4.6 7 -4 7.8 -3.3 8.4 -2.6 8.7 -1.9 8.9 -1.1 8.9 -.4 8.7 .3 8.3 1 8 1.5 7.5 1.9 6.9 2.3 6.3 2.7 5.7 2.8 5.2 3.1 4.6 3.1 4.1 3.2 3.5 3.2 3.1 3.2 4.9 6.2 3.4 5.9 2.2 5.5 1.2 5.1 .3 4.7 -.5 4.4 -1.1 4 -1.8 3.7 -2.5 3.5 -1.4 1.6 -3.4 3 -4.2 2.8 -4.9 2.6 -5.9 2.2 -6.8 2 -7.9 1.7 -9.1 1.3 -10.3 .7 -11.7 .1 -6.2 -.3 -13.4 -1.4 -7.1 -1.1 -7.2 -1.5 -7.2 -1.8 -7.3 -2.3 -7.1 -2.8 -6.8 -3.2 -6.4 -3.8 -5.8 -4.3 -5 -4.8 -4 -5.3 -2.9 -5.7 -1.6 -6 -.2 -6.3 1.4 -6.4 2.9 -6.3 4.5 -6.1 5.8 -5.7 7.2 -5.1 8.2 -4.4 9.1 -3.6 9.7 -2.8 10 -1.9 10.2 -1 10 -.1 9.7 .6 9.3 1.4 8.7 1.9 8.1 2.4 7.4 2.8 6.7 3 6.1 3.3 5.4 3.4 4.8 3.5 4.2 3.5 3.6 3.5 3.2 3.5 5 6.6 3.6 6.2 2.4 5.7 1.4 5.3 .6 4.8 0 4.5 -1 6 -2.2 5.3 -3.2 4.8 -4.4 4.3 -3.7 2.6 -4.5 2.5 -5.2 2.3 -6.2 2 -7.2 1.9 -8.5 1.6 -9.8 1.2 M1252.9 860.7l13.1 -1.6 14.6 -3.1 15.4 -4.4 10 -3.6 4.6 -2 8.3 -4.3 3.4 -2.1 2.8 -2.2 2.1 -2.1 1.3 -1.9 .5 -1.8 -.5 -1.6 -1.3 -1.4 -2.3 -1.1 -3.1 -.8 -4 -.5 -4.7 -.2 -11.2 .5 -6.3 .6 -13.2 1.8 -19.5 3.5 -17.3 3.9 -13.7 3.7 -7 2.3 -5.4 2.2 -4 2.1 -2.6 2 -1.5 2 -.4 1.9 .5 1.9 1.4 1.7 2.2 1.7 3 1.4 3.8 1.3 4.6 1 5.5 .7 6.4 .3 11.3 -.3 13.3 -1.5 15.1 -3 10.7 -2.7 10.8 -3.5 5.3 -1.9 9.9 -4.3 8.4 -4.6 3.4 -2.3 2.6 -2.2 1.9 -2.2 1 -2 0 -1.9 -.9 -1.6 -1.9 -1.3 -3 -1 -3.8 -.7 -4.7 -.3 -5.4 0 -12.6 .8 -14 1.8 -21 3.7 -18.7 4.1 -14.9 3.9 -7.7 2.4 -6 2.3 -4.4 2.2 -3.1 2.1 -1.8 2 -.7 2 .2 2 1 1.9 1.9 1.7 1.2 .9 3.1 1.5 3.8 1.3 4.7 1.1 5.5 .8 6.4 .4 11.5 -.2 13.6 -1.5 15.7 -2.9 11.3 -2.8 11.5 -3.5 5.7 -2.1 10.9 -4.4 9.4 -5 3.9 -2.5 3.2 -2.4 2.3 -2.5 1.5 -2.2 .4 -2.1 -.6 -1.8 -1.8 -1.5 -2.8 -1.2 -3.8 -.9 -4.8 -.4 -5.7 -.1 -13.3 .8 -15 1.8 -22.7 4 -20.2 4.4 -16.2 4.1 -8.3 2.5 -6.5 2.4 -4.8 2.3 -3.4 2.1 -2.1 2.2 -1 2.1 -.1 2 .3 1 1.2 2 3.2 2.7 3 1.6 3.9 1.5 4.6 1.1 5.5 .9 6.5 .5 7.4 .1 8.4 -.4 14.7 -1.8 16.9 -3.3 12.1 -3.2 6.2 -1.9 12.4 -4.4 5.9 -2.5 10.8 -5.2 4.6 -2.8 4 -2.7 3.1 -2.8 2.2 -2.5 1.1 -2.4 -.1 -2.2 -1.3 -1.9 -2.5 -1.4 -3.6 -1.1 -4.8 -.7 -5.9 -.3 -6.7 .1 -15.2 1.4 -16.6 2.4 -24.4 4.5 -21 4.7 -16.3 4.3 -8.2 2.6 -6.2 2.3 -4.7 2.3 -3.1 2.3 -2 2.2 -.6 1 -.5 2.2 .1 1.1 .8 2.1 1.4 2 1 1 4.1 2.7 3.5 1.6 4.4 1.4 5.1 1.1 6.1 .7 7.1 .4 8.1 -.2 9.3 -.7 16.1 -2.3 12.2 -2.4 6.4 -1.6 13.4 -3.8 6.8 -2.3 13.4 -5.1 6.3 -2.8 6 -3 5.4 -3 4.7 -3.1 3.8 -3.1 2.8 -3 1.7 -2.8 .3 -2.5 -1 -2.2 -2.4 -1.7 -3.8 -1.4 -5.2 -.8 -6.3 -.4 -7.3 .1 -8.2 .6 -8.7 .9 -18.5 2.7 -27.2 5.2 -29.7 6.7 -16 4.3 -7.8 2.6 -5.9 2.4 -4.2 2.3 -1.6 1.2 -2.3 2.2 -.8 1.2 -.8 2.3 -.1 1.1 .3 2.3 1.6 3.3 2.9 3.1 4.3 2.8 5.8 2.3 4.8 1.3 5.7 .9 6.7 .6 7.7 .1 9 -.4 10.3 -1 11.6 -1.7 6.4 -1.2 13.6 -3.1 7.2 -1.9 15.1 -4.6 7.6 -2.7 15.1 -6.1 7 -3.4 6.6 -3.5 5.8 -3.6 5 -3.6 3.8 -3.6 2.5 -3.3 1 -3.1 -.6 -2.7 -2.3 -2.3 -3.9 -1.7 -5.6 -1.1 -7 -.5 -8.3 .1 -9.3 .6 -10.1 1.1 -10.6 1.5 -21.5 3.7 -30 6.1 -16.9 3.8 -19.9 5 -13.9 4 -6.5 2.5 -4.7 2.3 -1.9 1.2 -2.8 2.3 -1 1.2 -1.4 2.5 -.9 3.6 .1 2.5 .5 2.4 .9 2.4 1.3 2.2 1.6 2.2 2 2.1 2.5 1.9 3 1.7 5.5 2.2 7.3 1.6 5.9 .7 10.9 .3 9 -.4 10.4 -1 12.1 -1.7 13.8 -2.6 7.7 -1.7 16.4 -4.3 17.8 -5.6 18.5 -6.9 9.2 -4 8.8 -4.2 8.3 -4.5 7.4 -4.6 6.3 -4.6 4.8 -4.5 3.2 -4.4 1.2 -3.9 -.9 -3.4 -3.2 -2.8 -5.4 -2 -7.6 -1.1 -9.5 -.4 -11.1 .5 -12.3 1.2 -13.2 1.8 -13.6 2.2 -26.8 5.2 -35.7 7.8 -34.7 7.9 -16.8 4.2 -7.9 2.4 -3.2 1.2 -5.1 2.3 -3.8 2.3 -2.9 2.4 -2.2 2.5 -1.9 2.6 -5.3 9.3 -3.6 5.1 -3.3 3.8 -4.3 3.5 -5.4 3.4 -7 3.1 -9 2.9 -7.4 1.7 -13.5 2.1 -11 1 -6.1 .3 -13.6 .1 -15.4 -.8 -8.4 -.8 -8.8 -1.2 -9.1 -1.6 -9.3 -2.1 -9.4 -2.7 -9.5 -3.3 -9.2 -4 -8.7 -4.7 -8 -5.4 -7 -6.3 -5.7 -7.1 -4.1 -7.7 -2.2 -8.3 0 -8.7 2.2 -8.9 4.6 -8.8 6.9 -8.4 8.9 -7.8 10.7 -6.9 12.2 -5.7 13.2 -4.4 13.8 -3.1 13.9 -1.8 13.8 -.4 13.3 .7 12.5 1.8 11.6 2.5 10.7 3.3 9.7 3.7 8.7 4.1 7.7 4.3 6.8 4.4 6 4.4 5.2 4.4 4.5 4.3 4 4.1 6.3 7.8 4.7 7 3.6 6.4 2.8 5.6 5.9 13.6 2.5 5.3 2.9 4.5 2.2 2.7 4 3.4 5 2.8 6.4 2.2 5.3 1.1 9.6 .9 7.9 .1 14.4 -.9 11.5 -1.5 13.2 -2.3 15 -3.3 16.5 -4.5 8.7 -2.7 18 -6.4 9 -3.7 8.8 -4 8.4 -4.2 7.6 -4.4 6.7 -4.5 5.5 -4.5 3.9 -4.3 2.2 -4 .2 -3.6 -1.9 -3.1 -4.1 -2.3 -6.2 -1.6 -8.3 -.7 -9.9 0 -11.3 .8 -12.4 1.4 -13 1.9 -26.3 4.8 -46.6 9.9 -25.6 5.9 -17.9 4.5 -8.5 2.5 -6.3 2.3 -4.7 2.3 -1.9 1.2 -3 2.4 -2.3 2.5 -1.7 2.5 -2.1 4 -4.4 9.2 -3 5 -4.1 4.7 -2.7 2.2 -3.1 2.2 -3.6 2.1 -4.4 2 -8.1 2.8 -10.6 2.6 -8.6 1.4 -15.9 1.6 -12.9 .5 -14.8 -.2 -16.8 -1.2 -9.1 -1.1 -9.5 -1.6 -9.8 -2 -10 -2.7 -10 -3.2 -9.9 -4 -9.5 -4.8 -8.7 -5.6 -7.8 -6.5 -6.5 -7.3 -4.7 -8.1 -2.7 -8.8 -.5 -9.3 2 -9.6 4.6 -9.5 7.1 -9.2 9.4 -8.4 11.5 -7.6 13 -6.2 14.1 -4.9 14.8 -3.4 15 -1.9 14.7 -.5 14.2 .8 13.4 1.8 12.4 2.8 11.3 3.5 10.2 4 9.1 4.4 8.1 4.6 7.1 4.6 6.2 4.7 5.4 4.5 4.8 4.5 7.6 8.3 5.7 7.6 4.4 6.8 12.1 22.2 3.6 5.1 2.7 2.9 4.8 3.7 3.8 2 7 2.4 5.6 1.2 10.3 .9 8.2 0 14.8 -1.1 11.7 -1.6 13.1 -2.5 14.5 -3.5 15.6 -4.5 8 -2.7 15.9 -6.3 7.7 -3.4 7.2 -3.7 6.6 -3.8 5.7 -3.9 4.6 -3.8 3.3 -3.7 1.9 -3.4 .1 -3.1 -1.6 -2.6 -3.5 -2 -5.2 -1.4 -6.9 -.8 -8.4 -.1 -9.5 .4 -10.5 1.1 -11.1 1.4 -11.4 1.8 -22.6 4.2 -30.5 6.5 -23.8 5.6 -12 3.1 -9.3 2.7 -7.1 2.4 -2.8 1.2 -4.4 2.4 -3.2 2.3 -2.1 2.4 -1.5 2.5 -1 3.8 -.2 3.7 .5 3.7 1.1 3.6 1.7 3.3 2.2 3.1 3 2.7 3.9 2.4 3.3 1.4 3.9 1.1 4.6 .9 8.7 .8 11.2 0 14.4 -1.2 11.8 -1.6 13.8 -2.5 15.8 -3.5 17.9 -4.8 19.5 -6.2 10.2 -3.8 10.3 -4.1 10.3 -4.4 9.9 -4.8 9.3 -5.1 8.3 -5.3 7.1 -5.3 5.4 -5.2 3.5 -5 1.1 -4.4 -1.4 -3.9 -4.1 -3 -6.7 -2 -9.3 -1.1 -11.4 0 -13.1 .9 -14.5 1.7 -15.2 2.4 -15.5 2.8 -30 6.1 -81.3 18.1 -14.9 3.6 -6.9 2.2 -5.2 2.1 -5.8 3.4 -4.4 3.7 -6.3 6.4 -4.3 4 -3.2 2.5 -3.8 2.6 -4.3 2.4 -5 2.2 -9.2 3.1 -11.4 2.6 -14.1 1.7 -11.1 .5 -6 0 -13.1 -.6 -14.3 -1.8 -7.4 -1.4 -7.6 -1.7 -7.6 -2.2 -7.6 -2.7 -7.3 -3.2 -6.9 -3.7 -6.4 -4.3 -5.7 -4.8 -4.7 -5.4 -3.5 -5.9 -2.2 -6.3 -.8 -6.5 .9 -6.8 2.6 -6.7 4.2 -6.6 5.8 -6.2 7.2 -5.6 8.4 -5 9.5 -4.1 10.1 -3.2 10.6 -2.2 10.7 -1.3 10.7 -.3 10.3 .5 9.9 1.2 9.3 1.9 8.6 2.5 8 2.9 7.2 3.2 6.4 3.4 5.8 3.5 5.1 3.7 4.5 3.6 3.9 3.6 3.4 3.6 5.4 6.9 3.9 6.4 1.5 3 2.2 5.7 .7 2.6 1 5 .3 6.6 -.7 5.9 -1.6 5.2 -2.5 4.6 -3.4 4.3 -4.5 3.9 -6 3.5 -4.8 2.2 -9.1 3 -7.3 1.8 -8.7 1.5 -10.2 1.1 -11.7 .7 -13.5 .1 -15.3 -.9 -8.2 -.8 -8.6 -1.3 -8.9 -1.6 -9.1 -2.2 -9.2 -2.7 -9.1 -3.3 -8.9 -4 -8.3 -4.7 -7.7 -5.4 -6.6 -6.2 -5.3 -6.9 -3.7 -7.6 -1.8 -8 .2 -8.5 2.4 -8.5 4.7 -8.5 6.8 -8 8.7 -7.5 10.5 -6.5 11.8 -5.4 12.8 -4.2 13.3 -2.9 13.4 -1.6 13.3 -.4 12.8 .8 12.1 1.7 11.3 2.5 10.3 3.1 9.4 3.6 8.4 4 7.5 4.2 6.6 4.3 5.9 4.3 5.1 4.2 4.4 4.2 3.8 4.1 6.2 7.6 4.6 7 4.8 9.1 3.2 7.8 4.5 12.3 2.2 4.8 2.4 4.3 2.9 3.6 3.7 3.1 4.7 2.6 6.1 2 7.8 1.4 10 .6 8.2 -.2 15.2 -1.3 12.2 -1.7 14.1 -2.7 16 -3.8 17.6 -5 9.4 -3 9.6 -3.4 9.7 -3.8 9.6 -4.1 9.3 -4.4 8.8 -4.7 7.9 -4.8 6.8 -4.9 5.4 -4.8 3.6 -4.7 1.5 -4.2 -.7 -3.7 -3.1 -3 -5.6 -2.1 -7.8 -1.3 -9.9 -.4 -11.7 .6 -13 1.2 -13.8 1.9 -14.3 2.4 -28.3 5.6 -37.3 8.1 -42.5 9.7 -15.1 3.9 -9.9 3.3 -2.4 1.2 -4 2.2 -4.4 3.7 -3.3 3.8 -7.1 9.3 -3.7 3.9 -2.9 2.5 -5.3 3.7 -4.3 2.3 -5.1 2.2 -5.9 2 -7 1.8 -8.2 1.6 -14.8 1.8 -11.7 .6 -6.5 0 -14.2 -.6 -7.7 -.7 -8 -1 -8.3 -1.4 -8.5 -1.8 -8.6 -2.3 -8.6 -2.9 -8.4 -3.4 -8.1 -4.1 -7.5 -4.7 -6.7 -5.4 -5.6 -6.1 -4.4 -6.7 -2.7 -7.3 -.9 -7.6 1 -7.9 3 -7.9 5 -7.7 6.9 -7.3 8.6 -6.5 10.1 -5.8 11.2 -4.6 12 -3.6 12.4 -2.3 12.5 -1.2 12.2 -.1 11.8 .8 11.2 1.8 10.4 2.4 9.5 3.1 8.7 3.4 7.8 3.8 6.9 3.9 6.2 4.1 5.4 4.1 4.7 4 4.1 4 6.6 7.6 2.6 3.6 4.2 6.7 4.3 8.9 2.6 7.7 2 8.5 3.4 19.6 1.7 5.3 1.9 3.6 2.8 3.1 1.8 1.4 2.1 1.2 2.6 1 3.1 .9 5.9 1 5 .4 5.9 0 11.3 -.5 14.9 -1.7 19.3 -3.3 15.8 -3.4 18.3 -4.6 20.8 -6.2 11.1 -3.8 11.6 -4.3 11.8 -4.7 11.8 -5.2 11.5 -5.6 10.9 -5.9 9.9 -6.3 8.5 -6.3 6.5 -6.2 4.1 -6 1.3 -5.3 -1.8 -4.5 -5.2 -3.5 -8.4 -2.2 -11.4 -.9 -14.1 .3 -16 1.5 -17.5 2.5 -18.1 3.1 -18.2 3.6 -88.9 19.7 -44.3 8.9 -8.1 1.9 -6.2 1.7 -7.1 2.9 -5.5 3.2 -10.8 6.9 -6.4 3.5 -7.8 3.1 -9.5 2.7 -7.4 1.4 -8.4 1 -9.3 .4 -10.2 -.2 -10.9 -1 -11.5 -2.1 -5.8 -1.4 -5.8 -1.8 -5.7 -2.2 -5.4 -2.5 -5.1 -2.8 -4.7 -3.3 -4.1 -3.6 -3.5 -3.9 -2.6 -4.3 -1.8 -4.5 -.8 -4.7 .3 -4.8 1.4 -4.8 2.5 -4.6 3.6 -4.5 4.5 -4.2 5.5 -3.8 6.2 -3.2 6.9 -2.7 7.3 -2.1 7.5 -1.5 7.8 -.8 7.6 -.2 7.6 .3 7.3 .9 6.9 1.3 6.5 1.8 6.1 2 5.5 2.4 5.1 2.5 4.6 2.7 4.1 2.8 3.6 2.8 3.2 2.9 2.7 2.9 4.3 5.7 2.9 5.4 1.8 5.1 .4 2.5 .3 4.6 -.7 4.3 -1.4 3.9 -2.2 3.7 -2.9 3.3 -3.7 3 -4.4 2.8 -5.4 2.4 -6.2 2.2 -7.2 1.7 -4 .7 -8.8 1.1 -4.8 .3 -10.4 .1 -5.6 -.2 -11.7 -1.2 -12.4 -2.2 -6.2 -1.7 -6.3 -2 -6 -2.3 -5.8 -2.8 -5.5 -3.2 -4.9 -3.6 -4.4 -4 -3.5 -4.4 -2.6 -4.7 -1.6 -5 -.5 -5.2 .8 -5.3 1.9 -5.2 3.2 -5.1 4.4 -4.8 5.4 -4.4 6.4 -4 7.2 -3.3 7.8 -2.7 8.1 -1.9 8.4 -1.3 8.5 -.6 8.3 .1 8.1 .7 7.7 1.3 7.3 1.7 6.7 2.1 6.3 2.4 5.7 2.7 5.1 2.8 4.6 3 4.1 3 3.6 3.1 3.1 3.1 5 6 3.5 5.8 2.2 5.4 1.2 5.1 .2 4.7 -.5 4.4 -1.3 4 -2 3.6 -2.7 3.4 -1.6 1.6 -3.7 3 -4.5 2.8 -5.3 2.4 -6.3 2.2 -7.3 1.8 -8.3 1.4 -9.6 1 -5.2 .2 -11.3 0 -6.1 -.3 -12.9 -1.5 -6.7 -1.1 -6.8 -1.6 -6.9 -1.8 -6.8 -2.4 -6.6 -2.7 -6.3 -3.2 -5.9 -3.7 -5.2 -4.2 -4.5 -4.6 -3.5 -5 -2.4 -5.4 -1.2 -5.7 .1 -5.9 1.5 -5.9 3 -5.8 4.3 -5.6 5.7 -5.2 6.8 -4.7 7.7 -4 8.5 -3.3 9.1 -2.5 9.3 -1.7 9.5 -.8 9.3 -.1 9.1 .6 8.6 1.3 8.2 1.8 7.6 2.2 7 2.6 6.4 2.9 5.7 3.1 5.1 3.2 4.6 3.3 4 3.4 3.4 3.3 3.1 3.3 4.7 6.3 3.3 6 2.2 5.6 1.1 5.1 .3 4.8 -.3 4.3 -1 4.1 -.7 1.8 -1.9 3.6 -2.4 3.3 -1.4 1.6 -3.4 2.9 -4 2.8 -4.9 2.5 -5.6 2.3 -6.7 2 -7.8 1.7 -9 1.4 -10.3 .9 -11.7 .3 -13.1 -.5 -7 -.7 -7.3 -.9 -7.6 -1.3 -7.7 -1.7 -7.7 -2.1 -7.7 -2.6 -7.6 -3.1 -7.2 -3.6 -6.6 -4.3 -6 -4.8 -5.1 -5.3 -3.9 -5.9 -2.6 -6.3 -1.1 -6.7 .6 -6.9 2.2 -6.9 4 -6.8 5.6 -6.4 7.1 -5.9 8.4 -5.2 9.5 -4.4 10.3 -3.5 10.7 -2.4 11 -1.5 10.9 -.5 10.6 .3 10.2 1.2 9.6 1.9 8.9 2.4 8.2 2.8 7.4 3.3 6.7 3.4 6 3.6 5.3 3.7 4.7 3.7 4 3.7 3.6 3.6 3 3.6 4.8 6.7 3.4 6.3 1.3 2.9 1.9 5.5 1.4 7.4 .2 6.4 -.7 5.7 -1.5 5 -2.2 4.5 -3.2 4.2 -4.1 3.8 -5.4 3.5 -7 3.2 -9 2.9 -7.4 1.7 -8.7 1.5 -10.2 1.2 -11.9 .7 -13.7 .1 -15.6 -.9 -8.4 -.8 -8.8 -1.2 -9.2 -1.7 -9.4 -2.1 -9.5 -2.7 -9.4 -3.4 -9.3 -4 -8.7 -4.8 -8 -5.6 -7 -6.3 -5.7 -7.1 -3.9 -7.9 -2.1 -8.3 .1 -8.8 2.5 -9 4.8 -8.8 7 -8.5 9.2 -7.7 10.9 -6.9 12.4 -5.6 13.3 -4.4 13.9 -3 14 -1.7 13.9 -.3 13.2 .8 12.6 1.9 11.6 2.6 10.7 3.3 9.6 3.8 8.6 4.2 7.7 4.3 6.8 4.4 5.9 4.5 5.2 4.4 4.5 4.2 7.2 8.1 5.5 7.4 4 6.7 4.5 8.7 7.7 17.1 2.9 4.7 3.3 4 4.2 3.4 5.3 2.8 6.8 2.1 5.5 1 10.2 .7 8.2 0 9.6 -.7 11.2 -1.3 12.9 -2.1 14.5 -3.1 16.1 -4.2 8.6 -2.5 17.7 -6.2 8.9 -3.5 8.8 -3.8 8.4 -4.1 7.9 -4.3 6.9 -4.4 5.9 -4.4 4.5 -4.3 2.8 -4.1 .9 -3.7 -1.1 -3.3 -3.2 -2.5 -5.4 -1.9 -7.4 -1 -9.2 -.3 -10.7 .5 -11.8 1.1 -12.6 1.7 -26 4.5 -25 5.1 -22.1 4.9 -26.5 6 -18.7 4.6 -8.9 2.6 -6.6 2.3 -5 2.3 -1.9 1.2 -3.2 2.4 -2.3 2.5 -2.6 3.8 -1.8 3.9 -3.8 9.2 -1.9 3.7 -1.6 2.4 -3.8 4.6 -2.5 2.2 -2.9 2.1 -3.5 2 -4.2 1.9 -7.7 2.8 -10.1 2.5 -8.3 1.5 -15.3 1.7 -12.5 .7 -14.6 0 -16.6 -.9 -9 -.9 -9.5 -1.4 -9.9 -1.7 -10.2 -2.4 -10.3 -2.9 -10.3 -3.7 -10.1 -4.4 -9.5 -5.3 -8.7 -6.1 -7.5 -7.1 -5.9 -8 -4.1 -8.7 -1.7 -9.4 .7 -9.8 3.4 -10 6 -9.7 8.6 -9.3 10.9 -8.3 12.8 -7.2 14.2 -5.8 15.1 -4.3 15.5 -2.7 15.4 -1.2 15 .3 14.3 1.4 13.2 2.6 12.2 3.3 11 3.9 9.9 4.4 8.7 4.6 7.7 4.8 6.8 4.8 5.9 4.7 5.1 4.6 8.3 8.7 6.2 7.9 4.8 7 10.8 18.7 2.5 4 2.6 3.5 2.9 3 5.1 3.9 3.9 2.1 7.3 2.5 5.8 1.2 10.5 .9 8.4 -.1 15 -1.2 11.6 -1.7 13 -2.6 14.2 -3.6 14.9 -4.6 7.6 -2.6 14.8 -6.1 6.9 -3.3 6.4 -3.5 5.7 -3.6 4.8 -3.5 3.6 -3.5 2.4 -3.3 .8 -3 -.7 -2.6 -2.4 -2.2 -4 -1.6 -5.6 -1.1 -7.1 -.5 -8.2 .2 -9.3 .6 -10 1.1 -10.5 1.5 -10.7 1.7 -20.9 3.9 -27.8 6 -27.6 6.7 -9.7 2.8 -7.4 2.5 -2.9 1.2 -4.7 2.4 -1.8 1.1 -2.7 2.4 -1.7 2.4 -1 2.4 -.4 2.4 .5 3.7 1.3 3.5 1.5 2.2 2.8 3.2 2.5 1.9 3 1.8 3.6 1.5 4.2 1.3 5.1 1.1 9.3 .9 11.9 0 15.1 -1.2 12 -1.8 13.8 -2.6 15.5 -3.7 17 -4.8 8.9 -3 18.1 -6.8 9 -3.9 8.5 -4.1 8.1 -4.4 7.1 -4.5 6 -4.5 4.7 -4.4 2.9 -4.2 1 -3.8 -1.1 -3.3 -3.2 -2.7 -5.5 -1.9 -7.5 -1 -9.3 -.3 -10.9 .5 -12.1 1.2 -12.8 1.7 -26.5 4.6 -25.4 5.2 -32.4 7.2 -30.3 7.1 -14.5 3.9 -9.4 3.5 -2.3 1.2 -3.7 2.3 -3.9 3.7 -1.9 2.5 -1.5 2.6 -4.6 9.3 -2.1 3.8 -2.7 3.7 -3.3 3.6 -4.2 3.4 -3.5 2.1 -6.5 3.1 -5.3 1.9 -10 2.6 -12.7 2.2 -10.5 1.1 -12.1 .7 -14.1 .1 -7.8 -.3 -17 -1.5 -9.2 -1.2 -9.5 -1.7 -9.8 -2.3 -9.9 -2.8 -9.9 -3.5 -9.6 -4.2 -9.2 -5 -8.3 -5.8 -7.3 -6.7 -5.8 -7.5 -4.1 -8.3 -1.9 -8.9 .3 -9.3 2.9 -9.4 5.3 -9.3 7.8 -8.8 9.9 -8.1 11.8 -7.1 13.3 -5.8 14.2 -4.3 14.7 -2.9 14.7 -1.5 14.5 0 13.7 1.1 13 2.1 11.9 3 10.9 3.6 9.7 4.1 8.8 4.4 7.7 4.5 6.8 4.7 5.9 4.5 5.1 4.5 4.5 4.4 7.3 8.2 5.4 7.5 5.9 9.7 9.8 18.7 3.5 5.1 4 4.2 4.9 3.4 4 1.9 7.2 2.2 5.9 1 10.7 .7 8.7 -.1 15.5 -1.4 12.1 -1.9 13.7 -2.8 15.1 -3.8 16 -5 8.2 -2.9 8.2 -3.2 8 -3.4 7.6 -3.7 7.2 -3.8 6.3 -4 5.3 -3.9 4.2 -3.9 2.6 -3.7 1 -3.3 -.7 -3 -2.7 -2.4 -4.5 -1.8 -6.3 -1.1 -7.9 -.4 -9.3 .2 -10.3 .8 -11.2 1.4 -11.6 1.7 -11.8 2 -22.8 4.5 -38.4 8.5 -25.9 6.4 -8.8 2.6 -6.6 2.4 -4.9 2.4 -3.5 2.4 -2.4 2.4 -1.7 2.4 -1.4 3.8 -.6 3.8 .2 5.1 .9 4.7 1.2 3.3 1.6 3.1 2.1 2.8 2.8 2.4 3.6 2.2 3.1 1.2 5.7 1.4 4.8 .7 5.7 .4 6.8 0 12.8 -.7 16.6 -2.1 13.5 -2.4 15.8 -3.4 18 -4.7 20.1 -6.1 10.6 -3.7 10.9 -4.2 11 -4.5 10.9 -5 10.4 -5.3 9.6 -5.6 8.5 -5.7 7 -5.8 5 -5.6 2.7 -5.1 0 -4.6 -2.9 -3.7 -5.8 -2.8 -8.7 -1.7 -11.3 -.5 -13.4 .6 -15.1 1.6 -16.2 2.3 -16.7 3 -32.7 6.7 -54.4 12.1 -46.8 10 -12.2 3.2 -5.8 2 -6.4 3.1 -5 3.5 -11 8.8 -3.7 2.4 -4.3 2.5 -7.7 3.3 -9.5 3 -11.7 2.2 -9.1 1 -10.4 .5 -5.6 0 -11.9 -.7 -12.9 -1.7 -6.7 -1.3 -6.7 -1.7 -6.7 -2 -6.7 -2.5 -6.3 -2.9 -6 -3.3 -5.6 -3.9 -4.8 -4.3 -4 -4.7 -3 -5.1 -1.9 -5.4 -.6 -5.7 .7 -5.8 2 -5.7 3.5 -5.6 4.8 -5.4 5.9 -4.9 7.1 -4.3 7.9 -3.7 8.5 -2.9 9 -2.1 9.2 -1.3 9.3 -.6 9 .2 8.8 .8 8.3 1.5 7.8 1.9 7.3 2.3 6.6 2.7 6.1 2.9 5.4 3.1 4.8 3.2 4.3 3.3 3.8 3.3 3.2 3.3 2.8 3.2 4.5 6.2 3 5.9 1.8 5.4 1 5 .1 4.7 -.6 4.2 -.5 2.1 -1.5 3.7 -2.1 3.5 -1.3 1.7 -3.1 3.1 -3.7 2.9 -4.4 2.6 -5.3 2.4 -6.1 2.2 -7.3 1.9 -8.3 1.6 -9.7 1.1 -10.9 .6 -12.4 -.2 -6.6 -.4 -14.1 -1.7 -7.4 -1.3 -7.6 -1.7 -7.5 -2.2 -7.5 -2.6 -7.3 -3.1 -7 -3.7 -6.4 -4.2 -5.6 -4.8 -4.8 -5.3 -3.6 -5.8 -2.3 -6.2 -.9 -6.5 .8 -6.7 2.4 -6.7 4 -6.5 5.6 -6.2 7.1 -5.7 8.2 -4.9 9.3 -4.2 10 -3.2 10.5 -2.4 10.6 -1.3 10.6 -.4 10.3 .4 9.9 1.2 9.3 1.8 8.7 2.4 7.9 2.8 7.2 3.1 6.6 3.4 5.8 3.5 5.1 3.6 4.6 3.7 3.9 3.6 3.4 3.6 5.5 6.8 3.9 6.4 1.5 3 2.2 5.7 .8 2.7 .9 4.9 .4 4.6 -.4 6.1 -1.4 5.4 -2.3 4.9 -3.2 4.4 -4.3 4 -5.7 3.6 -4.6 2.3 -8.7 3.1 -7 1.8 -8.3 1.6 -9.7 1.3 -11.3 .8 -12.9 .3 -14.7 -.6 -8 -.7 -8.3 -1.1 -8.7 -1.4 -8.9 -1.9 -9.1 -2.4 -9.1 -2.9 -8.9 -3.6 -8.5 -4.3 -7.9 -5 -7.1 -5.7 -6 -6.4 -4.5 -7.2 -2.8 -7.7 -.9 -8.1 1.2 -8.4 3.4 -8.5 5.6 -8.1 7.6 -7.7 9.4 -7 11 -5.9 12.1 -4.9 12.9 -3.5 13.2 -2.3 13.2 -1.1 12.9 .1 12.4 1.2 11.6 2 10.8 2.8 9.8 3.3 8.9 3.8 7.9 4 7.1 4.2 6.2 4.2 5.4 4.3 4.8 4.2 4.1 4.1 6.7 7.8 4.9 7.1 5.2 9.4 3.4 8 4.9 14.5 1.9 4.8 2.2 4.2 2.6 3.6 2.1 2.1 2.4 2 4.6 2.5 5.9 1.9 7.6 1.3 9.8 .6 12.7 -.4 16.1 -1.7 13 -2.2 15 -3.1 17 -4.3 18.6 -5.7 9.8 -3.4 9.9 -3.7 9.9 -4.1 9.7 -4.5 9.3 -4.7 8.5 -5 7.4 -5.1 6.1 -5 4.2 -4.9 2.3 -4.5 -.1 -4 -2.5 -3.3 -5.1 -2.5 -7.5 -1.5 -9.7 -.6 -11.7 .3 -13.1 1.2 -14.2 1.8 -14.7 2.4 -29.4 5.7 -26.9 5.8 -62.7 14.2 -13.8 3.6 -6.4 2.2 -4.8 2.2 -5.3 3.5 -3.9 3.7 -9.2 10.6 -2.8 2.6 -3.2 2.5 -3.7 2.5 -4.3 2.4 -5.1 2.2 -5.9 2.1 -6.9 1.8 -8.1 1.6 -14.5 1.8 -11.4 .6 -6.3 0 -13.7 -.6 -15.1 -1.8 -7.9 -1.3 -8.1 -1.8 -8.1 -2.3 -8.1 -2.8 -8 -3.3 -7.5 -3.9 -7 -4.5 -6.3 -5.2 -5.2 -5.8 -3.9 -6.3 -2.5 -6.8 -.9 -7.2 1 -7.3 2.8 -7.4 4.6 -7.2 6.4 -6.7 8 -6.2 9.3 -5.3 10.4 -4.5 11.1 -3.4 11.6 -2.3 11.7 -1.2 11.5 -.2 11.1 .7 10.6 1.5 9.9 2.2 9.2 2.7 8.3 3.2 7.5 3.5 6.8 3.7 6 3.9 5.2 3.8 4.7 3.9 4 3.8 6.5 7.4 4.7 6.9 1.9 3.2 2.9 6 2 5.5 1.3 5 .7 4.5 .4 4.1 0 7.3 -1 6.3 -1.2 4.1 -1.1 2.6 -2.9 4.7 -1.9 2.2 -2.3 2.1 -4.2 3 -5.6 2.9 -7.2 2.6 -9.5 2.5 -12.4 2.1 -16 1.6 -13.1 .6 -15.2 -.1 -8.4 -.4 -9 -.7 -9.5 -1.1 -10 -1.4 -10.4 -2 -10.6 -2.6 -10.8 -3.2 -10.7 -4 -10.4 -4.9 -9.8 -5.8 -8.7 -6.7 -7.4 -7.7 -5.7 -8.6 -3.5 -9.5 -.9 -10 1.7 -10.5 4.6 -10.4 7.5 -10.2 10.1 -9.4 12.3 -8.4 14.2 -7 15.5 -5.5 16.1 -3.7 16.4 -2.1 16 -.6 15.4 1 14.5 2.1 13.3 3.1 12.1 3.8 10.9 4.4 9.6 4.7 8.5 4.9 7.5 5 6.5 4.9 5.7 4.9 4.9 4.6 7.9 8.7 3.3 4 5.2 7.4 13.5 21.3 2.9 3.7 3.2 3.3 3.4 2.8 1.9 1.2 4.3 2.2 2.3 .9 5.2 1.6 2.9 .6 10.2 1.2 8 .1 9.2 -.4 10.3 -1.2 11.6 -1.8 12.7 -2.8 13.5 -3.6 13.9 -4.6 6.9 -2.6 13.1 -5.8 5.9 -3.2 5.3 -3.2 4.4 -3.2 3.5 -3.1 2.3 -3 1 -2.7 -.3 -2.5 -1.8 -2 -3.2 -1.6 -4.7 -1.1 -6 -.6 -7.1 -.1 -8.1 .3 -8.8 .8 -18.9 2.6 -28.3 5.3 -24.6 5.4 -24.1 6.1 -8.5 2.6 -6.4 2.5 -2.5 1.1 -3.9 2.4 -2.7 2.3 -1.5 2.3 -.8 2.3 0 2.3 .7 2.3 2 3.3 2 2.1 2.6 2 3.2 1.7 3.8 1.6 4.6 1.3 5.4 1.1 10 .8 12.5 -.1 9.9 -.9 11.4 -1.5 12.9 -2.4 14.2 -3.3 15.3 -4.4 15.9 -5.5 7.8 -3.1 7.7 -3.4 7.3 -3.6 6.7 -3.7 5.9 -3.8 4.8 -3.8 3.7 -3.7 2.2 -3.5 .5 -3.1 -1.1 -2.7 -2.9 -2.2 -4.7 -1.6 -6.3 -.9 -7.9 -.3 -9.1 .3 -10.2 .8 -10.8 1.4 -22.5 3.6 -32.2 6.5 -33.8 7.7 -12.4 3.1 -9.6 2.7 -10.3 3.7 -4.6 2.4 -3.3 2.3 -2.2 2.4 -1.5 2.5 -1 3.7 -.1 3.8 .6 3.7 1.8 4.6 2.1 3.2 2.9 2.9 3.8 2.6 3.1 1.5 3.7 1.3 4.4 1 5.3 .8 6.2 .4 11.7 -.1 14.9 -1.3 12.1 -1.7 14.1 -2.7 16 -3.7 18 -5 19.4 -6.4 10.1 -3.8 10 -4.2 9.8 -4.5 9.4 -4.8 8.6 -5 7.6 -5.2 6.2 -5.1 4.4 -4.9 2.3 -4.6 -.1 -4.1 -2.5 -3.4 -5.1 -2.5 -7.6 -1.6 -9.9 -.6 -11.8 .4 -13.3 1.2 -14.4 1.9 -14.9 2.4 -29.7 5.8 -27.3 5.9 -63.1 14.2 -13.8 3.6 -6.5 2.2 -4.8 2.2 -5.4 3.5 -4 3.7 -9.7 10.5 -2.9 2.6 -3.4 2.5 -4 2.5 -4.6 2.3 -8.3 3.2 -6.8 1.9 -7.9 1.7 -14.1 1.8 -11.2 .6 -6.1 .1 -13.4 -.5 -14.7 -1.6 -7.7 -1.3 -7.9 -1.7 -8 -2.1 -8 -2.7 -7.8 -3.1 -7.4 -3.7 -7 -4.4 -6.2 -4.9 -5.3 -5.5 -4.2 -6.1 -2.7 -6.5 -1.2 -6.9 .5 -7.2 2.3 -7.2 4.1 -7 5.9 -6.7 7.4 -6.2 8.8 -5.4 9.8 -4.5 10.7 -3.6 11.2 -2.5 11.4 -1.5 11.3 -.5 11 .5 10.5 1.2 9.9 2 9.1 2.5 8.4 3 7.6 3.4 6.9 3.6 6.1 3.7 5.3 3.8 4.8 3.8 4.1 3.8 6.7 7.3 4.8 6.9 3.6 6.3 2.4 5.8 2.1 7.7 .9 6.7 .1 4 -.2 3.7 -.6 3.4 -.7 3.2 -1.1 2.9 -1.3 2.8 -1.6 2.6 -2 2.5 -3.7 3.5 -4.7 3.3 -6.3 3 -8.1 2.8 -10.5 2.5 -8.7 1.5 -10.2 1.1 -12 .8 -13.9 .2 -15.9 -.7 -8.8 -.7 -9.2 -1.2 -9.6 -1.5 -9.9 -2.1 -10.1 -2.6 -10.2 -3.3 -10 -4 -9.7 -4.8 -8.9 -5.7 -8 -6.5 -6.6 -7.4 -4.9 -8.3 -2.8 -8.9 -.5 -9.5 2.1 -9.7 4.6 -9.7 7.3 -9.4 9.6 -8.6 11.6 -7.7 13.3 -6.4 14.5 -5 15 -3.4 15.3 -1.9 15 -.5 14.4 .9 13.5 1.9 12.6 2.9 11.4 3.6 10.4 4.1 9.2 4.4 8.1 4.7 7.2 4.7 6.2 4.7 5.5 4.6 4.7 4.5 7.7 8.4 5.8 7.6 6.2 10 7.1 12.9 3.6 6 3.9 5 2.9 2.8 5.2 3.6 4.1 2 7.6 2.2 6.1 1 11 .6 8.8 -.2 15.7 -1.6 12.3 -2 13.5 -2.9 14.8 -3.9 15.5 -5 7.8 -2.9 7.6 -3.2 7.4 -3.4 6.9 -3.5 6.3 -3.7 5.5 -3.7 4.3 -3.6 3.1 -3.6 1.7 -3.3 0 -2.9 -1.7 -2.5 -3.4 -1.9 -5.1 -1.4 -6.6 -.7 -8.1 -.1 -9.2 .4 -10.1 1 -21.7 3.1 -11.1 1.9 -21.2 4.2 -27.5 6.1 -26.5 6.6 -9.2 2.7 -6.9 2.4 -2.8 1.2 -4.3 2.4 -3.1 2.3 -2 2.4 -1.3 2.5 -.7 3.7 0 2.4 .8 3.7 1.6 3.5 2.2 3.2 3.2 3 2.6 1.8 3.1 1.6 3.8 1.3 4.4 1.2 5.3 .8 9.7 .7 12.6 -.4 15.9 -1.6 12.9 -2.1 14.7 -3 16.5 -4.2 18.1 -5.4 9.5 -3.3 9.6 -3.6 9.6 -4 9.4 -4.3 8.9 -4.6 8.2 -4.7 7.1 -4.9 5.9 -4.8 4.1 -4.7 2.2 -4.4 0 -3.8 -2.4 -3.2 -4.8 -2.4 -7.1 -1.5 -9.2 -.7 -11.1 .2 -12.5 1.1 -13.5 1.7 -14.1 2.2 -28.3 5.4 -26.2 5.6 -61.7 14 -13.7 3.7 -8.9 3.4 -4.1 2.3 -4.5 3.6 -3.4 3.8 -7.9 10.6 -3.8 3.9 -2.9 2.5 -3.5 2.4 -4 2.4 -4.8 2.2 -5.6 2 -6.5 2 -7.7 1.6 -14 2 -11.3 .8 -6.2 .2 -13.6 -.2 -7.4 -.5 -16 -1.9 -8.4 -1.4 -8.6 -2 -8.7 -2.4 -8.7 -3 -8.5 -3.6 -8 -4.2 -7.5 -5 -6.6 -5.6 -5.4 -6.3 -4 -6.9 -2.4 -7.4 -.5 -7.9 1.4 -8 3.5 -7.9 5.6 -7.8 7.4 -7.2 9.1 -6.5 10.6 -5.5 11.6 -4.5 12.2 -3.3 12.6 -2.1 12.6 -.9 12.3 .1 11.8 1.2 11.1 1.9 10.3 2.7 9.4 3.2 8.5 3.5 7.7 3.9 6.8 4 6 4.1 5.2 4.1 4.6 4.1 4 4 3.5 3.8 2.9 3.8 4.8 6.9 3.5 6.4 3.5 8.4 2.8 9.3 4.4 19.6 1.7 4.7 2.3 4.1 1.5 1.7 1.8 1.7 2.1 1.4 2.6 1.3 3 1.2 3.6 .9 6.8 1 5.8 .3 6.8 0 12.9 -.9 16.7 -2.2 21.4 -4.1 17.2 -4.1 19.5 -5.6 21.4 -7.1 11.2 -4.3 11.3 -4.7 11.1 -5.1 10.7 -5.5 9.9 -5.8 8.8 -5.9 7.1 -6 5.1 -5.7 2.7 -5.3 -.2 -4.7 -3.1 -3.9 -6.2 -2.7 -9.1 -1.7 -11.8 -.4 -14.1 .7 -15.7 1.8 -16.8 2.5 -17.2 3.1 -17.1 3.4 -71.8 15.9 -46.9 9.9 -12.2 3.1 -5.8 1.9 -6.5 3.1 -5.2 3.4 -9.8 7.3 -6 3.7 -7.2 3.4 -8.9 3 -10.8 2.4 -8.6 1.2 -9.6 .7 -10.6 0 -11.7 -.8 -12.4 -1.8 -6.4 -1.4 -6.4 -1.7 -6.3 -2.1 -6.2 -2.5 -6 -2.9 -5.5 -3.3 -5 -3.8 -4.4 -4.1 -3.5 -4.6 -2.6 -4.9 -1.4 -5.2 -.3 -5.3 .9 -5.5 2.3 -5.4 3.5 -5.2 4.7 -4.9 5.8 -4.5 6.7 -3.9 7.5 -3.3 8.1 -2.6 8.5 -1.9 8.7 -1.2 8.7 -.4 8.5 .2 8.2 .9 7.8 1.4 7.4 1.9 6.8 2.2 6.3 2.5 5.7 2.8 5.1 3 4.6 3 4 3.1 3.6 3.2 3.1 3.1 4.9 6.1 3.4 5.9 2.2 5.5 1.1 5.1 .2 4.7 -.5 4.3 -1.2 4 -1.9 3.7 -2.6 3.4 -1.5 1.6 -3.6 3 -4.3 2.8 -5.2 2.5 -6.1 2.2 -7 1.9 -8.2 1.6 -9.4 1.1 -5.1 .3 -11.2 .2 -6.1 -.2 -12.9 -1.1 -6.8 -1 -7 -1.4 -7.1 -1.7 -7 -2.1 -7 -2.5 -6.7 -3 -6.4 -3.5 -5.8 -4 -5.1 -4.5 -4.3 -5 -3.2 -5.4 -2 -5.8 -.6 -6 .8 -6.1 2.2 -6.1 3.8 -6 5.1 -5.6 6.5 -5.2 7.5 -4.6 8.5 -3.8 9.2 -3 9.6 -2.2 9.7 -1.3 9.8 -.5 9.5 .3 9.2 1 8.7 1.6 8.2 2.2 7.5 2.5 6.8 2.9 6.2 3.1 5.6 3.3 4.9 3.3 4.4 3.5 3.8 3.4 3.3 3.4 5.3 6.5 3.8 6.2 2.5 5.8 1.4 5.3 .5 2.5 .3 4.7 -.4 4.3 -.4 2 -1.2 3.8 -2.7 5.2 -2.5 3.2 -4.9 4.3 -4.1 2.6 -7.6 3.6 -6.3 2.1 -7.2 1.9 -8.5 1.5 -9.8 1.2 -11.3 .6 -12.7 0 -6.9 -.4 -14.8 -1.5 -7.8 -1.3 -8 -1.7 -8.1 -2.1 -8.1 -2.7 -7.9 -3.2 -7.7 -3.7 -7 -4.4 -6.4 -5 -5.4 -5.5 -4.2 -6.2 -2.9 -6.6 -1.2 -7.1 .5 -7.2 2.3 -7.3 4.2 -7.2 5.9 -6.9 7.6 -6.2 8.9 -5.5 10.1 -4.7 10.9 -3.6 11.3 -2.6 11.6 -1.4 11.5 -.5 11.2 .5 10.6 1.3 10 2 9.3 2.6 8.5 3 7.7 3.4 6.9 3.7 6.1 3.8 5.5 3.8 4.7 3.9 4.2 3.8 6.7 7.4 4.9 6.9 3.6 6.4 1.3 2.9 2.1 5.6 1.8 7.3 .5 4.4 .2 4 -.4 7.1 -1.3 6.1 -2.3 5.3 -1.5 2.5 -1.8 2.3 -2.2 2.3 -2.5 2.1 -4.9 3 -6.3 2.9 -8.3 2.6 -10.8 2.4 -8.9 1.4 -10.5 1.1 -12.4 .7 -14.4 .1 -16.6 -.8 -9.1 -.8 -9.5 -1.2 -10 -1.7 -10.3 -2.2 -10.6 -2.8 -10.5 -3.5 -10.4 -4.3 -9.9 -5.2 -9.2 -6.1 -8 -7 -6.6 -7.9 -4.6 -8.8 -2.4 -9.5 .2 -10 2.8 -10.2 5.6 -10.2 8.4 -9.6 10.7 -8.8 12.8 -7.7 14.4 -6.2 15.4 -4.7 15.9 -3.1 15.9 -1.5 15.5 0 14.7 1.4 13.7 2.4 12.7 3.3 11.4 4 10.2 4.4 9.1 4.7 8 4.8 7 4.9 6.2 4.8 5.3 4.7 4.6 4.6 4 4.3 6.4 8 7.1 10.4 10.6 17.7 4.2 5.4 3.2 3 3.5 2.6 1.9 1.1 4.3 2.1 5 1.6 2.8 .6 6.3 1 11.2 .6 8.9 -.3 15.7 -1.6 12.1 -2.1 13.2 -3 14.1 -4 14.5 -4.9 7.2 -2.8 6.9 -3 6.5 -3.2 6.1 -3.3 5.3 -3.4 4.4 -3.3 3.3 -3.3 2.1 -3.1 .6 -2.8 -.8 -2.5 -2.4 -2 -3.9 -1.5 -5.4 -1 -6.7 -.4 -7.9 .1 -8.8 .6 -9.5 1 -20 3 -29.3 5.6 -31.9 7.3 -11.9 3 -9.4 2.8 -7.2 2.5 -5.3 2.3 -3.8 2.4 -2.6 2.3 -1.5 2.4 -.5 1.1 -.4 2.4 .5 3.6 1.6 3.4 2.8 3.2 3.9 2.9 3.3 1.8 3.9 1.5 4.7 1.2 5.5 1 6.6 .6 7.6 .1 13.9 -.7 M1072.2 868.1l-8.6 .1 -4.5 -.2 -9.4 -1 -4.8 -.9 -9.7 -2.3 -4.7 -1.6 -4.6 -1.8 -4.4 -2.2 -4.1 -2.4 -3.8 -2.7 -3.2 -3 -2.8 -3.2 -2 -3.4 -1.4 -3.7 -.7 -3.7 .2 -3.8 1 -3.8 1.9 -3.7 2.7 -3.6 3.4 -3.3 4.1 -3 4.8 -2.7 5.3 -2.3 5.6 -1.8 6 -1.3 6.1 -.9 6.2 -.4 6.1 .1 6 .4 5.8 .9 5.5 1.2 5.2 1.5 4.8 1.8 4.5 2 4.1 2.1 3.6 2.3 6.2 4.8 2.5 2.4 4 4.9 2.7 4.8 1.6 4.6 .5 4.3 -.5 4.1 -1.4 3.8 -2.2 3.4 -3 3.2 -3.8 2.8 -4.6 2.5 -5.5 2.1 -6.3 1.8 -7.3 1.2 -8 .8 -8.9 .1 -9.5 -.7 -5 -.6 -10.1 -2 -5 -1.5 -4.9 -1.7 -4.8 -2 -4.6 -2.3 -4.2 -2.6 -3.8 -2.9 -3.3 -3.2 -2.7 -3.4 -2 -3.7 -1.3 -3.9 -.4 -4 .5 -4 1.4 -4 2.2 -3.9 3.1 -3.7 3.9 -3.5 4.7 -3.1 5.2 -2.7 5.8 -2.2 6.1 -1.7 6.4 -1.2 6.5 -.8 6.6 -.2 6.4 .3 6.2 .7 6 1.1 5.7 1.4 5.3 1.7 4.9 2 4.5 2.1 4 2.3 6.9 4.9 2.9 2.6 4.6 5.1 3.2 5 2 4.8 .8 4.6 -.1 4.3 -.9 3.9 -1.9 3.7 -2.6 3.3 -1.7 1.6 -3.8 2.9 -4.7 2.5 -5.6 2.2 -6.4 1.8 -7.3 1.4 -8.3 .8 -9.1 .2 -9.8 -.5 -5.2 -.6 -10.5 -1.9 -5.4 -1.4 -5.2 -1.7 -5.2 -1.9 -4.9 -2.4 -4.6 -2.6 -4.2 -3 -3.7 -3.3 -3.1 -3.5 -2.4 -3.9 -1.6 -4.1 -.7 -4.2 .3 -4.3 1.2 -4.3 2.1 -4.2 3.1 -4 4 -3.8 4.8 -3.4 5.5 -2.9 6.1 -2.5 6.4 -2 6.8 -1.4 6.9 -.9 7 -.3 6.8 .2 6.7 .7 6.4 1.1 6 1.4 5.7 1.8 5.2 2.1 4.8 2.2 4.3 2.4 3.9 2.6 3.5 2.6 5.7 5.3 4.2 5.3 2.8 5.2 1.6 4.9 .6 4.6 -.4 4.2 -1.2 4 -2 3.7 -2.8 3.3 -1.7 1.5 -4.1 2.9 -4.8 2.6 -5.7 2.2 -6.7 1.8 -7.5 1.4 -8.6 .9 -9.5 .2 -10.3 -.5 -5.4 -.6 -11.2 -1.9 -5.6 -1.4 -5.6 -1.7 -5.5 -2.1 -5.3 -2.4 -5 -2.8 -4.5 -3.1 -4.1 -3.5 -3.3 -3.8 -2.7 -4.1 -1.7 -4.3 -.8 -4.5 .1 -4.7 1.3 -4.6 2.3 -4.5 3.3 -4.4 4.3 -4 5.2 -3.7 5.9 -3.2 6.6 -2.7 7 -2.1 7.3 -1.5 7.4 -.9 7.5 -.3 7.3 .3 7.1 .8 6.8 1.2 6.4 1.6 5.9 2 5.5 2.2 5.1 2.4 4.5 2.6 4.1 2.7 3.6 2.8 5.9 5.6 4.3 5.6 2.9 5.3 1.8 5.1 .7 4.7 -.3 4.4 -1 4.1 -1.9 3.8 -2.6 3.4 -1.6 1.6 -3.8 3 -4.6 2.7 -2.6 1.3 -5.9 2.2 -6.8 1.8 -7.9 1.5 -8.8 .9 -9.9 .3 -10.9 -.5 -5.7 -.5 -11.9 -2 -6 -1.4 -6.1 -1.8 -5.9 -2.1 -5.7 -2.5 -5.5 -2.9 -5 -3.3 -4.5 -3.7 -3.8 -4 -2.9 -4.4 -2.1 -4.7 -1 -4.9 .1 -5 1.3 -5.1 2.4 -4.9 3.6 -4.8 4.7 -4.5 5.6 -4 6.5 -3.5 7.1 -3 7.7 -2.2 7.9 -1.6 8.1 -1 8.1 -.3 7.9 .4 7.7 .9 7.3 1.3 6.8 1.8 6.4 2.2 5.8 2.4 5.3 2.6 4.8 2.8 4.3 2.9 3.8 3 3.3 3 2.8 3 4.6 5.8 3.1 5.6 1.9 5.3 .8 4.9 .1 2.3 -.4 4.4 -1.2 4.1 -.9 1.9 -2.3 3.5 -3.1 3.3 -1.7 1.6 -4.2 2.8 -5 2.6 -2.8 1.2 -6.3 2.1 -7.3 1.8 -8.4 1.3 -9.6 .9 -10.6 .2 -11.8 -.6 -6.2 -.7 -12.9 -2.2 -6.5 -1.7 -6.6 -2 -6.4 -2.4 -6.2 -2.8 -5.9 -3.2 -5.4 -3.8 -4.7 -4.1 -3.9 -4.6 -3 -5 -1.9 -5.2 -.6 -5.5 .6 -5.6 1.9 -5.6 3.3 -5.5 4.5 -5.2 5.7 -4.7 6.8 -4.3 7.5 -3.6 8.3 -2.9 8.7 -2.1 8.9 -1.4 9 -.6 8.8 .1 8.6 .7 8.1 1.4 7.7 1.8 7.2 2.2 6.5 2.6 6 2.8 5.4 3 4.8 3.1 4.3 3.2 3.7 3.2 3.3 3.2 5.1 6.3 3.7 6 2.4 5.6 .8 2.6 .9 5 0 4.7 -.2 2.1 -1 4.1 -.8 1.9 -1.9 3.7 -2.6 3.3 -1.6 1.6 -3.6 2.9 -2 1.4 -4.7 2.6 -8.8 3.5 -7 1.9 -8.2 1.6 -4.6 .6 -10 .9 -11.3 .3 -12.6 -.6 -13.7 -1.5 -7.2 -1.3 -7.3 -1.7 -7.3 -2 -7.3 -2.5 -7 -3 -6.8 -3.5 -6.2 -4.1 -5.5 -4.5 -4.7 -5.1 -3.6 -5.5 -2.3 -5.9 -1 -6.3 .5 -6.4 2.1 -6.4 3.6 -6.3 5.2 -6 6.5 -5.5 7.8 -4.9 8.7 -4.1 9.5 -3.3 10 -2.3 10.2 -1.5 10.2 -.6 9.9 .2 9.7 1 9.1 1.6 8.5 2.2 7.8 2.6 7.2 3 6.4 3.2 5.8 3.4 5.2 3.5 4.5 3.5 4 3.5 3.5 3.5 5.5 6.7 3.9 6.4 1.5 3 2.2 5.6 .7 2.7 .9 5 .1 6.6 -1.1 5.9 -1.4 3.6 -1.8 3.3 -2.3 3.1 -2.8 2.9 -5.3 4 -6.9 3.6 -8.8 3.1 -11.3 2.7 -9.1 1.4 -10.5 1 -5.9 .3 -12.9 .1 -14.5 -.8 -7.8 -.9 -8.1 -1.2 -8.3 -1.5 -8.6 -2.1 -8.5 -2.5 -8.5 -3.1 -8.3 -3.8 -7.7 -4.3 -7.1 -5.1 -6.2 -5.7 -5 -6.3 -3.5 -6.9 -1.9 -7.4 0 -7.8 1.9 -7.8 4 -7.8 5.8 -7.4 7.7 -7 9.3 -6.1 10.6 -5.2 11.5 -4.1 12.2 -3 12.3 -1.8 12.3 -.7 12 .4 11.4 1.3 10.8 2.1 9.9 2.7 9.1 3.2 8.2 3.6 7.4 3.8 6.5 4 5.8 4 5 4.1 4.4 4 3.8 3.9 3.4 3.8 2.8 3.6 4.5 6.9 3.3 6.2 2.4 5.7 2.3 7.5 1.5 6.4 1.1 7.3 1.6 12.8 1.2 6.5 .8 2.8 1.2 2.5 1.4 2.3 1.9 2 2.5 1.7 3.3 1.5 4.4 1.1 3.7 .6 7.1 .4 6 -.1 7.2 -.4 8.7 -.8 M1075.4 871.1l-9 .2 -9.8 -.4 -10.3 -1.3 -5.3 -1 -10.6 -2.8 -5.2 -1.9 -5 -2.2 -4.8 -2.5 -4.3 -2.8 -4 -3.2 -3.3 -3.4 -2.7 -3.8 -1.9 -3.9 -1.1 -4.2 -.2 -4.2 .8 -4.3 1.8 -4.3 2.7 -4.1 3.6 -3.9 4.4 -3.5 5.2 -3.2 5.8 -2.7 6.3 -2.1 6.7 -1.7 6.8 -1.1 6.9 -.5 6.9 -.1 6.8 .5 6.5 .9 6.1 1.3 5.8 1.7 5.4 1.9 5 2.2 4.5 2.4 4.1 2.4 3.7 2.6 3.2 2.7 2.8 2.6 4.5 5.3 3 5.2 1.9 5 .8 4.6 -.2 4.4 -1 4 -1.9 3.7 -2.6 3.4 -1.7 1.6 -3.8 2.9 -4.7 2.6 -5.5 2.3 -6.5 1.9 -7.4 1.5 -8.3 1 -9.3 .3 -10.1 -.3 -5.4 -.5 -11.1 -1.7 -5.6 -1.3 -5.6 -1.6 -5.5 -2 -5.4 -2.2 -5.1 -2.6 -4.7 -3 -4.2 -3.4 -3.7 -3.6 -2.9 -4 -2.1 -4.2 -1.2 -4.5 -.2 -4.6 .8 -4.6 1.9 -4.6 3 -4.4 3.9 -4.1 4.8 -3.9 5.7 -3.4 6.3 -2.8 6.8 -2.4 7.2 -1.7 7.3 -1.1 7.5 -.5 7.3 0 7.2 .6 6.9 1 6.6 1.5 6.1 1.8 5.6 2.1 5.2 2.4 4.8 2.5 4.2 2.7 3.8 2.7 3.3 2.8 5.4 5.6 3.9 5.5 2.5 5.3 1.4 5 .4 4.6 -.5 4.3 -1.3 4 -2.1 3.6 -2.9 3.4 -1.7 1.5 -4 2.9 -4.9 2.6 -2.8 1.2 -6.1 2.1 -7.2 1.7 -8.2 1.3 -9.2 .8 -10.2 0 -11.1 -.7 -5.8 -.8 -12 -2.3 -6 -1.7 -5.9 -2 -5.8 -2.3 -5.6 -2.8 -5.1 -3.1 -4.7 -3.6 -4 -3.9 -3.2 -4.3 -2.4 -4.5 -1.4 -4.8 -.2 -5 .8 -5.1 2.1 -5 3.2 -4.8 4.2 -4.5 5.3 -4.2 6.2 -3.7 6.9 -3.1 7.5 -2.5 7.8 -1.8 8.1 -1.2 8.1 -.5 7.9 .1 7.8 .7 7.3 1.2 7 1.7 6.5 2 6 2.3 5.5 2.6 5 2.7 4.4 2.9 3.9 2.9 3.5 3 5.6 6 4 5.7 2.7 5.5 1.5 5.2 .6 4.8 -.1 2.2 -.7 4.3 -1.5 3.9 -1 1.9 -2.5 3.4 -3.3 3.2 -1.9 1.5 -4.5 2.8 -5.2 2.4 -3 1.2 -6.7 2 -7.7 1.6 -8.8 1.2 -9.9 .6 -11.1 -.1 -12 -1 -6.4 -.8 -6.4 -1.2 -6.6 -1.6 -6.5 -1.9 -6.5 -2.2 -6.2 -2.7 -6 -3.2 -5.4 -3.6 -4.9 -4 -4.1 -4.5 -3.2 -4.8 -2.2 -5.2 -1 -5.4 .3 -5.5 1.5 -5.6 3 -5.5 4.1 -5.3 5.4 -4.8 6.5 -4.4 7.3 -3.8 8.1 -3 8.5 -2.4 8.9 -1.5 8.9 -.8 8.9 -.1 8.6 .5 8.2 1.2 7.8 1.7 7.3 2.1 6.7 2.5 6.1 2.7 5.5 3 4.9 3.1 4.4 3.1 3.9 3.2 3.4 3.2 5.4 6.3 3.8 6 1.4 2.9 2 5.4 .6 2.6 .6 4.9 -.1 2.3 -.6 4.2 -.5 2.1 -1.6 3.8 -2.2 3.5 -1.4 1.6 -3.2 3.2 -1.8 1.4 -4.3 2.8 -2.4 1.3 -8.7 3.4 -6.9 2 -8.1 1.6 -4.5 .6 -10 1 -11.2 .3 -12.5 -.5 -13.5 -1.5 -7.2 -1.3 -7.2 -1.6 -7.3 -2 -7.2 -2.4 -7.1 -2.9 -6.7 -3.5 -6.3 -3.9 -5.5 -4.5 -4.8 -5 -3.7 -5.4 -2.5 -5.8 -1.2 -6.2 .4 -6.3 1.8 -6.4 3.4 -6.3 5 -6 6.3 -5.5 7.6 -5 8.5 -4.2 9.4 -3.4 9.8 -2.4 10.2 -1.6 10.1 -.7 10 .1 9.6 .9 9.1 1.5 8.6 2.1 7.9 2.5 7.2 2.9 6.5 3.2 5.9 3.3 5.2 3.5 4.6 3.5 4 3.5 3.5 3.5 5.7 6.7 4 6.4 2.7 5.9 1.8 5.4 .9 5 .2 4.6 -.8 6.2 -1.8 5.5 -2.9 4.9 -4.1 4.4 -3.4 2.7 -6.5 3.7 -5.3 2.3 -6.2 2 -7.3 1.8 -8.6 1.6 -9.9 1.2 M1072.7 863.0l-11.1 .1 -8 -.6 -4 -.7 -8.2 -1.7 -4 -1.3 -7.7 -3 -3.5 -1.9 -3.3 -2.1 -2.9 -2.4 -2.5 -2.5 -2.1 -2.7 -1.5 -2.8 -1 -3 -.4 -3 .3 -3.1 .9 -3 1.6 -3 2.2 -2.8 2.8 -2.7 3.3 -2.4 3.8 -2.1 4.2 -1.8 4.6 -1.5 4.8 -1.1 4.9 -.8 5 -.3 5 0 4.9 .3 4.8 .6 9 2.1 4.1 1.4 7.3 3.3 3.1 1.9 5.4 3.9 2.3 2.1 3.5 4.2 1.3 2.1 1.8 4.1 .8 4 -.2 3.7 -1.1 3.5 -1.9 3.2 -2.8 2.9 -3.5 2.6 -4.4 2.3 -5.1 1.8 -5.9 1.5 -3.2 .5 -6.9 .7 -7.6 .1 -8 -.5 -4.2 -.6 -8.3 -1.7 -4.2 -1.2 -7.9 -3.1 -3.7 -1.9 -3.4 -2.2 -3 -2.3 -2.7 -2.6 -2.1 -2.8 -1.7 -2.9 -1 -3.1 -.4 -3.2 .2 -3.2 1 -3.1 1.6 -3.1 2.2 -3 2.9 -2.7 3.5 -2.5 3.9 -2.3 4.4 -1.9 4.7 -1.5 5 -1.2 5.1 -.7 5.2 -.4 5.2 0 5.1 .3 5 .7 4.7 .9 4.6 1.3 4.2 1.4 7.5 3.5 3.3 1.9 5.5 4.1 2.3 2.1 3.6 4.3 1.4 2.2 1.9 4.2 .8 4.1 -.2 3.8 -1 3.6 -1.9 3.3 -2.8 2.9 -3.5 2.7 -4.4 2.3 -5.1 2 -5.9 1.5 -3.2 .6 -7.1 .8 -7.6 .2 -8.3 -.4 -4.2 -.5 -8.7 -1.7 -4.3 -1.2 -8.3 -3 -3.9 -1.9 -3.6 -2.1 -3.3 -2.4 -2.9 -2.6 -2.4 -2.9 -1.9 -3 -1.3 -3.1 -.6 -3.3 0 -3.3 .8 -3.3 1.5 -3.3 2.1 -3.1 2.9 -2.9 3.4 -2.8 4 -2.4 4.5 -2 4.8 -1.7 5.2 -1.3 5.3 -.9 5.4 -.5 5.4 -.1 5.3 .3 5.2 .6 5 .9 4.8 1.2 4.4 1.5 7.9 3.5 3.5 2 5.9 4.2 2.4 2.2 3.9 4.4 1.4 2.2 2.1 4.4 1 4.2 0 3.9 -.9 3.7 -1.8 3.4 -2.6 3.1 -3.4 2.8 -4.3 2.5 -5 2 -5.8 1.7 -3.3 .7 -7 1 -7.7 .4 -8.3 -.3 -4.4 -.4 -8.9 -1.4 -4.5 -1.1 -8.8 -2.8 -4.1 -1.8 -4 -2.1 -3.7 -2.3 -3.3 -2.6 -2.8 -2.8 -2.3 -3 -1.7 -3.2 -1.1 -3.4 -.4 -3.4 .4 -3.5 1.1 -3.4 1.9 -3.4 2.6 -3.2 3.3 -3 3.9 -2.7 4.4 -2.3 4.9 -2 5.2 -1.6 5.5 -1.2 5.6 -.7 5.6 -.3 5.6 .1 5.5 .5 5.3 .8 5.1 1.1 4.8 1.4 4.4 1.7 4.1 1.8 3.8 2 6.4 4.3 2.7 2.2 4.3 4.6 3.1 4.6 1.9 4.4 .8 4.3 -.2 4 -1.1 3.7 -2 3.4 -2.7 3.1 -3.6 2.8 -4.4 2.5 -5.2 2 -6.1 1.7 -3.3 .7 -7.2 1 -8 .4 -8.7 -.3 -4.5 -.5 -9.3 -1.5 -4.6 -1.1 -9.2 -2.9 -4.3 -1.9 -4.2 -2.2 -3.8 -2.4 -3.4 -2.7 -2.9 -3 -2.4 -3.2 -1.8 -3.3 -1 -3.5 -.3 -3.7 .4 -3.6 1.3 -3.6 2 -3.5 2.8 -3.4 3.6 -3.1 4.1 -2.8 4.8 -2.4 5.2 -2 5.5 -1.6 5.8 -1.2 5.9 -.7 5.9 -.2 5.8 .1 5.8 .6 5.5 .9 5.2 1.3 4.9 1.5 4.6 1.8 4.2 1.9 7.3 4.3 3 2.3 5.1 4.7 2 2.4 3.1 4.7 1.8 4.6 .8 4.3 -.2 4.1 -1.1 3.8 -2 3.5 -2.8 3.2 -3.6 2.8 -4.4 2.6 -5.2 2.1 -6.1 1.8 -6.9 1.3 -7.8 .8 -8.5 .2 -9.1 -.6 -9.6 -1.4 -4.9 -1 -9.6 -2.9 -4.7 -1.9 -4.4 -2.1 -4.1 -2.5 -3.8 -2.7 -3.3 -3 -2.7 -3.3 -2 -3.5 -1.4 -3.6 -.6 -3.8 .2 -3.8 1.1 -3.9 1.9 -3.7 2.8 -3.6 3.5 -3.4 4.2 -3 4.9 -2.7 5.4 -2.3 5.7 -1.8 6 -1.3 6.2 -.8 6.3 -.4 6.2 .1 6 .5 5.8 .9 5.6 1.3 5.2 1.5 4.9 1.8 4.4 2 4.1 2.2 3.7 2.3 3.2 2.4 5.4 4.9 4 4.9 2.7 4.8 1.5 4.7 .5 4.3 -.5 4.1 -1.4 3.8 -2.2 3.4 -3 3.2 -3.8 2.8 -4.7 2.5 -5.5 2.2 -6.3 1.7 -7.3 1.3 -8.1 .8 -8.9 .1 -9.6 -.6 -10 -1.5 -5.1 -1.2 -5.1 -1.4 -5 -1.7 -4.9 -2 -4.6 -2.3 -4.3 -2.6 -3.9 -2.9 -3.4 -3.2 -2.7 -3.5 -2.1 -3.7 -1.3 -3.9 -.4 -4.1 .4 -4.1 1.3 -4 2.3 -4 3.1 -3.7 3.9 -3.5 4.7 -3.2 5.3 -2.7 5.8 -2.3 6.2 -1.8 6.5 -1.2 6.6 -.8 6.6 -.2 6.5 .2 6.3 .7 6 1.1 5.8 1.4 5.3 1.8 5 2 4.5 2.1 4.1 2.4 3.7 2.4 3.3 2.5 5.4 5.2 4 5.1 2.6 4.9 1.4 4.8 .4 4.4 -.5 4.2 -1.4 3.8 -2.2 3.6 -3 3.2 -1.8 1.5 -4.2 2.7 -5.1 2.4 -5.9 2.1 -6.9 1.6 -7.7 1.2 -8.7 .6 -9.5 -.1 -10.2 -.9 -10.7 -1.8 -5.4 -1.3 -5.3 -1.7 -5.2 -1.9 -5.1 -2.3 -4.7 -2.6 -4.4 -2.9 -3.8 -3.3 -3.3 -3.6 -2.5 -3.8 -1.8 -4.1 -.9 -4.2 .1 -4.4 1 -4.4 2 -4.2 3 -4.2 3.9 -3.8 4.7 -3.6 5.5 -3.1 6 -2.6 6.5 -2.1 6.9 -1.5 7 -1 7 -.4 7 .1 6.8 .7 6.5 1 6.1 1.4 5.8 1.8 5.4 2 4.9 2.3 4.4 2.4 4.1 2.6 3.5 2.6 5.9 5.4 4.3 5.3 3 5.2 1.7 5 .7 4.6 -.2 4.4 -1.2 4 -1.9 3.7 -2.7 3.4 -1.7 1.5 -3.9 3 -2.2 1.3 -5.2 2.5 -6 2.1 -7 1.7 -8 1.2 -8.9 .7 -9.8 0 -10.7 -.8 -11.2 -1.7 -5.7 -1.3 -5.8 -1.7 -5.6 -1.9 -5.4 -2.3 -5.2 -2.7 -4.8 -3 -4.3 -3.4 -3.7 -3.7 -3 -4.1 -2.1 -4.3 -1.2 -4.5 -.2 -4.7 .9 -4.7 2 -4.7 3 -4.5 4 -4.2 5 -3.9 5.8 -3.4 6.4 -2.9 7 -2.4 7.3 -1.7 7.5 -1.1 7.6 -.5 7.5 .1 7.3 .6 7 1.1 6.6 1.5 6.2 1.9 5.7 2.1 5.3 2.4 4.7 2.6 4.3 2.7 3.8 2.8 3.3 2.9 2.9 2.8 4.7 5.6 3.2 5.5 1.9 5.1 .9 4.9 0 4.5 -.9 4.1 -1.7 3.9 -1.1 1.8 -2.8 3.4 -3.6 3 -2.1 1.5 -4.8 2.6 -5.7 2.3 -6.6 2 -7.5 1.5 -4.2 .7 -9.2 .8 -10.2 .2 -11.1 -.7 -11.9 -1.6 -6.1 -1.2 -6.1 -1.6 -6.1 -1.9 -6 -2.3 -5.8 -2.7 -5.4 -3.1 -4.9 -3.5 -4.3 -3.8 -3.5 -4.3 -2.7 -4.6 -1.7 -4.9 -.6 -5 .5 -5.1 1.8 -5.2 2.9 -5 4.1 -4.7 5.2 -4.4 6.1 -3.9 6.9 -3.4 7.5 -2.7 7.9 -2.1 8.2 -1.3 8.3 -.7 8.2 0 7.9 .6 7.7 1.1 7.2 1.6 6.7 2 6.3 2.3 5.7 2.6 5.1 2.7 4.7 2.9 4.1 3 3.6 3 5.9 6.1 4.2 5.8 2.9 5.6 1.7 5.3 .8 4.8 -.2 4.6 -.9 4.1 -.8 2 -2 3.7 -2.7 3.4 -1.6 1.6 -3.8 2.9 -4.6 2.7 -2.6 1.3 -5.9 2.3 -6.9 1.9 -3.8 .9 -8.5 1.3 -9.7 .9 -10.8 .2 -11.8 -.7 -12.8 -1.6 -6.7 -1.3 -6.7 -1.6 -6.6 -2 -6.6 -2.4 -6.4 -2.9 -6 -3.3 -5.5 -3.8 -4.8 -4.2 -4 -4.7 -3.1 -5.1 -1.9 -5.3 -.7 -5.6 .6 -5.8 2 -5.7 3.3 -5.6 4.7 -5.3 5.8 -4.9 7 -4.3 7.7 -3.7 8.5 -3 8.9 -2.1 9.2 -1.4 9.1 -.6 9.1 .1 8.7 .8 8.3 1.4 7.8 1.9 7.3 2.3 6.6 2.6 6.1 2.9 5.4 3 4.9 3.2 4.3 3.3 3.8 3.2 3.2 3.3 5.3 6.4 3.7 6 2.4 5.7 .8 2.6 1 5.1 .1 2.3 -.2 4.5 -.4 2.1 -1.2 3.9 -.9 1.9 -2.1 3.5 -2.7 3.2 -1.7 1.5 -3.7 2.9 -2.1 1.4 -4.9 2.5 -9.1 3.3 -11.3 2.7 -9.1 1.3 -5 .5 -11 .5 -12.4 -.2 -13.6 -1.2 -7.2 -1 -7.3 -1.4 -7.5 -1.8 -7.5 -2.2 -7.5 -2.7 -7.1 -3.2 -6.8 -3.7 -6.3 -4.3 -5.5 -4.8 -4.5 -5.4 -3.4 -5.8 -2 -6.2 -.6 -6.5 1 -6.6 2.6 -6.6 4.3 -6.5 5.8 -6 7.1 -5.5 8.4 -4.8 9.3 -4 10 -3.1 10.4 -2.2 10.6 -1.2 10.4 -.3 10.2 .6 9.7 1.2 9.1 1.9 8.5 2.5 7.8 2.8 7.1 3.2 6.4 3.3 5.7 3.5 5 3.6 4.4 3.6 3.9 3.6 6.2 7 4.5 6.6 1.7 3.1 2.6 5.9 1 2.7 1.2 5.2 .5 4.7 0 4.3 -.5 4 -.9 3.6 -1.4 3.4 -1.7 3.2 -2.2 3 -2.7 2.7 -5.1 3.9 -4.2 2.4 -5 2.2 -9.2 3 -11.7 2.5 -14.9 1.9 -11.8 .6 -13.6 -.1 -15.2 -1 -8.2 -1 -8.5 -1.3 -8.8 -1.8 -8.9 -2.3 -9 -2.8 -8.8 -3.4 -8.5 -4.1 -7.9 -4.8 -7.2 -5.6 -6 -6.2 -4.7 -6.9 -3.1 -7.5 -1.3 -7.9 .8 -8.3 2.9 -8.3 5.1 -8.1 7.1 -7.6 8.9 -7 10.5 -6.1 11.7 -5 12.5 -3.7 13 -2.6 13 -1.3 12.8 -.1 12.4 .9 11.6 1.8 10.8 2.6 9.9 3.2 9 3.6 8 3.9 7.2 4.1 6.3 4.2 5.6 4.2 4.8 4.2 4.2 4 3.7 4 5.9 7.5 4.3 6.8 4.5 9 3 7.7 5.9 18.6 2.5 5.4 2.4 3.4 1.9 2.1 2.2 1.8 2.7 1.7 3.2 1.4 6 1.7 7.7 1.2 10.1 .3 13 -.6 16.6 -2 13.5 -2.3 15.5 -3.4 17.6 -4.6 19.3 -6 10.2 -3.6 10.3 -4 10.3 -4.4 10 -4.7 9.5 -5 8.7 -5.3 7.5 -5.3 6 -5.3 4 -5 1.8 -4.6 -.7 -4.1 -3.3 -3.2 -6 -2.4 -8.5 -1.3 -10.8 -.3 -12.8 .6 -14.1 1.5 -15.1 2.2 -15.4 2.7 -15.5 3 -29.1 6.2 -69.6 15.5 -15.4 3.7 -7.2 2.2 -7.7 3.2 -5.3 3.5 -2.9 2.4 -10.6 10.4 -3.2 2.6 -3.7 2.5 -4.2 2.4 -5 2.3 -9 3.1 -11.2 2.6 -13.9 1.8 -10.9 .6 -6 0 -12.9 -.5 -14.1 -1.6 -7.4 -1.3 -7.5 -1.7 -7.6 -2.1 -7.6 -2.5 -7.4 -3.1 -7 -3.6 -6.5 -4.1 -5.9 -4.7 -4.9 -5.3 -3.8 -5.7 -2.5 -6.2 -1.1 -6.5 .5 -6.7 2.2 -6.8 3.8 -6.6 5.5 -6.3 6.8 -5.7 8.2 -5.1 9.2 -4.4 10 -3.4 10.5 -2.4 10.7 -1.5 10.6 -.5 10.4 .3 10 1.1 9.4 1.7 8.8 2.4 8.1 2.7 7.4 3.2 6.6 3.3 5.9 3.5 5.3 3.7 4.6 3.6 4 3.6 3.5 3.6 5 6.1 3.8 5.7 1.7 3.1 2.5 5.8 .9 2.8 1.2 5.1 .6 6.8 -.5 6.1 -1.4 5.3 -2.3 4.8 -3.2 4.4 -4.3 3.9 -5.6 3.7 -4.7 2.2 -8.6 3.1 -7 1.8 -8.3 1.6 -9.7 1.3 -11.3 .8 -13 .3 -14.7 -.6 -8 -.7 -8.4 -1 -8.7 -1.4 -9 -1.9 -9.1 -2.4 -9.1 -2.9 -9 -3.6 -8.7 -4.3 -8 -5 -7.2 -5.7 -6 -6.5 -4.7 -7.1 -2.9 -7.8 -1 -8.2 1.2 -8.5 3.3 -8.5 5.6 -8.3 7.6 -7.8 9.5 -7 11.1 -6.1 12.2 -4.9 13 -3.6 13.3 -2.3 13.4 -1.1 13 .1 12.5 1.2 11.7 2 10.9 2.8 9.9 3.3 8.9 3.8 8.1 4.1 7.1 4.2 6.2 4.3 5.5 4.3 4.8 4.2 4.1 4.1 6.8 7.8 4.9 7.2 3.8 6.4 3.9 8.5 7.6 20.2 3.1 5.7 2.9 3.6 3.6 3 4.7 2.6 6 2 7.7 1.4 10 .6 12.9 -.5 16.3 -1.8 13.1 -2.2 15 -3.1 16.9 -4.4 18.5 -5.7 9.7 -3.4 9.7 -3.8 9.7 -4.1 9.4 -4.4 8.9 -4.7 8.2 -4.9 6.9 -4.9 5.6 -4.9 3.8 -4.7 1.7 -4.3 -.6 -3.8 -2.9 -3.1 -5.5 -2.2 -7.7 -1.4 -9.9 -.4 -11.7 .5 -13 1.2 -14 1.9 -14.4 2.4 -28.6 5.6 -37.8 8.3 -48.9 11.1 -9.5 2.5 -7.1 2.3 -5.3 2.2 -4.1 2.3 -3.1 2.3 -2.6 2.5 -8.4 10.6 -5.1 5.2 -4.8 3.8 -6 3.5 -7.7 3.3 -9.8 2.9 -12.3 2.4 -9.9 1.1 M1254.3 860.6l13.3 -1.8 14.8 -3.2 15.4 -4.6 9.9 -3.7 4.5 -2.1 8 -4.2 3.2 -2.2 2.6 -2.1 1.8 -2.1 1 -1.9 .2 -1.7 -.8 -1.5 -1.6 -1.3 -2.6 -1 -3.5 -.7 -4.2 -.4 -5 -.1 -11.6 .7 -6.3 .6 -13.3 1.9 -19.4 3.7 -16.9 3.8 -13.3 3.7 -6.7 2.3 -5.2 2.2 -3.7 2.1 -2.4 2 -1.3 2 -.2 1.9 .6 1.8 1.5 1.7 1.1 .9 2.7 1.5 3.6 1.3 4.3 1.1 5.2 .8 9.5 .6 11.5 -.5 13.5 -1.7 15.3 -3 10.8 -2.9 10.8 -3.6 5.3 -2 9.7 -4.3 8.1 -4.6 3.1 -2.3 2.4 -2.3 1.6 -2.1 .7 -2 -.3 -1.8 -1.2 -1.5 -2.3 -1.2 -3.2 -.9 -4.2 -.5 -5 -.3 -5.6 .1 -12.9 1 -14.1 1.9 -20.9 3.9 -18.4 4 -14.5 3.9 -7.4 2.4 -5.7 2.3 -4.2 2.1 -2.9 2.1 -1.6 2.1 -.6 2 .4 1.9 .5 1 1.6 1.8 2.4 1.7 3.1 1.5 4 1.3 4.8 1 5.7 .7 6.5 .4 11.7 -.4 13.9 -1.5 15.9 -3.1 11.3 -2.9 11.6 -3.7 5.7 -2.1 10.7 -4.6 9.1 -4.9 3.7 -2.5 3 -2.5 2.1 -2.4 1.1 -2.2 .2 -2 -1 -1.7 -2.1 -1.5 -3.1 -1.1 -4.2 -.7 -5.1 -.3 -5.9 0 -13.7 1 -15.1 2 -22.6 4 -19.9 4.4 -15.8 4.1 -8 2.5 -6.2 2.4 -4.6 2.2 -3.2 2.2 -1.9 2.1 -.9 2.1 0 2 .4 1 1.3 2 3.3 2.7 3.2 1.6 4 1.4 4.7 1.1 5.6 .9 6.6 .4 7.6 0 8.6 -.5 14.9 -1.9 17.1 -3.5 12.2 -3.3 6.2 -1.9 12.3 -4.5 5.9 -2.5 10.6 -5.4 4.5 -2.7 3.7 -2.8 2.9 -2.7 1.9 -2.5 .8 -2.4 -.4 -2.1 -1.6 -1.7 -2.8 -1.4 -4 -1 -5.1 -.6 -6.1 -.1 -6.9 .2 -15.6 1.5 -16.6 2.5 -24.3 4.7 -20.6 4.6 -15.9 4.3 -7.9 2.5 -6.1 2.4 -4.4 2.2 -3 2.3 -1.8 2.2 -.6 1.1 -.3 2.1 .1 1.1 .8 2.1 2.6 3 4.2 2.7 3.6 1.6 4.4 1.3 5.3 1.1 6.2 .7 7.1 .3 8.3 -.2 9.4 -.8 16.4 -2.4 12.3 -2.6 6.5 -1.6 13.4 -3.9 6.8 -2.3 13.4 -5.2 6.3 -2.9 5.9 -3 5.3 -3 4.5 -3.2 3.7 -3 2.6 -3 1.4 -2.7 0 -2.5 -1.3 -2.1 -2.7 -1.7 -4.1 -1.2 -5.4 -.8 -6.5 -.3 -7.6 .3 -8.3 .6 -8.9 1 -18.6 2.8 -27.1 5.2 -29.3 6.7 -15.6 4.3 -7.7 2.6 -5.7 2.3 -4.1 2.4 -1.5 1.1 -2.2 2.3 -.7 1.1 -.8 2.3 -.1 1.2 .4 2.2 1.6 3.3 3 3.2 4.4 2.7 5.9 2.4 4.8 1.2 5.7 .9 6.7 .6 7.9 .1 9 -.4 10.3 -1.1 11.8 -1.8 6.4 -1.2 13.7 -3.1 7.3 -2 15.1 -4.6 7.7 -2.8 15 -6.1 7.1 -3.4 6.6 -3.6 5.8 -3.6 4.8 -3.6 3.7 -3.6 2.4 -3.3 .9 -3.1 -.7 -2.7 -2.4 -2.2 -4.1 -1.7 -5.7 -1 -7.2 -.5 -8.5 .1 -9.4 .7 -10.2 1.1 -10.7 1.5 -21.6 3.8 -20.5 4.1 -18.2 4 -27.9 6.8 -9.7 2.8 -7.5 2.5 -5.5 2.4 -4 2.3 -1.5 1.2 -2.2 2.4 -.8 1.2 -1.1 2.4 -.4 2.5 .1 2.4 .5 2.4 .8 2.4 1.2 2.3 1.6 2.2 2 2 2.4 2 4.6 2.5 5.9 2 7.6 1.5 6.3 .6 11.6 0 9.4 -.6 11.1 -1.2 12.7 -2.1 14.6 -3 7.9 -1.9 17.1 -4.7 18.3 -6.1 9.3 -3.6 9.3 -3.8 9 -4.2 8.5 -4.5 7.8 -4.6 6.8 -4.6 5.4 -4.7 3.7 -4.4 1.9 -4.2 -.2 -3.6 -2.5 -3 -4.8 -2.3 -7.1 -1.4 -9 -.6 -10.7 .3 -12.2 1 -13.1 1.7 -13.6 2.1 -13.7 2.5 -38.8 8 -54.1 12.3 -15.3 4 -7.2 2.4 -2.9 1.1 -4.6 2.3 -3.5 2.3 -2.7 2.5 -3 3.8 -5.7 9.3 -2.7 3.9 -3.4 3.8 -4.1 3.6 -5.3 3.5 -4.3 2.2 -8.1 3 -6.5 1.8 -7.8 1.7 -9.1 1.4 -10.6 1 -12.2 .6 -14.1 -.2 -7.7 -.4 -16.7 -1.8 -8.8 -1.4 -9.1 -2 -9.3 -2.4 -9.3 -3 -9.1 -3.7 -8.8 -4.4 -8.1 -5.1 -7.3 -5.9 -6 -6.7 -4.6 -7.3 -2.8 -8 -.8 -8.4 1.4 -8.7 3.7 -8.6 5.9 -8.5 8 -7.8 9.9 -7.1 11.4 -6 12.6 -4.9 13.3 -3.5 13.7 -2.2 13.5 -1 13.3 .3 12.6 1.3 11.8 2.2 10.9 3 9.9 3.5 8.9 3.8 8 4.2 7.1 4.3 6.2 4.3 5.4 4.4 4.8 4.2 4.1 4.2 6.6 7.8 2.7 3.7 4.3 6.8 4.5 8.9 7.2 17.7 2.3 4.9 1.8 2.9 1.9 2.6 3.5 3.5 2.9 2 3.3 1.7 6.2 2.1 8 1.4 10.2 .7 13 -.5 10.6 -1 12.3 -1.8 14 -2.7 15.9 -3.8 17.5 -5.1 18.5 -6.4 9.4 -3.7 9.3 -4 8.9 -4.4 8.3 -4.5 7.4 -4.7 6.3 -4.7 4.8 -4.6 3.1 -4.4 1 -4 -1.2 -3.4 -3.5 -2.7 -5.8 -1.9 -8 -1.1 -9.8 -.2 -11.5 .6 -12.7 1.3 -13.5 1.9 -13.8 2.3 -27.2 5.4 -35.9 7.8 -40.8 9.4 -10.3 2.6 -7.9 2.4 -5.8 2.3 -2.3 1.1 -3.8 2.3 -2.9 2.4 -2.3 2.6 -1.9 2.5 -6.9 10.7 -4.4 5.1 -2.7 2.5 -3.1 2.3 -3.8 2.3 -4.3 2.2 -5.2 2.1 -6.1 1.9 -7.2 1.8 -8.5 1.5 -15.4 1.7 -12.3 .5 -6.9 0 -14.9 -.7 -8.1 -.8 -8.5 -1.1 -8.8 -1.5 -9.1 -2 -9.1 -2.5 -9.2 -3.1 -8.9 -3.7 -8.6 -4.5 -7.8 -5.1 -7 -6 -5.8 -6.6 -4.2 -7.4 -2.5 -7.9 -.5 -8.3 1.7 -8.5 3.9 -8.5 6 -8.3 8.2 -7.6 9.9 -6.8 11.4 -5.9 12.5 -4.6 13.1 -3.3 13.4 -2 13.4 -.8 12.9 .4 12.4 1.3 11.5 2.3 10.7 2.9 9.7 3.5 8.7 3.9 7.8 4.1 6.9 4.2 6.1 4.4 5.3 4.2 4.7 4.2 7.5 8.1 5.5 7.4 2.3 3.5 3.6 6.3 3.8 8.4 5.6 15 2 4.9 3.2 5.6 3.1 3.6 3.8 3 4.9 2.5 6.3 1.9 8.2 1.2 10.5 .5 13.4 -.7 17 -2.1 13.7 -2.4 15.5 -3.5 17.3 -4.7 18.8 -6.1 9.7 -3.6 9.6 -4 9.6 -4.2 9.1 -4.6 8.4 -4.8 7.4 -4.9 6.2 -4.9 4.5 -4.7 2.6 -4.5 .4 -4 -1.9 -3.3 -4.4 -2.6 -6.8 -1.8 -8.9 -.8 -10.9 .1 -12.4 .9 -13.5 1.7 -14.2 2.2 -28.6 5.3 -38.7 8.4 -51.2 11.6 -10 2.6 -7.6 2.3 -5.6 2.2 -4.3 2.3 -3.3 2.3 -2.6 2.5 -2.3 2.5 -8.2 10.7 -2.5 2.6 -2.9 2.5 -3.3 2.5 -3.9 2.4 -4.6 2.2 -5.4 2.1 -6.3 2 -7.4 1.8 -13.4 2.1 -10.8 .9 -5.9 .2 -13.2 0 -7.1 -.3 -15.5 -1.6 -8.2 -1.3 -8.4 -1.7 -8.5 -2.1 -8.6 -2.7 -8.5 -3.3 -8.1 -3.9 -7.6 -4.5 -6.9 -5.2 -5.9 -5.9 -4.6 -6.6 -3.2 -7 -1.4 -7.5 .5 -7.8 2.5 -7.9 4.4 -7.7 6.4 -7.4 8.2 -6.7 9.6 -5.9 10.9 -4.9 11.7 -3.9 12.3 -2.6 12.4 -1.5 12.3 -.4 11.8 .6 11.3 1.5 10.5 2.3 9.8 2.8 8.8 3.4 8 3.6 7.1 3.9 6.4 4 5.5 4.1 4.9 4 4.3 4 3.7 3.9 3.1 3.7 5.1 7.1 2 3.3 3.2 6.2 3.1 8.2 1.4 4.8 1.4 6.3 2.6 18.7 1.3 6.6 .9 2.9 1.2 2.5 1.5 2.3 1.3 1.4 2.4 1.9 3.1 1.6 4.2 1.2 5.6 .9 7.4 .4 6.3 -.1 7.5 -.5 9.1 -.9 M1075.0 871.7l-9.2 .2 -9.9 -.5 -10.6 -1.3 -5.4 -1.1 -10.8 -2.9 -5.3 -2 -5 -2.2 -4.8 -2.6 -4.5 -3 -3.9 -3.2 -3.3 -3.6 -2.6 -3.9 -1.9 -4.1 -.9 -4.2 -.1 -4.4 1 -4.4 2 -4.3 2.9 -4.2 3.9 -3.9 4.7 -3.6 5.4 -3.1 6.1 -2.7 6.5 -2.1 6.8 -1.6 7.1 -1 7.1 -.5 7 .1 6.8 .6 6.6 1 6.2 1.5 5.9 1.7 5.4 2.1 4.9 2.2 4.5 2.4 4.1 2.6 3.6 2.6 3.2 2.7 5.1 5.5 3.7 5.3 2.4 5.1 1.2 4.8 .3 4.5 -.7 4.2 -1.5 3.9 -1 1.8 -2.7 3.4 -3.4 3.1 -4.3 2.8 -5.1 2.5 -6 2.1 -6.9 1.8 -7.9 1.2 -8.9 .8 -9.8 .1 -10.7 -.7 -5.6 -.7 -11.4 -2.3 -5.8 -1.5 -5.6 -2 -5.6 -2.2 -5.2 -2.6 -4.9 -3 -4.5 -3.4 -3.8 -3.7 -3.1 -4 -2.3 -4.3 -1.4 -4.5 -.3 -4.7 .7 -4.8 1.8 -4.7 2.9 -4.6 3.9 -4.3 4.8 -4 5.7 -3.5 6.4 -3 7 -2.5 7.3 -1.8 7.6 -1.2 7.6 -.6 7.6 0 7.4 .5 7.1 1.1 6.7 1.4 6.3 1.9 5.8 2.1 5.4 2.4 4.8 2.6 4.4 2.7 3.9 2.8 3.4 2.8 5.6 5.8 4 5.5 2.7 5.4 1.5 5 .5 4.8 -.4 4.3 -1.2 4.1 -2 3.7 -2.8 3.4 -1.6 1.6 -3.9 2.9 -4.7 2.7 -2.6 1.2 -6 2.2 -7 1.9 -8 1.4 -9 .9 -10.1 .3 -11.1 -.5 -5.8 -.6 -12.2 -2 -6.2 -1.5 -6.1 -1.8 -6.1 -2.2 -5.9 -2.6 -5.5 -3 -5.2 -3.4 -4.5 -3.8 -3.8 -4.2 -3 -4.5 -2 -4.8 -1 -5.1 .2 -5.2 1.4 -5.2 2.7 -5.1 3.8 -4.9 4.9 -4.5 5.9 -4.1 6.8 -3.6 7.4 -2.9 7.9 -2.2 8.2 -1.6 8.4 -.9 8.2 -.2 8.2 .5 7.7 1 7.5 1.4 6.9 2 6.4 2.2 5.9 2.5 5.3 2.8 4.8 2.9 4.3 2.9 3.8 3.1 3.3 3 2.9 3.1 4.5 5.9 3 5.7 1.9 5.3 .6 2.5 .4 4.7 -.4 4.4 -.5 2.1 -1.6 3.9 -1 1.8 -2.6 3.5 -3.2 3.2 -4 2.9 -2.4 1.3 -5.2 2.5 -6.2 2.2 -3.4 1 -7.7 1.6 -8.8 1.3 -10 .7 -11.2 0 -12.2 -.9 -13.1 -1.9 -6.7 -1.5 -6.8 -1.8 -6.7 -2.2 -6.5 -2.7 -6.3 -3.1 -5.8 -3.6 -5.2 -4 -4.6 -4.5 -3.6 -5 -2.5 -5.2 -1.3 -5.6 -.1 -5.8 1.3 -5.8 2.7 -5.7 4.1 -5.6 5.4 -5.1 6.5 -4.7 7.5 -4.1 8.2 -3.3 8.9 -2.6 9.1 -1.8 9.3 -1 9.2 -.2 9 .5 8.6 1.2 8.2 1.6 7.6 2.2 7 2.5 6.4 2.8 5.7 3 5.2 3.2 4.6 3.2 4.1 3.3 3.5 3.3 5.7 6.5 4 6.2 2.8 5.7 .9 2.8 1.2 5.1 .4 4.8 -.1 2.2 -.7 4.2 -.6 2 -1.7 3.7 -2.2 3.4 -1.3 1.6 -3.1 3.1 -1.9 1.5 -4.1 2.7 -7.8 3.6 -6.3 2.2 -11.6 2.6 -9.2 1.3 -10.5 .8 -11.9 .1 -13.2 -.7 -14.3 -1.9 -7.5 -1.4 -7.6 -1.9 -7.6 -2.3 -7.5 -2.7 -7.2 -3.3 -6.9 -3.9 -6.2 -4.4 -5.5 -4.9 -4.5 -5.5 -3.3 -6 -1.9 -6.3 -.4 -6.6 1.3 -6.8 2.9 -6.7 4.5 -6.5 6.1 -6.1 7.5 -5.5 8.7 -4.8 9.5 -3.9 10.3 -3 10.6 -2 10.7 -1.1 10.6 -.2 10.3 .7 9.7 1.4 9.2 2 8.5 2.6 7.8 2.9 7 3.3 6.3 3.4 5.7 3.6 4.9 3.6 4.4 3.7 3.8 3.6 6.1 7 4.5 6.6 3.1 6.1 1.2 2.9 1.6 5.3 1.1 7.2 0 4.3 -.4 4 -.8 3.6 -1.3 3.4 -1.6 3.2 -2 2.9 -2.4 2.8 -3 2.6 -5.5 3.6 -4.6 2.3 -5.4 2.1 -10.1 2.8 -12.7 2.3 -10.4 1.1 -12 .6 -13.7 0 -15.5 -1 -8.3 -1 -8.7 -1.4 -9 -1.7 -9.1 -2.3 -9.2 -2.9 -9 -3.5 -8.7 -4.1 -8.2 -4.9 -7.4 -5.7 -6.2 -6.3 -4.9 -7.1 -3.2 -7.7 -1.3 -8.2 .8 -8.5 3 -8.5 5.2 -8.4 7.3 -7.9 9.3 -7.2 10.8 -6.2 12.1 -5.1 13 -3.8 13.3 -2.6 13.4 -1.2 13.2 -.1 12.6 1 11.9 1.9 11 2.7 10.1 3.3 9.1 3.7 8.1 4.1 7.3 4.2 6.4 4.3 5.6 4.3 4.9 4.2 4.2 4.1 6.9 7.9 5.1 7.2 3.8 6.5 4.1 8.6 7.7 20.3 3.2 5.7 2.9 3.6 3.7 3.1 4.7 2.6 6.1 2 7.9 1.3 10.1 .6 13 -.5 16.5 -1.9 13.2 -2.2 15.2 -3.3 16.9 -4.4 18.6 -5.8 9.6 -3.5 9.7 -3.8 9.6 -4.1 9.3 -4.4 8.8 -4.7 7.9 -4.9 6.7 -4.9 5.2 -4.9 3.5 -4.6 1.3 -4.2 -.9 -3.6 -3.3 -3 -5.8 -2.1 -8 -1.1 -10.2 -.3 -11.8 .6 -13.1 1.3 -14 2 -14.3 2.4 -28.3 5.6 -37.3 8.1 -47.8 11 -9.3 2.5 -6.9 2.2 -5.2 2.3 -4 2.2 -3.1 2.4 -2.5 2.5 -9.3 11.9 -5.2 5.2 -3.3 2.5 -3.8 2.4 -4.4 2.2 -5.2 2.2 -6.1 2 -7.2 1.8 -13.1 2.2 -10.4 1 -5.8 .3 -12.9 .1 -7 -.2 -15.1 -1.3 -8.1 -1.2 -8.3 -1.5 -8.5 -2 -8.6 -2.5 -8.5 -3 -8.3 -3.7 -7.8 -4.2 -7.2 -5 -6.3 -5.6 -5.1 -6.3 -3.8 -6.9 -2.1 -7.3 -.2 -7.7 1.7 -7.9 3.7 -7.8 5.6 -7.5 7.5 -7 9.1 -6.2 10.5 -5.3 11.4 -4.3 12.1 -3.1 12.3 -1.9 12.4 -.9 12 .3 11.5 1.2 10.8 2 10.1 2.6 9.2 3.2 8.3 3.5 7.4 3.8 6.7 4 5.8 4 5.2 4.1 4.4 4 3.9 3.9 3.4 3.8 2.9 3.7 4.6 6.9 1.8 3.2 2.9 6 2.8 7.9 1.3 4.7 1.2 6.1 2.4 18.2 1 5.5 .8 2.9 1 2.7 1.4 2.3 1.7 2.1 2.4 1.9 3 1.5 4.1 1.3 5.4 .8 7.2 .4 6 0 7.3 -.5 8.9 -.8 M1075.1 871.2l-9 .3 -9.9 -.5 -10.3 -1.3 -5.4 -1.1 -10.6 -2.8 -5.2 -1.9 -5.1 -2.2 -4.7 -2.6 -4.4 -2.9 -3.9 -3.2 -3.3 -3.5 -2.6 -3.7 -1.9 -4 -1 -4.2 -.1 -4.3 .9 -4.3 1.8 -4.3 2.8 -4.1 3.7 -3.8 4.6 -3.6 5.2 -3.1 5.9 -2.7 6.4 -2.1 6.7 -1.7 6.9 -1 6.9 -.5 7 0 6.7 .5 6.5 1 6.2 1.3 5.8 1.7 5.4 2 4.9 2.2 4.5 2.4 4.1 2.5 3.6 2.6 3.2 2.6 5.1 5.4 3.8 5.3 2.4 5 1.2 4.8 .3 4.5 -.6 4.2 -1.5 3.9 -1.1 1.8 -2.7 3.4 -3.4 3.1 -4.3 2.7 -5.1 2.5 -6.1 2.1 -6.9 1.7 -7.9 1.2 -8.8 .7 -9.8 0 -10.6 -.7 -11.1 -1.8 -5.7 -1.3 -5.6 -1.6 -5.6 -1.9 -5.3 -2.3 -5.2 -2.7 -4.7 -3 -4.2 -3.3 -3.7 -3.7 -2.9 -4 -2.1 -4.3 -1.2 -4.4 -.2 -4.6 .9 -4.7 1.9 -4.6 3 -4.4 3.9 -4.2 4.9 -3.9 5.7 -3.4 6.3 -2.8 6.9 -2.4 7.2 -1.7 7.5 -1.1 7.5 -.5 7.4 .1 7.2 .5 6.9 1.1 6.5 1.5 6.2 1.8 5.7 2.2 5.2 2.3 4.7 2.6 4.2 2.7 3.8 2.7 3.3 2.8 5.4 5.7 3.9 5.5 2.6 5.2 1.4 5 .3 4.7 -.5 4.3 -1.3 4 -2.1 3.6 -2.8 3.4 -1.7 1.5 -4.1 3 -2.3 1.3 -5.2 2.5 -6.2 2.1 -7.2 1.7 -8.1 1.3 -9.2 .7 -10.2 .1 -11.1 -.7 -11.8 -1.7 -6.1 -1.3 -6 -1.6 -6 -2 -5.9 -2.3 -5.6 -2.8 -5.2 -3.1 -4.7 -3.5 -4.1 -4 -3.4 -4.2 -2.4 -4.6 -1.5 -4.8 -.3 -5 .7 -5.1 2 -5.1 3.1 -4.8 4.3 -4.7 5.3 -4.2 6.1 -3.7 6.9 -3.2 7.5 -2.6 7.9 -1.9 8.1 -1.2 8.1 -.5 8 .1 7.8 .6 7.5 1.2 7.1 1.7 6.5 2 6.1 2.3 5.5 2.6 5.1 2.7 4.4 2.9 4 3 3.5 3 5.7 5.9 4.1 5.8 2.7 5.5 1.6 5.2 .4 2.5 .2 4.6 -.7 4.3 -.6 2 -1.8 3.8 -2.5 3.5 -1.5 1.6 -3.6 3.1 -4.4 2.8 -2.5 1.3 -5.6 2.3 -6.6 2.1 -7.6 1.6 -8.7 1.2 -9.9 .7 -11 0 -12 -.8 -12.8 -2 -6.6 -1.4 -6.5 -1.8 -6.6 -2.2 -6.3 -2.7 -6.1 -3 -5.6 -3.6 -5.1 -3.9 -4.3 -4.4 -3.5 -4.8 -2.4 -5.1 -1.3 -5.5 0 -5.5 1.3 -5.7 2.6 -5.6 4 -5.3 5.2 -5 6.3 -4.5 7.2 -4 8 -3.2 8.6 -2.5 8.9 -1.8 9 -.9 8.9 -.3 8.8 .5 8.3 1.1 8 1.6 7.4 2 6.9 2.4 6.2 2.8 5.7 2.9 5.1 3.1 4.5 3.1 4 3.3 3.5 3.2 5.6 6.3 4 6.1 2.7 5.7 .9 2.7 1.1 5.1 .3 4.7 -.2 2.2 -.8 4.2 -.7 2 -1.8 3.7 -2.4 3.4 -1.4 1.6 -3.4 3 -2 1.4 -4.5 2.7 -8.4 3.5 -6.7 2.1 -7.9 1.6 -4.3 .7 -9.7 1.1 -11 .5 -12.3 -.3 -13.4 -1.3 -7.1 -1 -7.3 -1.5 -7.3 -1.8 -7.3 -2.2 -7.3 -2.7 -6.9 -3.3 -6.6 -3.7 -6 -4.2 -5.2 -4.8 -4.3 -5.3 -3.1 -5.7 -1.9 -6.1 -.3 -6.4 1.1 -6.5 2.8 -6.4 4.3 -6.2 5.7 -5.8 7.2 -5.3 8.2 -4.6 9.1 -3.8 9.8 -3 10.2 -2 10.2 -1.1 10.2 -.2 9.9 .5 9.5 1.3 8.9 1.9 8.2 2.4 7.6 2.8 6.9 3.1 6.2 3.3 5.6 3.4 4.9 3.6 4.3 3.5 3.7 3.5 3.3 3.5 5.2 6.7 3.7 6.3 1.3 2.9 2 5.6 .6 2.6 .8 4.9 -.1 6.5 -1.2 5.8 -1.4 3.5 -1.8 3.3 -2.3 3 -2.9 2.9 -5.4 3.9 -6.9 3.6 -9 3.1 -11.4 2.7 -14.4 1.9 -11.4 .7 -13.1 0 -14.6 -.9 -7.9 -.8 -8.2 -1.3 -8.4 -1.6 -8.6 -2.1 -8.6 -2.7 -8.6 -3.1 -8.2 -3.9 -7.8 -4.4 -7 -5.2 -6.1 -5.8 -4.9 -6.5 -3.4 -7.1 -1.6 -7.5 .2 -7.8 2.2 -7.9 4.2 -7.8 6.2 -7.5 8 -6.9 9.6 -6 10.8 -5.1 11.7 -4 12.3 -2.9 12.5 -1.6 12.4 -.5 12 .5 11.4 1.4 10.7 2.2 9.9 2.8 9 3.3 8.1 3.7 7.3 3.9 6.5 4 5.7 4.1 4.9 4 4.4 4 3.7 3.9 6.1 7.5 2.4 3.5 3.8 6.5 2.8 5.9 2.7 7.8 2.2 8.8 3.5 19.8 1.7 5.4 1.9 3.7 2 2.4 1.6 1.4 1.9 1.3 2.4 1.2 2.8 1 3.4 .8 6.4 .8 5.3 .3 6.5 -.1 7.8 -.4 9.4 -1 17.5 -2.6 22.6 -4.6 18.1 -4.5 20.6 -6.1 11.1 -3.8 11.5 -4.1 11.7 -4.7 11.8 -5.1 11.5 -5.6 11 -5.9 10.1 -6.2 8.6 -6.3 6.7 -6.2 4.4 -6 1.6 -5.4 -1.4 -4.6 -4.8 -3.5 -8 -2.4 -11 -1.1 -13.8 .2 -15.8 1.3 -17.3 2.4 -18 3.1 -35.9 7.3 -71.8 16 -45 9.1 -11.6 2.7 -5.6 1.9 -6.4 2.9 -14.3 9.1 -6.4 3.5 -7.7 3.2 -9.4 2.7 -7.3 1.4 -8.3 1.1 -9.2 .5 -10.1 -.2 -11 -.9 -11.5 -1.9 -5.8 -1.4 -5.9 -1.8 -5.7 -2.1 -5.5 -2.4 -5.2 -2.8 -4.8 -3.2 -4.3 -3.5 -3.6 -3.9 -2.9 -4.2 -1.9 -4.5 -1 -4.7 .1 -4.8 1.1 -4.8 2.3 -4.8 3.4 -4.5 4.4 -4.3 5.3 -3.9 6.1 -3.4 6.8 -2.8 7.3 -2.2 7.6 -1.6 7.7 -1 7.8 -.3 7.6 .2 7.4 .8 7 1.3 6.6 1.7 6.2 2 5.7 2.3 5.2 2.5 4.7 2.7 4.2 2.8 3.7 2.8 3.3 2.9 2.8 2.9 4.5 5.7 1.7 2.8 2.4 5.3 .8 2.6 .8 4.8 -.1 4.5 -1 4.1 -1.7 3.9 -2.4 3.5 -3.2 3.2 -4 3 -4.8 2.6 -5.6 2.3 -6.6 2 -7.6 1.6 -8.7 1.2 -4.7 .4 -10.3 .2 -5.5 -.2 -11.7 -1 -12.3 -2.1 -6.3 -1.5 -6.3 -1.9 -6.1 -2.2 -6 -2.7 -5.6 -3.1 -5.2 -3.5 -4.5 -3.9 -3.9 -4.3 -2.9 -4.7 -1.9 -4.9 -.9 -5.2 .4 -5.3 1.6 -5.3 2.8 -5.2 4.1 -4.9 5.1 -4.6 6.2 -4.1 7 -3.6 7.7 -2.9 8.1 -2.2 8.4 -1.4 8.5 -.8 8.5 -.1 8.2 .5 7.9 1.1 7.4 1.6 7 2 6.4 2.4 5.9 2.6 5.4 2.8 4.7 3 4.3 3 3.7 3.1 3.3 3.1 5.2 6.1 3.8 5.8 2.4 5.5 1.3 5.2 .4 4.8 -.4 4.4 -1.2 4 -1.8 3.8 -2.5 3.4 -1.5 1.6 -3.6 3.1 -4.3 2.8 -5.2 2.5 -6 2.2 -7.1 1.9 -8.1 1.6 -9.3 1 -5.1 .4 -11.1 .1 -6 -.2 -12.7 -1.2 -6.7 -1 -6.9 -1.4 -6.9 -1.7 -6.8 -2.1 -6.8 -2.5 -6.5 -3 -6.2 -3.5 -5.6 -4 -4.9 -4.4 -4.1 -4.9 -3 -5.3 -1.8 -5.6 -.5 -5.9 .9 -5.9 2.3 -6 3.7 -5.8 5.1 -5.4 6.3 -5 7.4 -4.4 8.3 -3.7 8.9 -2.8 9.3 -2.1 9.5 -1.3 9.5 -.4 9.3 .3 8.9 1 8.5 1.6 7.9 2 7.4 2.5 6.7 2.8 6 3 5.5 3.2 4.8 3.3 4.3 3.4 3.7 3.3 6 6.6 4.4 6.3 3 5.9 1.9 5.5 .9 5.1 .2 4.6 -.5 4.3 -.5 2 -1.3 3.8 -.9 1.8 -2.3 3.3 -2.8 3.2 -5.4 4.2 -4.5 2.6 -5.3 2.4 -6.3 2.1 -7.3 1.9 -8.5 1.5 -9.8 1.1 -11.2 .6 -12.7 -.2 -6.8 -.4 -14.5 -1.7 -7.7 -1.4 -7.8 -1.7 -7.8 -2.2 -7.8 -2.7 -7.6 -3.3 -7.2 -3.8 -6.6 -4.3 -5.9 -5 -5 -5.5 -3.7 -6 -2.4 -6.5 -.8 -6.8 .9 -7 2.6 -7 4.3 -6.8 6 -6.5 7.5 -5.8 8.7 -5.2 9.8 -4.2 10.5 -3.3 11 -2.3 11.1 -1.3 11 -.4 10.7 .6 10.2 1.3 9.5 2 8.9 2.6 8.1 3 7.4 3.3 6.6 3.5 5.9 3.7 5.2 3.7 4.5 3.8 4 3.7 6.4 7.2 4.7 6.7 3.4 6.3 1.2 2.9 1.9 5.4 1.4 7.3 .3 6.4 -.6 5.6 -1.4 5 -1.2 3.1 -1.6 2.8 -3.2 4 -4 3.7 -5.4 3.4 -6.9 3.1 -9 2.9 -11.5 2.5 -9.4 1.3 -11 1 -12.8 .4 -14.8 -.2 -8 -.6 -8.6 -.8 -8.9 -1.1 -9.3 -1.7 -9.5 -2.1 -9.8 -2.6 -9.7 -3.3 -9.5 -4 -9 -4.8 -8.3 -5.6 -7.4 -6.4 -5.9 -7.2 -4.4 -8 -2.3 -8.5 -.1 -9 2.2 -9.2 4.7 -9.1 7.1 -8.8 9.2 -8.1 11.2 -7.1 12.6 -5.9 13.7 -4.6 14.2 -3.2 14.5 -1.7 14.2 -.4 13.6 .8 12.9 1.8 12 2.7 10.9 3.4 9.9 3.9 8.8 4.2 7.9 4.4 6.9 4.6 6 4.5 5.3 4.4 4.6 4.4 4 4.2 6.4 7.8 4.8 7.2 5.3 9.2 8.8 18.1 3.2 4.9 3.7 4.1 4.6 3.4 5.8 2.8 7.4 2 6 .9 10.9 .5 8.8 -.2 16 -1.6 12.5 -2 14.2 -3 15.6 -4.1 16.7 -5.2 8.5 -3.1 8.5 -3.4 8.3 -3.6 8 -3.9 7.3 -4.1 6.6 -4.1 5.4 -4.2 4.1 -4 2.6 -3.9 .8 -3.4 -1.1 -3 -3.1 -2.5 -5.1 -1.7 -7 -1 -8.6 -.3 -10.1 .4 -11.1 1 -11.9 1.6 -24.5 4.1 -23.8 4.8 -21.2 4.6 -38.5 9.1 -10 2.7 -7.5 2.5 -5.6 2.3 -2.3 1.2 -3.5 2.3 -2.5 2.5 -2.5 3.7 -1.5 3.9 -.9 3.9 -2 17.6 -1.3 6.6 -.9 2.6 -1.1 2.3 -1.5 2.3 -1.9 2.1 -2.6 2 -3.4 2 -4.6 1.9 -3.9 1.3 -10.4 2.5 -15.3 2.3 M1252.6 860.9l13.3 -1.7 14.7 -3 15.5 -4.4 10.1 -3.7 4.7 -2.1 8.3 -4.2 3.5 -2.2 2.8 -2.2 2.1 -2.1 1.4 -2 .5 -1.8 -.5 -1.6 -1.3 -1.4 -2.3 -1.1 -3.2 -.8 -4 -.5 -4.7 -.2 -11.4 .5 -6.3 .6 -13.3 1.8 -19.8 3.6 -17.4 3.9 -13.8 3.7 -7 2.3 -5.5 2.2 -2.1 1.1 -3.3 2.1 -2.1 2 -.9 1.9 0 1.9 .9 1.9 1.8 1.7 1.2 .8 3 1.5 3.8 1.2 4.6 1.1 5.4 .7 6.4 .3 11.2 -.3 13.3 -1.4 15.2 -2.9 10.8 -2.7 10.9 -3.5 5.4 -1.9 10.1 -4.3 8.6 -4.6 3.5 -2.4 2.8 -2.3 2 -2.2 1.1 -2.1 .2 -1.9 -.8 -1.6 -1.9 -1.4 -2.8 -1 -3.8 -.8 -4.6 -.4 -5.4 0 -12.7 .8 -14 1.8 -21.3 3.7 -19 4.1 -15.3 4 -7.8 2.4 -6.2 2.3 -4.5 2.2 -3.1 2.1 -1.9 2.1 -.9 2 .2 2 .3 .9 1.4 1.9 3.6 2.5 3.4 1.5 4.1 1.3 5 .9 5.9 .7 6.8 .2 12.1 -.5 14.2 -1.7 16.2 -3.3 11.6 -3.1 11.6 -3.9 5.7 -2.1 10.6 -4.8 4.7 -2.5 4.1 -2.5 3.5 -2.5 2.6 -2.5 1.8 -2.4 .7 -2.1 -.3 -2 -1.4 -1.6 -2.5 -1.3 -3.7 -1 -4.6 -.5 -5.5 -.2 -6.3 .1 -14.2 1.3 -15.4 2.2 -22.7 4.2 -19.5 4.4 -15.3 4.1 -7.7 2.4 -5.9 2.4 -4.3 2.2 -2.9 2.2 -1.8 2.1 -.4 1 -.3 2.1 .7 2 .6 1 1.8 1.9 4.1 2.6 3.6 1.5 4.5 1.3 5.3 .9 6.2 .6 7.2 .2 12.8 -.6 15.1 -2 17.4 -3.7 12.4 -3.4 6.3 -2 12.4 -4.7 5.9 -2.5 5.5 -2.7 5 -2.8 4.5 -2.8 3.6 -2.7 2.7 -2.8 1.8 -2.5 .5 -2.4 -.6 -2 -1.9 -1.7 -3.1 -1.4 -4.3 -.9 -5.4 -.5 -6.3 0 -7.2 .3 -16 1.7 -17 2.6 -24.3 4.7 -20.6 4.8 -15.6 4.2 -7.8 2.5 -5.9 2.4 -4.3 2.2 -2.9 2.3 -1.7 2.2 -.5 1.1 -.3 2.2 .1 1 .9 2.2 2.6 3 4.1 2.7 3.7 1.6 4.4 1.3 5.2 1.1 6.2 .7 7.1 .3 8.3 -.1 9.4 -.7 16.4 -2.4 12.3 -2.6 6.6 -1.6 13.6 -3.9 6.9 -2.3 13.6 -5.2 6.5 -2.9 6 -3.1 5.5 -3.1 4.7 -3.2 3.9 -3.1 2.8 -3 1.5 -2.9 .3 -2.5 -1.2 -2.2 -2.6 -1.8 -4 -1.3 -5.3 -.8 -6.6 -.3 -7.6 .1 -8.4 .6 -9 1 -19 2.9 -27.5 5.3 -30 6.8 -16 4.3 -7.7 2.6 -5.9 2.4 -4.2 2.3 -1.6 1.2 -2.3 2.3 -1.3 2.3 -.3 1.1 -.1 2.3 1 3.4 1.5 2.2 1.9 2.1 4.1 2.9 5.5 2.4 4.6 1.3 5.4 1.1 6.4 .7 7.4 .2 8.6 -.2 10 -.8 17.5 -2.6 13.5 -2.9 7.1 -1.7 15.2 -4.4 7.8 -2.6 15.6 -5.9 7.5 -3.3 7.2 -3.6 6.5 -3.6 5.7 -3.8 4.8 -3.7 3.5 -3.6 2.1 -3.4 .5 -3.1 -1.1 -2.6 -3 -2.1 -4.6 -1.6 -6.3 -.9 -7.7 -.3 -9 .3 -10 .8 -10.6 1.3 -22.1 3.6 -31.7 6.3 -33.4 7.7 -12.2 3.1 -9.6 2.7 -7.2 2.5 -5.4 2.4 -3.8 2.3 -2.7 2.4 -1.8 2.4 -1.3 3.7 -.2 3.7 .6 3.7 1.4 3.5 2 3.4 2.9 3 3.7 2.7 3.2 1.5 3.7 1.4 4.5 1.1 5.2 .8 6.3 .5 7.4 .1 13.7 -.8" fill="none" stroke="#0072bd" stroke-width="2.00" stroke-linejoin="round" stroke-linecap="round"/><g stroke-linecap="butt"><line x1="889.65" y1="919.35" x2="1171.02" y2="1039.42" stroke="#262626" stroke-width="2.00"/><line x1="1171.02" y1="1039.42" x2="1452.79" y2="919.04" stroke="#262626" stroke-width="2.00"/><line x1="889.65" y1="919.35" x2="889.65" y2="747.10" stroke="#262626" stroke-width="2.00"/><line x1="889.65" y1="919.35" x2="883.25" y2="922.05" stroke="#262626" stroke-width="2.00"/><line x1="1030.34" y1="979.38" x2="1023.94" y2="982.09" stroke="#262626" stroke-width="2.00"/><line x1="1171.02" y1="1039.42" x2="1164.62" y2="1042.12" stroke="#262626" stroke-width="2.00"/><line x1="1179.38" y1="1035.85" x2="1185.78" y2="1038.55" stroke="#262626" stroke-width="2.00"/><line x1="1305.09" y1="982.14" x2="1311.49" y2="984.84" stroke="#262626" stroke-width="2.00"/><line x1="1430.79" y1="928.44" x2="1437.19" y2="931.14" stroke="#262626" stroke-width="2.00"/><line x1="889.65" y1="919.35" x2="882.45" y2="917.15" stroke="#262626" stroke-width="2.00"/><line x1="889.65" y1="747.10" x2="882.45" y2="744.90" stroke="#262626" stroke-width="2.00"/></g><g><text x="1105.73" y="609.90" font-size="30.50" fill="#000">lows = 25</text><text x="855.12" y="923.37" font-size="29.00" fill="#262626">0</text><text x="839.17" y="752.47" font-size="29.00" fill="#262626">50</text><text x="829.34" y="954.57" font-size="29.00" fill="#262626">-20</text><text x="994.52" y="1015.17" font-size="29.00" fill="#262626">0</text><text x="1119.72" y="1075.67" font-size="29.00" fill="#262626">20</text><text x="1195.24" y="1073.47" font-size="29.00" fill="#262626">-20</text><text x="1320.92" y="1019.57" font-size="29.00" fill="#262626">0</text><text x="1443.42" y="965.97" font-size="29.00" fill="#262626">20</text><text x="1001.80" y="1085.11" font-size="30.00" fill="#262626">x</text><text x="1326.10" y="1083.70" font-size="30.00" fill="#262626">y</text><text transform="translate(821.21 841.55) rotate(-90)" font-size="30.00" fill="#262626">z</text></g></svg></body></html>
